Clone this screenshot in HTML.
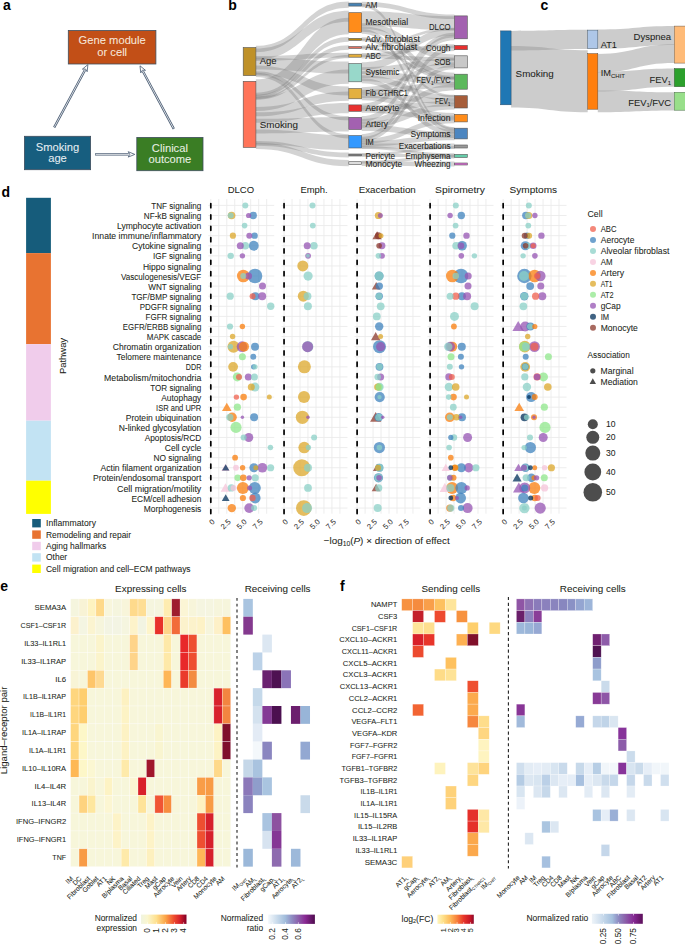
<!DOCTYPE html><html><head><meta charset="utf-8"><style>html,body{margin:0;padding:0;background:#fff;overflow:hidden}svg{display:block} text{font-family:"Liberation Sans", sans-serif}</style></head><body>
<svg width="685" height="946" viewBox="0 0 685 946">
<rect width="685" height="946" fill="#fff"/>
<text x="3.00" y="10.20" font-size="14" text-anchor="start" fill="#000" font-weight="bold" >a</text>
<rect x="68.30" y="30.50" width="87.60" height="33.50" fill="#C24F17" stroke="#3F4E5E" stroke-width="0.8" />
<text x="112.20" y="43.80" font-size="11.2" text-anchor="middle" fill="#F7E6DA" stroke="#F7E6DA" stroke-width="0.06" >Gene module</text>
<text x="112.20" y="56.40" font-size="11.2" text-anchor="middle" fill="#F7E6DA" stroke="#F7E6DA" stroke-width="0.06" >or cell</text>
<rect x="24.40" y="136.30" width="66.20" height="33.40" fill="#175E7F" stroke="#3F4E5E" stroke-width="0.8" />
<text x="57.50" y="150.60" font-size="11.2" text-anchor="middle" fill="#E6EEF3" stroke="#E6EEF3" stroke-width="0.06" >Smoking</text>
<text x="57.50" y="162.40" font-size="11.2" text-anchor="middle" fill="#E6EEF3" stroke="#E6EEF3" stroke-width="0.06" >age</text>
<rect x="136.80" y="137.40" width="66.20" height="33.30" fill="#3A7D24" stroke="#3F4E5E" stroke-width="0.8" />
<text x="169.90" y="151.60" font-size="11.2" text-anchor="middle" fill="#E8F0E3" stroke="#E8F0E3" stroke-width="0.06" >Clinical</text>
<text x="169.90" y="163.40" font-size="11.2" text-anchor="middle" fill="#E8F0E3" stroke="#E8F0E3" stroke-width="0.06" >outcome</text>
<line x1="54.20" y1="127.40" x2="85.02" y2="69.97" stroke="#44576F" stroke-width="2.3"/>
<line x1="54.48" y1="126.87" x2="85.16" y2="69.71" stroke="#fff" stroke-width="0.8"/>
<polygon points="87.90,64.60 87.16,71.69 85.54,69.01 82.40,69.14" fill="#fff" stroke="#44576F" stroke-width="0.8" stroke-linejoin="miter"/>
<line x1="173.80" y1="128.90" x2="142.88" y2="71.18" stroke="#44576F" stroke-width="2.3"/>
<line x1="173.52" y1="128.37" x2="142.74" y2="70.91" stroke="#fff" stroke-width="0.8"/>
<polygon points="140.00,65.80 145.50,70.34 142.36,70.21 140.74,72.89" fill="#fff" stroke="#44576F" stroke-width="0.8" stroke-linejoin="miter"/>
<line x1="95.10" y1="154.40" x2="128.70" y2="154.40" stroke="#44576F" stroke-width="2.3"/>
<line x1="95.70" y1="154.40" x2="129.00" y2="154.40" stroke="#fff" stroke-width="0.8"/>
<polygon points="134.80,154.40 128.20,157.10 129.80,154.40 128.20,151.70" fill="#fff" stroke="#44576F" stroke-width="0.8" stroke-linejoin="miter"/>
<text x="228.30" y="10.00" font-size="14" text-anchor="start" fill="#000" font-weight="bold" >b</text>
<path d="M255.90,45.85 C302.35,45.85 302.35,1.45 348.80,1.45 L348.80,7.75 C302.35,7.75 302.35,52.15 255.90,52.15 Z" fill="#767676" fill-opacity="0.32"/>
<path d="M255.90,48.50 C302.35,48.50 302.35,10.70 348.80,10.70 L348.80,21.70 C302.35,21.70 302.35,59.50 255.90,59.50 Z" fill="#767676" fill-opacity="0.32"/>
<path d="M255.90,56.10 C302.35,56.10 302.35,52.80 348.80,52.80 L348.80,57.60 C302.35,57.60 302.35,60.90 255.90,60.90 Z" fill="#767676" fill-opacity="0.32"/>
<path d="M255.90,57.50 C302.35,57.50 302.35,61.60 348.80,61.60 L348.80,73.60 C302.35,73.60 302.35,69.50 255.90,69.50 Z" fill="#767676" fill-opacity="0.32"/>
<path d="M255.90,65.50 C302.35,65.50 302.35,86.60 348.80,86.60 L348.80,95.60 C302.35,95.60 302.35,74.50 255.90,74.50 Z" fill="#767676" fill-opacity="0.32"/>
<path d="M255.90,72.82 C302.35,72.82 302.35,134.32 348.80,134.32 L348.80,138.38 C302.35,138.38 302.35,76.88 255.90,76.88 Z" fill="#767676" fill-opacity="0.32"/>
<path d="M255.90,71.20 C302.35,71.20 302.35,116.10 348.80,116.10 L348.80,120.30 C302.35,120.30 302.35,75.40 255.90,75.40 Z" fill="#767676" fill-opacity="0.32"/>
<path d="M255.90,79.30 C302.35,79.30 302.35,17.70 348.80,17.70 L348.80,34.30 C302.35,34.30 302.35,96.03 255.90,96.03 Z" fill="#767676" fill-opacity="0.32"/>
<path d="M255.90,92.66 C302.35,92.66 302.35,37.02 348.80,37.02 L348.80,41.67 C302.35,41.67 302.35,97.33 255.90,97.33 Z" fill="#767676" fill-opacity="0.32"/>
<path d="M255.90,94.61 C302.35,94.61 302.35,45.25 348.80,45.25 L348.80,49.75 C302.35,49.75 302.35,99.12 255.90,99.12 Z" fill="#767676" fill-opacity="0.32"/>
<path d="M255.90,96.62 C302.35,96.62 302.35,55.05 348.80,55.05 L348.80,58.35 C302.35,58.35 302.35,99.94 255.90,99.94 Z" fill="#767676" fill-opacity="0.32"/>
<path d="M255.90,96.79 C302.35,96.79 302.35,69.60 348.80,69.60 L348.80,83.80 C302.35,83.80 302.35,111.09 255.90,111.09 Z" fill="#767676" fill-opacity="0.32"/>
<path d="M255.90,107.09 C302.35,107.09 302.35,91.60 348.80,91.60 L348.80,100.80 C302.35,100.80 302.35,116.35 255.90,116.35 Z" fill="#767676" fill-opacity="0.32"/>
<path d="M255.90,112.35 C302.35,112.35 302.35,102.90 348.80,102.90 L348.80,113.30 C302.35,113.30 302.35,122.82 255.90,122.82 Z" fill="#767676" fill-opacity="0.32"/>
<path d="M255.90,118.82 C302.35,118.82 302.35,117.00 348.80,117.00 L348.80,131.50 C302.35,131.50 302.35,133.43 255.90,133.43 Z" fill="#767676" fill-opacity="0.32"/>
<path d="M255.90,129.43 C302.35,129.43 302.35,135.10 348.80,135.10 L348.80,150.00 C302.35,150.00 302.35,144.45 255.90,144.45 Z" fill="#767676" fill-opacity="0.32"/>
<path d="M255.90,141.05 C302.35,141.05 302.35,152.60 348.80,152.60 L348.80,157.40 C302.35,157.40 302.35,145.87 255.90,145.87 Z" fill="#767676" fill-opacity="0.32"/>
<path d="M255.90,142.84 C302.35,142.84 302.35,160.07 348.80,160.07 L348.80,166.22 C302.35,166.22 302.35,149.03 255.90,149.03 Z" fill="#767676" fill-opacity="0.32"/>
<path d="M361.70,1.76 C408.05,1.76 408.05,14.56 454.40,14.56 L454.40,19.08 C408.05,19.08 408.05,6.44 361.70,6.44 Z" fill="#767676" fill-opacity="0.32"/>
<path d="M361.70,4.05 C408.05,4.05 408.05,127.15 454.40,127.15 L454.40,130.25 C408.05,130.25 408.05,7.15 361.70,7.15 Z" fill="#767676" fill-opacity="0.32"/>
<path d="M361.70,11.30 C408.05,11.30 408.05,16.34 454.40,16.34 L454.40,30.18 C408.05,30.18 408.05,26.10 361.70,26.10 Z" fill="#767676" fill-opacity="0.32"/>
<path d="M361.70,23.30 C408.05,23.30 408.05,54.40 454.40,54.40 L454.40,59.99 C408.05,59.99 408.05,29.10 361.70,29.10 Z" fill="#767676" fill-opacity="0.32"/>
<path d="M361.70,26.30 C408.05,26.30 408.05,72.80 454.40,72.80 L454.40,78.39 C408.05,78.39 408.05,31.70 361.70,31.70 Z" fill="#767676" fill-opacity="0.32"/>
<path d="M361.70,28.90 C408.05,28.90 408.05,127.80 454.40,127.80 L454.40,132.60 C408.05,132.60 408.05,33.70 361.70,33.70 Z" fill="#767676" fill-opacity="0.32"/>
<path d="M361.70,37.35 C408.05,37.35 408.05,75.94 454.40,75.94 L454.40,79.11 C408.05,79.11 408.05,40.45 361.70,40.45 Z" fill="#767676" fill-opacity="0.32"/>
<path d="M361.70,38.38 C408.05,38.38 408.05,94.69 454.40,94.69 L454.40,97.62 C408.05,97.62 408.05,41.31 361.70,41.31 Z" fill="#767676" fill-opacity="0.32"/>
<path d="M361.70,45.61 C408.05,45.61 408.05,27.79 454.40,27.79 L454.40,30.59 C408.05,30.59 408.05,48.49 361.70,48.49 Z" fill="#767676" fill-opacity="0.32"/>
<path d="M361.70,46.48 C408.05,46.48 408.05,77.04 454.40,77.04 L454.40,80.04 C408.05,80.04 408.05,49.41 361.70,49.41 Z" fill="#767676" fill-opacity="0.32"/>
<path d="M361.70,52.98 C408.05,52.98 408.05,44.17 454.40,44.17 L454.40,48.24 C408.05,48.24 408.05,56.93 361.70,56.93 Z" fill="#767676" fill-opacity="0.32"/>
<path d="M361.70,54.51 C408.05,54.51 408.05,57.40 454.40,57.40 L454.40,61.18 C408.05,61.18 408.05,58.39 361.70,58.39 Z" fill="#767676" fill-opacity="0.32"/>
<path d="M361.70,62.20 C408.05,62.20 408.05,28.20 454.40,28.20 L454.40,35.60 C408.05,35.60 408.05,70.00 361.70,70.00 Z" fill="#767676" fill-opacity="0.32"/>
<path d="M361.70,67.20 C408.05,67.20 408.05,58.59 454.40,58.59 L454.40,65.11 C408.05,65.11 408.05,74.00 361.70,74.00 Z" fill="#767676" fill-opacity="0.32"/>
<path d="M361.70,71.20 C408.05,71.20 408.05,77.62 454.40,77.62 L454.40,84.71 C408.05,84.71 408.05,78.00 361.70,78.00 Z" fill="#767676" fill-opacity="0.32"/>
<path d="M361.70,75.20 C408.05,75.20 408.05,95.20 454.40,95.20 L454.40,101.00 C408.05,101.00 408.05,81.00 361.70,81.00 Z" fill="#767676" fill-opacity="0.32"/>
<path d="M361.70,78.20 C408.05,78.20 408.05,129.80 454.40,129.80 L454.40,134.80 C408.05,134.80 408.05,83.20 361.70,83.20 Z" fill="#767676" fill-opacity="0.32"/>
<path d="M361.70,87.20 C408.05,87.20 408.05,62.31 454.40,62.31 L454.40,67.44 C408.05,67.44 408.05,92.50 361.70,92.50 Z" fill="#767676" fill-opacity="0.32"/>
<path d="M361.70,89.70 C408.05,89.70 408.05,81.91 454.40,81.91 L454.40,87.39 C408.05,87.39 408.05,95.00 361.70,95.00 Z" fill="#767676" fill-opacity="0.32"/>
<path d="M361.70,92.20 C408.05,92.20 408.05,98.20 454.40,98.20 L454.40,104.00 C408.05,104.00 408.05,98.00 361.70,98.00 Z" fill="#767676" fill-opacity="0.32"/>
<path d="M361.70,95.20 C408.05,95.20 408.05,112.90 454.40,112.90 L454.40,118.20 C408.05,118.20 408.05,100.20 361.70,100.20 Z" fill="#767676" fill-opacity="0.32"/>
<path d="M361.70,103.56 C408.05,103.56 408.05,32.86 454.40,32.86 L454.40,37.38 C408.05,37.38 408.05,108.24 361.70,108.24 Z" fill="#767676" fill-opacity="0.32"/>
<path d="M361.70,105.50 C408.05,105.50 408.05,101.20 454.40,101.20 L454.40,106.40 C408.05,106.40 408.05,110.70 361.70,110.70 Z" fill="#767676" fill-opacity="0.32"/>
<path d="M361.70,107.90 C408.05,107.90 408.05,115.40 454.40,115.40 L454.40,120.46 C408.05,120.46 408.05,112.70 361.70,112.70 Z" fill="#767676" fill-opacity="0.32"/>
<path d="M361.70,116.00 C408.05,116.00 408.05,34.64 454.40,34.64 L454.40,40.20 C408.05,40.20 408.05,121.80 361.70,121.80 Z" fill="#767676" fill-opacity="0.32"/>
<path d="M361.70,119.00 C408.05,119.00 408.05,84.59 454.40,84.59 L454.40,90.60 C408.05,90.60 408.05,124.80 361.70,124.80 Z" fill="#767676" fill-opacity="0.32"/>
<path d="M361.70,122.00 C408.05,122.00 408.05,103.60 454.40,103.60 L454.40,109.40 C408.05,109.40 408.05,127.80 361.70,127.80 Z" fill="#767676" fill-opacity="0.32"/>
<path d="M361.70,125.00 C408.05,125.00 408.05,132.00 454.40,132.00 L454.40,137.90 C408.05,137.90 408.05,130.90 361.70,130.90 Z" fill="#767676" fill-opacity="0.32"/>
<path d="M361.70,134.20 C408.05,134.20 408.05,45.61 454.40,45.61 L454.40,51.10 C408.05,51.10 408.05,139.50 361.70,139.50 Z" fill="#767676" fill-opacity="0.32"/>
<path d="M361.70,136.75 C408.05,136.75 408.05,64.69 454.40,64.69 L454.40,69.25 C408.05,69.25 408.05,141.45 361.70,141.45 Z" fill="#767676" fill-opacity="0.32"/>
<path d="M361.70,138.70 C408.05,138.70 408.05,117.66 454.40,117.66 L454.40,123.30 C408.05,123.30 408.05,144.00 361.70,144.00 Z" fill="#767676" fill-opacity="0.32"/>
<path d="M361.70,141.20 C408.05,141.20 408.05,135.10 454.40,135.10 L454.40,140.30 C408.05,140.30 408.05,146.40 361.70,146.40 Z" fill="#767676" fill-opacity="0.32"/>
<path d="M361.70,143.60 C408.05,143.60 408.05,143.60 454.40,143.60 L454.40,148.54 C408.05,148.54 408.05,148.40 361.70,148.40 Z" fill="#767676" fill-opacity="0.32"/>
<path d="M361.70,145.95 C408.05,145.95 408.05,153.35 454.40,153.35 L454.40,156.45 C408.05,156.45 408.05,149.05 361.70,149.05 Z" fill="#767676" fill-opacity="0.32"/>
<path d="M361.70,153.68 C408.05,153.68 408.05,154.28 454.40,154.28 L454.40,157.72 C408.05,157.72 408.05,157.12 361.70,157.12 Z" fill="#767676" fill-opacity="0.32"/>
<path d="M361.70,153.02 C408.05,153.02 408.05,146.16 454.40,146.16 L454.40,148.98 C408.05,148.98 408.05,155.78 361.70,155.78 Z" fill="#767676" fill-opacity="0.32"/>
<path d="M361.70,161.20 C408.05,161.20 408.05,161.60 454.40,161.60 L454.40,166.40 C408.05,166.40 408.05,166.00 361.70,166.00 Z" fill="#767676" fill-opacity="0.32"/>
<path d="M361.70,160.68 C408.05,160.68 408.05,155.58 454.40,155.58 L454.40,158.52 C408.05,158.52 408.05,163.62 361.70,163.62 Z" fill="#767676" fill-opacity="0.32"/>
<rect x="243.20" y="47.50" width="12.70" height="28.10" fill="#BF9128" stroke="#555" stroke-width="0.6" />
<rect x="243.20" y="81.30" width="12.70" height="66.10" fill="#FF7459" stroke="#555" stroke-width="0.6" />
<rect x="348.80" y="3.10" width="12.90" height="3.00" fill="#4682B4" stroke="#555" stroke-width="0.6" />
<rect x="348.80" y="12.70" width="12.90" height="19.60" fill="#FF8C1A" stroke="#555" stroke-width="0.6" />
<rect x="348.80" y="38.40" width="12.90" height="1.90" fill="#B8860B" stroke="#555" stroke-width="0.6" />
<rect x="348.80" y="46.60" width="12.90" height="1.80" fill="#E07060" stroke="#555" stroke-width="0.6" />
<rect x="348.80" y="54.20" width="12.90" height="3.00" fill="#E5AE3A" stroke="#555" stroke-width="0.6" />
<rect x="348.80" y="63.60" width="12.90" height="18.20" fill="#98D8CA" stroke="#555" stroke-width="0.6" />
<rect x="348.80" y="88.60" width="12.90" height="10.20" fill="#E3B040" stroke="#555" stroke-width="0.6" />
<rect x="348.80" y="104.90" width="12.90" height="6.40" fill="#E8302F" stroke="#555" stroke-width="0.6" />
<rect x="348.80" y="117.40" width="12.90" height="12.10" fill="#A361B0" stroke="#555" stroke-width="0.6" />
<rect x="348.80" y="135.60" width="12.90" height="12.40" fill="#3399FF" stroke="#555" stroke-width="0.6" />
<rect x="348.80" y="154.00" width="12.90" height="2.00" fill="#808080" stroke="#555" stroke-width="0.6" />
<rect x="348.80" y="161.70" width="12.90" height="2.90" fill="#DDDDDD" stroke="#555" stroke-width="0.6" />
<rect x="454.40" y="15.90" width="12.90" height="22.90" fill="#A361B0" stroke="#555" stroke-width="0.6" />
<rect x="454.40" y="45.40" width="12.90" height="4.30" fill="#E8302F" stroke="#555" stroke-width="0.6" />
<rect x="454.40" y="55.80" width="12.90" height="12.10" fill="#C8C8C8" stroke="#555" stroke-width="0.6" />
<rect x="454.40" y="74.20" width="12.90" height="15.00" fill="#5CB85C" stroke="#555" stroke-width="0.6" />
<rect x="454.40" y="95.70" width="12.90" height="12.30" fill="#A65D3A" stroke="#555" stroke-width="0.6" />
<rect x="454.40" y="114.30" width="12.90" height="7.60" fill="#FF8C1A" stroke="#555" stroke-width="0.6" />
<rect x="454.40" y="128.20" width="12.90" height="10.70" fill="#4C86C0" stroke="#555" stroke-width="0.6" />
<rect x="454.40" y="145.00" width="12.90" height="3.00" fill="#999999" stroke="#555" stroke-width="0.6" />
<rect x="454.40" y="154.40" width="12.90" height="3.10" fill="#66CDAA" stroke="#555" stroke-width="0.6" />
<rect x="454.40" y="163.00" width="12.90" height="2.00" fill="#DA70D6" stroke="#555" stroke-width="0.6" />
<text x="259.70" y="63.90" font-size="9.9" text-anchor="start" fill="#231F20" stroke="#231F20" stroke-width="0.06" textLength="17" lengthAdjust="spacingAndGlyphs">Age</text>
<text x="259.70" y="128.00" font-size="9.9" text-anchor="start" fill="#231F20" stroke="#231F20" stroke-width="0.06" textLength="38.3" lengthAdjust="spacingAndGlyphs">Smoking</text>
<text x="365.50" y="7.60" font-size="8.3" text-anchor="start" fill="#231F20" stroke="#231F20" stroke-width="0.06" textLength="11.9" lengthAdjust="spacingAndGlyphs">AM</text>
<text x="365.50" y="25.40" font-size="8.3" text-anchor="start" fill="#231F20" stroke="#231F20" stroke-width="0.06" textLength="42.6" lengthAdjust="spacingAndGlyphs">Mesothelial</text>
<text x="365.50" y="42.00" font-size="8.3" text-anchor="start" fill="#231F20" stroke="#231F20" stroke-width="0.06" textLength="54.4" lengthAdjust="spacingAndGlyphs">Adv. fibroblast</text>
<text x="365.50" y="49.70" font-size="8.3" text-anchor="start" fill="#231F20" stroke="#231F20" stroke-width="0.06" textLength="51.8" lengthAdjust="spacingAndGlyphs">Alv. fibroblast</text>
<text x="365.50" y="58.60" font-size="8.3" text-anchor="start" fill="#231F20" stroke="#231F20" stroke-width="0.06" textLength="15.4" lengthAdjust="spacingAndGlyphs">ABC</text>
<text x="365.50" y="75.40" font-size="8.3" text-anchor="start" fill="#231F20" stroke="#231F20" stroke-width="0.06" textLength="33.8" lengthAdjust="spacingAndGlyphs">Systemic</text>
<text x="365.50" y="96.30" font-size="8.3" text-anchor="start" fill="#231F20" stroke="#231F20" stroke-width="0.06" textLength="42.5" lengthAdjust="spacingAndGlyphs">Fib CTHRC1</text>
<text x="365.50" y="111.00" font-size="8.3" text-anchor="start" fill="#231F20" stroke="#231F20" stroke-width="0.06" textLength="33.8" lengthAdjust="spacingAndGlyphs">Aerocyte</text>
<text x="365.50" y="126.80" font-size="8.3" text-anchor="start" fill="#231F20" stroke="#231F20" stroke-width="0.06" textLength="22.5" lengthAdjust="spacingAndGlyphs">Artery</text>
<text x="365.50" y="144.80" font-size="8.3" text-anchor="start" fill="#231F20" stroke="#231F20" stroke-width="0.06" textLength="8.2" lengthAdjust="spacingAndGlyphs">IM</text>
<text x="365.50" y="158.80" font-size="8.3" text-anchor="start" fill="#231F20" stroke="#231F20" stroke-width="0.06" textLength="29.6" lengthAdjust="spacingAndGlyphs">Pericyte</text>
<text x="365.50" y="167.00" font-size="8.3" text-anchor="start" fill="#231F20" stroke="#231F20" stroke-width="0.06" textLength="36.8" lengthAdjust="spacingAndGlyphs">Monocyte</text>
<text x="450.50" y="30.30" font-size="8.3" text-anchor="end" fill="#231F20" stroke="#231F20" stroke-width="0.06" textLength="21.5" lengthAdjust="spacingAndGlyphs">DLCO</text>
<text x="450.50" y="50.60" font-size="8.3" text-anchor="end" fill="#231F20" stroke="#231F20" stroke-width="0.06" textLength="24.7" lengthAdjust="spacingAndGlyphs">Cough</text>
<text x="450.50" y="64.60" font-size="8.3" text-anchor="end" fill="#231F20" stroke="#231F20" stroke-width="0.06" textLength="15.9" lengthAdjust="spacingAndGlyphs">SOB</text>
<text x="450.50" y="83.30" font-size="8.3" text-anchor="end" fill="#231F20" stroke="#231F20" stroke-width="0.06" textLength="33.9" lengthAdjust="spacingAndGlyphs">FEV<tspan font-size="5.4" dy="1.8">1</tspan><tspan dy="-1.8">/FVC</tspan></text>
<text x="450.50" y="104.00" font-size="8.3" text-anchor="end" fill="#231F20" stroke="#231F20" stroke-width="0.06" textLength="15.5" lengthAdjust="spacingAndGlyphs">FEV<tspan font-size="5.4" dy="1.8">1</tspan></text>
<text x="450.50" y="121.30" font-size="8.3" text-anchor="end" fill="#231F20" stroke="#231F20" stroke-width="0.06" textLength="32.8" lengthAdjust="spacingAndGlyphs">Infection</text>
<text x="450.50" y="136.60" font-size="8.3" text-anchor="end" fill="#231F20" stroke="#231F20" stroke-width="0.06" textLength="40.0" lengthAdjust="spacingAndGlyphs">Symptoms</text>
<text x="450.50" y="149.30" font-size="8.3" text-anchor="end" fill="#231F20" stroke="#231F20" stroke-width="0.06" textLength="51.7" lengthAdjust="spacingAndGlyphs">Exacerbations</text>
<text x="450.50" y="158.60" font-size="8.3" text-anchor="end" fill="#231F20" stroke="#231F20" stroke-width="0.06" textLength="45.1" lengthAdjust="spacingAndGlyphs">Emphysema</text>
<text x="450.50" y="167.00" font-size="8.3" text-anchor="end" fill="#231F20" stroke="#231F20" stroke-width="0.06" textLength="35.9" lengthAdjust="spacingAndGlyphs">Wheezing</text>
<text x="540.60" y="10.20" font-size="14" text-anchor="start" fill="#000" font-weight="bold" >c</text>
<path d="M511.10,30.90 C549.40,30.90 549.40,29.80 587.70,29.80 L587.70,49.00 C549.40,49.00 549.40,50.50 511.10,50.50 Z" fill="#9A9A9A" fill-opacity="0.5"/>
<path d="M511.10,46.00 C549.40,46.00 549.40,50.30 587.70,50.30 L587.70,112.30 C549.40,112.30 549.40,107.50 511.10,107.50 Z" fill="#9A9A9A" fill-opacity="0.5"/>
<path d="M597.80,29.60 C636.05,29.60 636.05,26.10 674.30,26.10 L674.30,45.00 C636.05,45.00 636.05,48.80 597.80,48.80 Z" fill="#9A9A9A" fill-opacity="0.5"/>
<path d="M597.80,53.90 C636.05,53.90 636.05,44.30 674.30,44.30 L674.30,63.10 C636.05,63.10 636.05,72.50 597.80,72.50 Z" fill="#9A9A9A" fill-opacity="0.5"/>
<path d="M597.80,72.00 C636.05,72.00 636.05,68.60 674.30,68.60 L674.30,86.70 C636.05,86.70 636.05,91.50 597.80,91.50 Z" fill="#9A9A9A" fill-opacity="0.5"/>
<path d="M597.80,90.50 C636.05,90.50 636.05,92.30 674.30,92.30 L674.30,110.60 C636.05,110.60 636.05,112.30 597.80,112.30 Z" fill="#9A9A9A" fill-opacity="0.5"/>
<rect x="500.60" y="30.90" width="10.50" height="73.90" fill="#1F77B4" stroke="#2B4B66" stroke-width="0.5" />
<rect x="587.70" y="30.10" width="10.10" height="18.50" fill="#AEC7E8" stroke="#3E5060" stroke-width="0.5" />
<rect x="587.70" y="53.70" width="10.10" height="55.50" fill="#FF7F0E" stroke="#5E4530" stroke-width="0.5" />
<rect x="674.30" y="26.10" width="12.00" height="37.00" fill="#FFBB78" stroke="#6B5A48" stroke-width="0.5" />
<rect x="674.30" y="68.60" width="12.00" height="18.10" fill="#2CA02C" stroke="#305030" stroke-width="0.5" />
<rect x="674.30" y="92.30" width="12.00" height="17.90" fill="#98DF8A" stroke="#4B6B48" stroke-width="0.5" />
<text x="515.60" y="77.30" font-size="9.8" text-anchor="start" fill="#231F20" stroke="#231F20" stroke-width="0.06" >Smoking</text>
<text x="600.80" y="47.90" font-size="9.2" text-anchor="start" fill="#231F20" stroke="#231F20" stroke-width="0.06" >AT1</text>
<text x="600.80" y="75.70" font-size="9.2" text-anchor="start" fill="#231F20" stroke="#231F20" stroke-width="0.06" >IM<tspan font-size="6.0" dy="1.8">CHIT</tspan></text>
<text x="671.10" y="39.90" font-size="9.5" text-anchor="end" fill="#231F20" stroke="#231F20" stroke-width="0.06" >Dyspnea</text>
<text x="671.10" y="82.70" font-size="9.4" text-anchor="end" fill="#231F20" stroke="#231F20" stroke-width="0.06" >FEV<tspan font-size="6.0" dy="1.8">1</tspan></text>
<text x="671.10" y="105.60" font-size="9.4" text-anchor="end" fill="#231F20" stroke="#231F20" stroke-width="0.06" >FEV<tspan font-size="6.0" dy="1.8">1</tspan><tspan dy="-1.8">/FVC</tspan></text>
<text x="1.50" y="196.60" font-size="14" text-anchor="start" fill="#000" font-weight="bold" >d</text>
<rect x="26.10" y="197.80" width="24.80" height="55.30" fill="#165C7B" />
<rect x="26.10" y="253.10" width="24.80" height="91.10" fill="#E87331" />
<rect x="26.10" y="344.20" width="24.80" height="76.50" fill="#F0CCEB" />
<rect x="26.10" y="420.70" width="24.80" height="60.00" fill="#C2E3F3" />
<rect x="26.10" y="480.70" width="24.80" height="33.20" fill="#FFFF00" />
<text transform="translate(66.4,356) rotate(-90)" font-size="9.3" textLength="36.2" lengthAdjust="spacingAndGlyphs" text-anchor="middle" fill="#231F20" stroke="#231F20" stroke-width="0.06">Pathway</text>
<text x="201.30" y="209.00" font-size="8.45" text-anchor="end" fill="#231F20" stroke="#231F20" stroke-width="0.06" textLength="50" lengthAdjust="spacingAndGlyphs">TNF signaling</text>
<text x="201.30" y="219.09" font-size="8.45" text-anchor="end" fill="#231F20" stroke="#231F20" stroke-width="0.06" textLength="57.5" lengthAdjust="spacingAndGlyphs">NF-kB signaling</text>
<text x="201.30" y="229.18" font-size="8.45" text-anchor="end" fill="#231F20" stroke="#231F20" stroke-width="0.06" textLength="84.3" lengthAdjust="spacingAndGlyphs">Lymphocyte activation</text>
<text x="201.30" y="239.27" font-size="8.45" text-anchor="end" fill="#231F20" stroke="#231F20" stroke-width="0.06" textLength="109.2" lengthAdjust="spacingAndGlyphs">Innate immune/inflammatory</text>
<text x="201.30" y="249.36" font-size="8.45" text-anchor="end" fill="#231F20" stroke="#231F20" stroke-width="0.06" textLength="69.2" lengthAdjust="spacingAndGlyphs">Cytokine signaling</text>
<text x="201.30" y="259.45" font-size="8.45" text-anchor="end" fill="#231F20" stroke="#231F20" stroke-width="0.06" textLength="48.2" lengthAdjust="spacingAndGlyphs">IGF signaling</text>
<text x="201.30" y="269.54" font-size="8.45" text-anchor="end" fill="#231F20" stroke="#231F20" stroke-width="0.06" textLength="58.4" lengthAdjust="spacingAndGlyphs">Hippo signaling</text>
<text x="201.30" y="279.63" font-size="8.45" text-anchor="end" fill="#231F20" stroke="#231F20" stroke-width="0.06" textLength="80.3" lengthAdjust="spacingAndGlyphs">Vasculogenesis/VEGF</text>
<text x="201.30" y="289.72" font-size="8.45" text-anchor="end" fill="#231F20" stroke="#231F20" stroke-width="0.06" textLength="53.1" lengthAdjust="spacingAndGlyphs">WNT signaling</text>
<text x="201.30" y="299.81" font-size="8.45" text-anchor="end" fill="#231F20" stroke="#231F20" stroke-width="0.06" textLength="69.9" lengthAdjust="spacingAndGlyphs">TGF/BMP signaling</text>
<text x="201.30" y="309.90" font-size="8.45" text-anchor="end" fill="#231F20" stroke="#231F20" stroke-width="0.06" textLength="61.5" lengthAdjust="spacingAndGlyphs">PDGFR signaling</text>
<text x="201.30" y="319.99" font-size="8.45" text-anchor="end" fill="#231F20" stroke="#231F20" stroke-width="0.06" textLength="55.8" lengthAdjust="spacingAndGlyphs">FGFR signaling</text>
<text x="201.30" y="330.08" font-size="8.45" text-anchor="end" fill="#231F20" stroke="#231F20" stroke-width="0.06" textLength="78.5" lengthAdjust="spacingAndGlyphs">EGFR/ERBB signaling</text>
<text x="201.30" y="340.17" font-size="8.45" text-anchor="end" fill="#231F20" stroke="#231F20" stroke-width="0.06" textLength="54.5" lengthAdjust="spacingAndGlyphs">MAPK cascade</text>
<text x="201.30" y="350.26" font-size="8.45" text-anchor="end" fill="#231F20" stroke="#231F20" stroke-width="0.06" textLength="88.5" lengthAdjust="spacingAndGlyphs">Chromatin organization</text>
<text x="201.30" y="360.35" font-size="8.45" text-anchor="end" fill="#231F20" stroke="#231F20" stroke-width="0.06" textLength="84.7" lengthAdjust="spacingAndGlyphs">Telomere maintenance</text>
<text x="201.30" y="370.44" font-size="8.45" text-anchor="end" fill="#231F20" stroke="#231F20" stroke-width="0.06" textLength="15.5" lengthAdjust="spacingAndGlyphs">DDR</text>
<text x="201.30" y="380.53" font-size="8.45" text-anchor="end" fill="#231F20" stroke="#231F20" stroke-width="0.06" textLength="97.3" lengthAdjust="spacingAndGlyphs">Metabolism/mitochondria</text>
<text x="201.30" y="390.62" font-size="8.45" text-anchor="end" fill="#231F20" stroke="#231F20" stroke-width="0.06" textLength="51" lengthAdjust="spacingAndGlyphs">TOR signaling</text>
<text x="201.30" y="400.71" font-size="8.45" text-anchor="end" fill="#231F20" stroke="#231F20" stroke-width="0.06" textLength="40" lengthAdjust="spacingAndGlyphs">Autophagy</text>
<text x="201.30" y="410.80" font-size="8.45" text-anchor="end" fill="#231F20" stroke="#231F20" stroke-width="0.06" textLength="45.2" lengthAdjust="spacingAndGlyphs">ISR and UPR</text>
<text x="201.30" y="420.89" font-size="8.45" text-anchor="end" fill="#231F20" stroke="#231F20" stroke-width="0.06" textLength="75.6" lengthAdjust="spacingAndGlyphs">Protein ubiquination</text>
<text x="201.30" y="430.98" font-size="8.45" text-anchor="end" fill="#231F20" stroke="#231F20" stroke-width="0.06" textLength="82.6" lengthAdjust="spacingAndGlyphs">N-linked glycosylation</text>
<text x="201.30" y="441.07" font-size="8.45" text-anchor="end" fill="#231F20" stroke="#231F20" stroke-width="0.06" textLength="56.6" lengthAdjust="spacingAndGlyphs">Apoptosis/RCD</text>
<text x="201.30" y="451.16" font-size="8.45" text-anchor="end" fill="#231F20" stroke="#231F20" stroke-width="0.06" textLength="36.5" lengthAdjust="spacingAndGlyphs">Cell cycle</text>
<text x="201.30" y="461.25" font-size="8.45" text-anchor="end" fill="#231F20" stroke="#231F20" stroke-width="0.06" textLength="47.9" lengthAdjust="spacingAndGlyphs">NO signaling</text>
<text x="201.30" y="471.34" font-size="8.45" text-anchor="end" fill="#231F20" stroke="#231F20" stroke-width="0.06" textLength="100.8" lengthAdjust="spacingAndGlyphs">Actin filament organization</text>
<text x="201.30" y="481.43" font-size="8.45" text-anchor="end" fill="#231F20" stroke="#231F20" stroke-width="0.06" textLength="108.3" lengthAdjust="spacingAndGlyphs">Protein/endosomal transport</text>
<text x="201.30" y="491.52" font-size="8.45" text-anchor="end" fill="#231F20" stroke="#231F20" stroke-width="0.06" textLength="84.3" lengthAdjust="spacingAndGlyphs">Cell migration/motility</text>
<text x="201.30" y="501.61" font-size="8.45" text-anchor="end" fill="#231F20" stroke="#231F20" stroke-width="0.06" textLength="69.8" lengthAdjust="spacingAndGlyphs">ECM/cell adhesion</text>
<text x="201.30" y="511.70" font-size="8.45" text-anchor="end" fill="#231F20" stroke="#231F20" stroke-width="0.06" textLength="57.5" lengthAdjust="spacingAndGlyphs">Morphogenesis</text>
<text x="240.90" y="192.80" font-size="9.9" text-anchor="middle" fill="#231F20" stroke="#231F20" stroke-width="0.06" textLength="26.4" lengthAdjust="spacingAndGlyphs">DLCO</text>
<line x1="208.20" y1="205.40" x2="274.20" y2="205.40" stroke="#EBEBEB" stroke-width="0.9"/>
<line x1="208.20" y1="215.49" x2="274.20" y2="215.49" stroke="#EBEBEB" stroke-width="0.9"/>
<line x1="208.20" y1="225.58" x2="274.20" y2="225.58" stroke="#EBEBEB" stroke-width="0.9"/>
<line x1="208.20" y1="235.67" x2="274.20" y2="235.67" stroke="#EBEBEB" stroke-width="0.9"/>
<line x1="208.20" y1="245.76" x2="274.20" y2="245.76" stroke="#EBEBEB" stroke-width="0.9"/>
<line x1="208.20" y1="255.85" x2="274.20" y2="255.85" stroke="#EBEBEB" stroke-width="0.9"/>
<line x1="208.20" y1="265.94" x2="274.20" y2="265.94" stroke="#EBEBEB" stroke-width="0.9"/>
<line x1="208.20" y1="276.03" x2="274.20" y2="276.03" stroke="#EBEBEB" stroke-width="0.9"/>
<line x1="208.20" y1="286.12" x2="274.20" y2="286.12" stroke="#EBEBEB" stroke-width="0.9"/>
<line x1="208.20" y1="296.21" x2="274.20" y2="296.21" stroke="#EBEBEB" stroke-width="0.9"/>
<line x1="208.20" y1="306.30" x2="274.20" y2="306.30" stroke="#EBEBEB" stroke-width="0.9"/>
<line x1="208.20" y1="316.39" x2="274.20" y2="316.39" stroke="#EBEBEB" stroke-width="0.9"/>
<line x1="208.20" y1="326.48" x2="274.20" y2="326.48" stroke="#EBEBEB" stroke-width="0.9"/>
<line x1="208.20" y1="336.57" x2="274.20" y2="336.57" stroke="#EBEBEB" stroke-width="0.9"/>
<line x1="208.20" y1="346.66" x2="274.20" y2="346.66" stroke="#EBEBEB" stroke-width="0.9"/>
<line x1="208.20" y1="356.75" x2="274.20" y2="356.75" stroke="#EBEBEB" stroke-width="0.9"/>
<line x1="208.20" y1="366.84" x2="274.20" y2="366.84" stroke="#EBEBEB" stroke-width="0.9"/>
<line x1="208.20" y1="376.93" x2="274.20" y2="376.93" stroke="#EBEBEB" stroke-width="0.9"/>
<line x1="208.20" y1="387.02" x2="274.20" y2="387.02" stroke="#EBEBEB" stroke-width="0.9"/>
<line x1="208.20" y1="397.11" x2="274.20" y2="397.11" stroke="#EBEBEB" stroke-width="0.9"/>
<line x1="208.20" y1="407.20" x2="274.20" y2="407.20" stroke="#EBEBEB" stroke-width="0.9"/>
<line x1="208.20" y1="417.29" x2="274.20" y2="417.29" stroke="#EBEBEB" stroke-width="0.9"/>
<line x1="208.20" y1="427.38" x2="274.20" y2="427.38" stroke="#EBEBEB" stroke-width="0.9"/>
<line x1="208.20" y1="437.47" x2="274.20" y2="437.47" stroke="#EBEBEB" stroke-width="0.9"/>
<line x1="208.20" y1="447.56" x2="274.20" y2="447.56" stroke="#EBEBEB" stroke-width="0.9"/>
<line x1="208.20" y1="457.65" x2="274.20" y2="457.65" stroke="#EBEBEB" stroke-width="0.9"/>
<line x1="208.20" y1="467.74" x2="274.20" y2="467.74" stroke="#EBEBEB" stroke-width="0.9"/>
<line x1="208.20" y1="477.83" x2="274.20" y2="477.83" stroke="#EBEBEB" stroke-width="0.9"/>
<line x1="208.20" y1="487.92" x2="274.20" y2="487.92" stroke="#EBEBEB" stroke-width="0.9"/>
<line x1="208.20" y1="498.01" x2="274.20" y2="498.01" stroke="#EBEBEB" stroke-width="0.9"/>
<line x1="208.20" y1="508.10" x2="274.20" y2="508.10" stroke="#EBEBEB" stroke-width="0.9"/>
<line x1="210.80" y1="199.0" x2="210.80" y2="513.7" stroke="#EBEBEB" stroke-width="0.9"/>
<line x1="218.78" y1="199.0" x2="218.78" y2="513.7" stroke="#EBEBEB" stroke-width="0.9"/>
<line x1="226.76" y1="199.0" x2="226.76" y2="513.7" stroke="#EBEBEB" stroke-width="0.9"/>
<line x1="234.74" y1="199.0" x2="234.74" y2="513.7" stroke="#EBEBEB" stroke-width="0.9"/>
<line x1="242.72" y1="199.0" x2="242.72" y2="513.7" stroke="#EBEBEB" stroke-width="0.9"/>
<line x1="250.70" y1="199.0" x2="250.70" y2="513.7" stroke="#EBEBEB" stroke-width="0.9"/>
<line x1="258.68" y1="199.0" x2="258.68" y2="513.7" stroke="#EBEBEB" stroke-width="0.9"/>
<line x1="266.66" y1="199.0" x2="266.66" y2="513.7" stroke="#EBEBEB" stroke-width="0.9"/>
<line x1="210.80" y1="203.6" x2="210.80" y2="513.7" stroke="#000" stroke-width="1.7" stroke-linecap="round" stroke-dasharray="4.1 7.23"/>
<text transform="translate(215.30,522.3) rotate(-45)" font-size="7.6" text-anchor="end" fill="#333" stroke="#333" stroke-width="0.06">0</text>
<text transform="translate(231.26,522.3) rotate(-45)" font-size="7.6" text-anchor="end" fill="#333" stroke="#333" stroke-width="0.06">2.5</text>
<text transform="translate(247.22,522.3) rotate(-45)" font-size="7.6" text-anchor="end" fill="#333" stroke="#333" stroke-width="0.06">5.0</text>
<text transform="translate(263.18,522.3) rotate(-45)" font-size="7.6" text-anchor="end" fill="#333" stroke="#333" stroke-width="0.06">7.5</text>
<circle cx="255.00" cy="276.03" r="7.30" fill="#3F83BE" fill-opacity="0.75"/>
<circle cx="243.30" cy="276.03" r="6.30" fill="#FA7E0C" fill-opacity="0.75"/>
<circle cx="233.50" cy="346.66" r="6.00" fill="#DCA72A" fill-opacity="0.75"/>
<circle cx="242.90" cy="487.92" r="6.00" fill="#FA7E0C" fill-opacity="0.75"/>
<circle cx="254.80" cy="487.92" r="6.00" fill="#3F83BE" fill-opacity="0.75"/>
<circle cx="236.00" cy="427.38" r="5.60" fill="#8FE78B" fill-opacity="0.75"/>
<circle cx="255.20" cy="498.01" r="5.40" fill="#3F83BE" fill-opacity="0.75"/>
<circle cx="242.00" cy="346.66" r="5.30" fill="#9654B3" fill-opacity="0.75"/>
<circle cx="244.00" cy="346.66" r="5.00" fill="#FA7E0C" fill-opacity="0.75"/>
<circle cx="253.80" cy="245.76" r="4.90" fill="#3F83BE" fill-opacity="0.75"/>
<circle cx="233.10" cy="366.84" r="4.90" fill="#DCA72A" fill-opacity="0.75"/>
<circle cx="249.20" cy="508.10" r="4.90" fill="#9654B3" fill-opacity="0.75"/>
<polygon points="226.80,402.63 222.00,410.94 231.60,410.94" fill="#FA7E0C" fill-opacity="0.75"/>
<circle cx="262.40" cy="467.74" r="4.80" fill="#9654B3" fill-opacity="0.75"/>
<polygon points="225.50,483.35 220.70,491.66 230.30,491.66" fill="#F5C4DA" fill-opacity="0.75"/>
<circle cx="232.10" cy="417.29" r="4.70" fill="#FA7E0C" fill-opacity="0.75"/>
<circle cx="237.30" cy="376.93" r="4.50" fill="#8FE78B" fill-opacity="0.75"/>
<circle cx="248.80" cy="437.47" r="4.50" fill="#9654B3" fill-opacity="0.75"/>
<circle cx="253.90" cy="467.74" r="4.50" fill="#3F83BE" fill-opacity="0.75"/>
<circle cx="255.00" cy="387.02" r="4.40" fill="#8BD0C7" fill-opacity="0.75"/>
<polygon points="225.50,463.74 221.30,471.01 229.70,471.01" fill="#F5C4DA" fill-opacity="0.75"/>
<circle cx="231.80" cy="508.10" r="4.20" fill="#FA7E0C" fill-opacity="0.75"/>
<circle cx="255.40" cy="296.21" r="4.00" fill="#3F83BE" fill-opacity="0.75"/>
<circle cx="262.20" cy="296.21" r="4.00" fill="#9654B3" fill-opacity="0.75"/>
<circle cx="255.00" cy="346.66" r="4.00" fill="#3F83BE" fill-opacity="0.75"/>
<circle cx="254.10" cy="417.29" r="4.00" fill="#3F83BE" fill-opacity="0.75"/>
<polygon points="225.70,494.29 221.80,501.05 229.60,501.05" fill="#002F5A" fill-opacity="0.75"/>
<circle cx="231.60" cy="215.49" r="3.80" fill="#DCA72A" fill-opacity="0.75"/>
<circle cx="245.30" cy="245.76" r="3.80" fill="#8BD0C7" fill-opacity="0.75"/>
<circle cx="253.20" cy="215.49" r="3.70" fill="#3F83BE" fill-opacity="0.75"/>
<circle cx="270.70" cy="306.30" r="3.70" fill="#8BD0C7" fill-opacity="0.75"/>
<polygon points="225.70,464.22 222.00,470.62 229.40,470.62" fill="#002F5A" fill-opacity="0.75"/>
<circle cx="231.40" cy="487.92" r="3.70" fill="#8BD0C7" fill-opacity="0.75"/>
<circle cx="230.20" cy="296.21" r="3.60" fill="#8BD0C7" fill-opacity="0.75"/>
<circle cx="237.40" cy="407.20" r="3.60" fill="#8FE78B" fill-opacity="0.75"/>
<circle cx="229.80" cy="417.29" r="3.60" fill="#8BD0C7" fill-opacity="0.75"/>
<circle cx="270.60" cy="467.74" r="3.60" fill="#8BD0C7" fill-opacity="0.75"/>
<circle cx="255.20" cy="477.83" r="3.60" fill="#8BD0C7" fill-opacity="0.75"/>
<circle cx="240.30" cy="245.76" r="3.50" fill="#9654B3" fill-opacity="0.75"/>
<circle cx="248.50" cy="276.03" r="3.50" fill="#9654B3" fill-opacity="0.75"/>
<circle cx="262.50" cy="286.12" r="3.50" fill="#9654B3" fill-opacity="0.75"/>
<circle cx="242.40" cy="356.75" r="3.50" fill="#8FE78B" fill-opacity="0.75"/>
<circle cx="248.30" cy="376.93" r="3.50" fill="#9654B3" fill-opacity="0.75"/>
<circle cx="254.40" cy="376.93" r="3.50" fill="#8BD0C7" fill-opacity="0.75"/>
<circle cx="251.30" cy="387.02" r="3.50" fill="#DCA72A" fill-opacity="0.75"/>
<circle cx="243.60" cy="397.11" r="3.30" fill="#FA7E0C" fill-opacity="0.75"/>
<circle cx="237.70" cy="477.83" r="3.30" fill="#8FE78B" fill-opacity="0.75"/>
<circle cx="243.30" cy="477.83" r="3.30" fill="#FA7E0C" fill-opacity="0.75"/>
<circle cx="254.60" cy="235.67" r="3.20" fill="#3F83BE" fill-opacity="0.75"/>
<circle cx="230.70" cy="255.85" r="3.20" fill="#8BD0C7" fill-opacity="0.75"/>
<circle cx="252.50" cy="498.01" r="3.20" fill="#F0604E" fill-opacity="0.75"/>
<circle cx="232.90" cy="235.67" r="3.10" fill="#DCA72A" fill-opacity="0.75"/>
<circle cx="230.00" cy="326.48" r="3.10" fill="#8BD0C7" fill-opacity="0.75"/>
<circle cx="242.90" cy="498.01" r="3.10" fill="#FA7E0C" fill-opacity="0.75"/>
<circle cx="245.30" cy="205.40" r="3.00" fill="#8BD0C7" fill-opacity="0.75"/>
<circle cx="230.70" cy="215.49" r="3.00" fill="#8BD0C7" fill-opacity="0.75"/>
<circle cx="249.30" cy="235.67" r="3.00" fill="#9654B3" fill-opacity="0.75"/>
<circle cx="243.30" cy="276.03" r="3.00" fill="#8BD0C7" fill-opacity="0.75"/>
<circle cx="252.60" cy="296.21" r="3.00" fill="#F0604E" fill-opacity="0.75"/>
<circle cx="253.30" cy="356.75" r="3.00" fill="#3F83BE" fill-opacity="0.75"/>
<circle cx="239.00" cy="376.93" r="3.00" fill="#F0604E" fill-opacity="0.75"/>
<circle cx="243.60" cy="437.47" r="3.00" fill="#8BD0C7" fill-opacity="0.75"/>
<circle cx="233.50" cy="487.92" r="3.00" fill="#F5C4DA" fill-opacity="0.75"/>
<circle cx="254.10" cy="508.10" r="3.00" fill="#8BD0C7" fill-opacity="0.75"/>
<circle cx="235.10" cy="457.65" r="2.90" fill="#FA7E0C" fill-opacity="0.75"/>
<circle cx="236.00" cy="467.74" r="2.90" fill="#F5C4DA" fill-opacity="0.75"/>
<circle cx="244.60" cy="225.58" r="2.80" fill="#8BD0C7" fill-opacity="0.75"/>
<circle cx="242.40" cy="255.85" r="2.70" fill="#9654B3" fill-opacity="0.75"/>
<circle cx="242.40" cy="326.48" r="2.70" fill="#FA7E0C" fill-opacity="0.75"/>
<circle cx="232.60" cy="336.57" r="2.70" fill="#DCA72A" fill-opacity="0.75"/>
<circle cx="236.40" cy="397.11" r="2.70" fill="#F0604E" fill-opacity="0.75"/>
<circle cx="270.40" cy="447.56" r="2.70" fill="#8BD0C7" fill-opacity="0.75"/>
<circle cx="242.60" cy="467.74" r="2.70" fill="#FA7E0C" fill-opacity="0.75"/>
<circle cx="248.60" cy="215.49" r="2.60" fill="#9654B3" fill-opacity="0.75"/>
<circle cx="230.50" cy="346.66" r="2.60" fill="#8BD0C7" fill-opacity="0.75"/>
<circle cx="253.60" cy="366.84" r="2.60" fill="#3F83BE" fill-opacity="0.75"/>
<circle cx="255.00" cy="366.84" r="2.60" fill="#8BD0C7" fill-opacity="0.75"/>
<circle cx="249.20" cy="477.83" r="2.60" fill="#9654B3" fill-opacity="0.75"/>
<circle cx="269.30" cy="397.11" r="2.50" fill="#DCA72A" fill-opacity="0.75"/>
<circle cx="255.80" cy="467.74" r="2.50" fill="#DCA72A" fill-opacity="0.75"/>
<circle cx="249.60" cy="487.92" r="2.50" fill="#9654B3" fill-opacity="0.75"/>
<circle cx="242.40" cy="417.29" r="1.70" fill="#9654B3" fill-opacity="0.75"/>
<text x="314.00" y="192.80" font-size="9.9" text-anchor="middle" fill="#231F20" stroke="#231F20" stroke-width="0.06" textLength="27.2" lengthAdjust="spacingAndGlyphs">Emph.</text>
<line x1="281.45" y1="205.40" x2="347.45" y2="205.40" stroke="#EBEBEB" stroke-width="0.9"/>
<line x1="281.45" y1="215.49" x2="347.45" y2="215.49" stroke="#EBEBEB" stroke-width="0.9"/>
<line x1="281.45" y1="225.58" x2="347.45" y2="225.58" stroke="#EBEBEB" stroke-width="0.9"/>
<line x1="281.45" y1="235.67" x2="347.45" y2="235.67" stroke="#EBEBEB" stroke-width="0.9"/>
<line x1="281.45" y1="245.76" x2="347.45" y2="245.76" stroke="#EBEBEB" stroke-width="0.9"/>
<line x1="281.45" y1="255.85" x2="347.45" y2="255.85" stroke="#EBEBEB" stroke-width="0.9"/>
<line x1="281.45" y1="265.94" x2="347.45" y2="265.94" stroke="#EBEBEB" stroke-width="0.9"/>
<line x1="281.45" y1="276.03" x2="347.45" y2="276.03" stroke="#EBEBEB" stroke-width="0.9"/>
<line x1="281.45" y1="286.12" x2="347.45" y2="286.12" stroke="#EBEBEB" stroke-width="0.9"/>
<line x1="281.45" y1="296.21" x2="347.45" y2="296.21" stroke="#EBEBEB" stroke-width="0.9"/>
<line x1="281.45" y1="306.30" x2="347.45" y2="306.30" stroke="#EBEBEB" stroke-width="0.9"/>
<line x1="281.45" y1="316.39" x2="347.45" y2="316.39" stroke="#EBEBEB" stroke-width="0.9"/>
<line x1="281.45" y1="326.48" x2="347.45" y2="326.48" stroke="#EBEBEB" stroke-width="0.9"/>
<line x1="281.45" y1="336.57" x2="347.45" y2="336.57" stroke="#EBEBEB" stroke-width="0.9"/>
<line x1="281.45" y1="346.66" x2="347.45" y2="346.66" stroke="#EBEBEB" stroke-width="0.9"/>
<line x1="281.45" y1="356.75" x2="347.45" y2="356.75" stroke="#EBEBEB" stroke-width="0.9"/>
<line x1="281.45" y1="366.84" x2="347.45" y2="366.84" stroke="#EBEBEB" stroke-width="0.9"/>
<line x1="281.45" y1="376.93" x2="347.45" y2="376.93" stroke="#EBEBEB" stroke-width="0.9"/>
<line x1="281.45" y1="387.02" x2="347.45" y2="387.02" stroke="#EBEBEB" stroke-width="0.9"/>
<line x1="281.45" y1="397.11" x2="347.45" y2="397.11" stroke="#EBEBEB" stroke-width="0.9"/>
<line x1="281.45" y1="407.20" x2="347.45" y2="407.20" stroke="#EBEBEB" stroke-width="0.9"/>
<line x1="281.45" y1="417.29" x2="347.45" y2="417.29" stroke="#EBEBEB" stroke-width="0.9"/>
<line x1="281.45" y1="427.38" x2="347.45" y2="427.38" stroke="#EBEBEB" stroke-width="0.9"/>
<line x1="281.45" y1="437.47" x2="347.45" y2="437.47" stroke="#EBEBEB" stroke-width="0.9"/>
<line x1="281.45" y1="447.56" x2="347.45" y2="447.56" stroke="#EBEBEB" stroke-width="0.9"/>
<line x1="281.45" y1="457.65" x2="347.45" y2="457.65" stroke="#EBEBEB" stroke-width="0.9"/>
<line x1="281.45" y1="467.74" x2="347.45" y2="467.74" stroke="#EBEBEB" stroke-width="0.9"/>
<line x1="281.45" y1="477.83" x2="347.45" y2="477.83" stroke="#EBEBEB" stroke-width="0.9"/>
<line x1="281.45" y1="487.92" x2="347.45" y2="487.92" stroke="#EBEBEB" stroke-width="0.9"/>
<line x1="281.45" y1="498.01" x2="347.45" y2="498.01" stroke="#EBEBEB" stroke-width="0.9"/>
<line x1="281.45" y1="508.10" x2="347.45" y2="508.10" stroke="#EBEBEB" stroke-width="0.9"/>
<line x1="284.05" y1="199.0" x2="284.05" y2="513.7" stroke="#EBEBEB" stroke-width="0.9"/>
<line x1="292.03" y1="199.0" x2="292.03" y2="513.7" stroke="#EBEBEB" stroke-width="0.9"/>
<line x1="300.01" y1="199.0" x2="300.01" y2="513.7" stroke="#EBEBEB" stroke-width="0.9"/>
<line x1="307.99" y1="199.0" x2="307.99" y2="513.7" stroke="#EBEBEB" stroke-width="0.9"/>
<line x1="315.97" y1="199.0" x2="315.97" y2="513.7" stroke="#EBEBEB" stroke-width="0.9"/>
<line x1="323.95" y1="199.0" x2="323.95" y2="513.7" stroke="#EBEBEB" stroke-width="0.9"/>
<line x1="331.93" y1="199.0" x2="331.93" y2="513.7" stroke="#EBEBEB" stroke-width="0.9"/>
<line x1="339.91" y1="199.0" x2="339.91" y2="513.7" stroke="#EBEBEB" stroke-width="0.9"/>
<line x1="284.05" y1="203.6" x2="284.05" y2="513.7" stroke="#000" stroke-width="1.7" stroke-linecap="round" stroke-dasharray="4.1 7.23"/>
<text transform="translate(288.55,522.3) rotate(-45)" font-size="7.6" text-anchor="end" fill="#333" stroke="#333" stroke-width="0.06">0</text>
<text transform="translate(304.51,522.3) rotate(-45)" font-size="7.6" text-anchor="end" fill="#333" stroke="#333" stroke-width="0.06">2.5</text>
<text transform="translate(320.47,522.3) rotate(-45)" font-size="7.6" text-anchor="end" fill="#333" stroke="#333" stroke-width="0.06">5.0</text>
<text transform="translate(336.43,522.3) rotate(-45)" font-size="7.6" text-anchor="end" fill="#333" stroke="#333" stroke-width="0.06">7.5</text>
<circle cx="301.80" cy="467.74" r="8.60" fill="#DCA72A" fill-opacity="0.75"/>
<circle cx="303.80" cy="508.10" r="7.80" fill="#DCA72A" fill-opacity="0.75"/>
<circle cx="302.40" cy="417.29" r="6.60" fill="#DCA72A" fill-opacity="0.75"/>
<circle cx="304.40" cy="366.84" r="6.50" fill="#DCA72A" fill-opacity="0.75"/>
<circle cx="304.00" cy="397.11" r="6.00" fill="#DCA72A" fill-opacity="0.75"/>
<circle cx="304.20" cy="447.56" r="5.80" fill="#DCA72A" fill-opacity="0.75"/>
<circle cx="307.80" cy="346.66" r="5.60" fill="#8BD0C7" fill-opacity="0.75"/>
<circle cx="302.80" cy="265.94" r="5.50" fill="#DCA72A" fill-opacity="0.75"/>
<circle cx="303.30" cy="296.21" r="5.50" fill="#DCA72A" fill-opacity="0.75"/>
<circle cx="307.60" cy="346.66" r="5.50" fill="#9654B3" fill-opacity="0.75"/>
<circle cx="307.10" cy="508.10" r="5.00" fill="#8BD0C7" fill-opacity="0.75"/>
<circle cx="308.10" cy="276.03" r="4.60" fill="#8BD0C7" fill-opacity="0.75"/>
<circle cx="307.90" cy="306.30" r="4.00" fill="#8BD0C7" fill-opacity="0.75"/>
<circle cx="308.00" cy="467.74" r="4.00" fill="#8BD0C7" fill-opacity="0.75"/>
<circle cx="307.50" cy="296.21" r="3.90" fill="#8BD0C7" fill-opacity="0.75"/>
<circle cx="308.00" cy="487.92" r="3.90" fill="#8BD0C7" fill-opacity="0.75"/>
<circle cx="313.90" cy="245.76" r="3.80" fill="#8BD0C7" fill-opacity="0.75"/>
<circle cx="307.20" cy="245.76" r="3.50" fill="#9654B3" fill-opacity="0.75"/>
<circle cx="312.50" cy="205.40" r="3.00" fill="#8BD0C7" fill-opacity="0.75"/>
<circle cx="314.10" cy="437.47" r="3.00" fill="#8BD0C7" fill-opacity="0.75"/>
<circle cx="312.80" cy="225.58" r="2.90" fill="#8BD0C7" fill-opacity="0.75"/>
<circle cx="308.10" cy="255.85" r="2.90" fill="#9654B3" fill-opacity="0.75"/>
<circle cx="308.40" cy="447.56" r="2.70" fill="#8BD0C7" fill-opacity="0.75"/>
<circle cx="307.90" cy="255.85" r="2.00" fill="#8BD0C7" fill-opacity="0.75"/>
<circle cx="308.00" cy="417.29" r="1.80" fill="#9654B3" fill-opacity="0.75"/>
<text x="387.25" y="192.80" font-size="9.9" text-anchor="middle" fill="#231F20" stroke="#231F20" stroke-width="0.06" textLength="57.1" lengthAdjust="spacingAndGlyphs">Exacerbation</text>
<line x1="354.50" y1="205.40" x2="420.50" y2="205.40" stroke="#EBEBEB" stroke-width="0.9"/>
<line x1="354.50" y1="215.49" x2="420.50" y2="215.49" stroke="#EBEBEB" stroke-width="0.9"/>
<line x1="354.50" y1="225.58" x2="420.50" y2="225.58" stroke="#EBEBEB" stroke-width="0.9"/>
<line x1="354.50" y1="235.67" x2="420.50" y2="235.67" stroke="#EBEBEB" stroke-width="0.9"/>
<line x1="354.50" y1="245.76" x2="420.50" y2="245.76" stroke="#EBEBEB" stroke-width="0.9"/>
<line x1="354.50" y1="255.85" x2="420.50" y2="255.85" stroke="#EBEBEB" stroke-width="0.9"/>
<line x1="354.50" y1="265.94" x2="420.50" y2="265.94" stroke="#EBEBEB" stroke-width="0.9"/>
<line x1="354.50" y1="276.03" x2="420.50" y2="276.03" stroke="#EBEBEB" stroke-width="0.9"/>
<line x1="354.50" y1="286.12" x2="420.50" y2="286.12" stroke="#EBEBEB" stroke-width="0.9"/>
<line x1="354.50" y1="296.21" x2="420.50" y2="296.21" stroke="#EBEBEB" stroke-width="0.9"/>
<line x1="354.50" y1="306.30" x2="420.50" y2="306.30" stroke="#EBEBEB" stroke-width="0.9"/>
<line x1="354.50" y1="316.39" x2="420.50" y2="316.39" stroke="#EBEBEB" stroke-width="0.9"/>
<line x1="354.50" y1="326.48" x2="420.50" y2="326.48" stroke="#EBEBEB" stroke-width="0.9"/>
<line x1="354.50" y1="336.57" x2="420.50" y2="336.57" stroke="#EBEBEB" stroke-width="0.9"/>
<line x1="354.50" y1="346.66" x2="420.50" y2="346.66" stroke="#EBEBEB" stroke-width="0.9"/>
<line x1="354.50" y1="356.75" x2="420.50" y2="356.75" stroke="#EBEBEB" stroke-width="0.9"/>
<line x1="354.50" y1="366.84" x2="420.50" y2="366.84" stroke="#EBEBEB" stroke-width="0.9"/>
<line x1="354.50" y1="376.93" x2="420.50" y2="376.93" stroke="#EBEBEB" stroke-width="0.9"/>
<line x1="354.50" y1="387.02" x2="420.50" y2="387.02" stroke="#EBEBEB" stroke-width="0.9"/>
<line x1="354.50" y1="397.11" x2="420.50" y2="397.11" stroke="#EBEBEB" stroke-width="0.9"/>
<line x1="354.50" y1="407.20" x2="420.50" y2="407.20" stroke="#EBEBEB" stroke-width="0.9"/>
<line x1="354.50" y1="417.29" x2="420.50" y2="417.29" stroke="#EBEBEB" stroke-width="0.9"/>
<line x1="354.50" y1="427.38" x2="420.50" y2="427.38" stroke="#EBEBEB" stroke-width="0.9"/>
<line x1="354.50" y1="437.47" x2="420.50" y2="437.47" stroke="#EBEBEB" stroke-width="0.9"/>
<line x1="354.50" y1="447.56" x2="420.50" y2="447.56" stroke="#EBEBEB" stroke-width="0.9"/>
<line x1="354.50" y1="457.65" x2="420.50" y2="457.65" stroke="#EBEBEB" stroke-width="0.9"/>
<line x1="354.50" y1="467.74" x2="420.50" y2="467.74" stroke="#EBEBEB" stroke-width="0.9"/>
<line x1="354.50" y1="477.83" x2="420.50" y2="477.83" stroke="#EBEBEB" stroke-width="0.9"/>
<line x1="354.50" y1="487.92" x2="420.50" y2="487.92" stroke="#EBEBEB" stroke-width="0.9"/>
<line x1="354.50" y1="498.01" x2="420.50" y2="498.01" stroke="#EBEBEB" stroke-width="0.9"/>
<line x1="354.50" y1="508.10" x2="420.50" y2="508.10" stroke="#EBEBEB" stroke-width="0.9"/>
<line x1="357.10" y1="199.0" x2="357.10" y2="513.7" stroke="#EBEBEB" stroke-width="0.9"/>
<line x1="365.08" y1="199.0" x2="365.08" y2="513.7" stroke="#EBEBEB" stroke-width="0.9"/>
<line x1="373.06" y1="199.0" x2="373.06" y2="513.7" stroke="#EBEBEB" stroke-width="0.9"/>
<line x1="381.04" y1="199.0" x2="381.04" y2="513.7" stroke="#EBEBEB" stroke-width="0.9"/>
<line x1="389.02" y1="199.0" x2="389.02" y2="513.7" stroke="#EBEBEB" stroke-width="0.9"/>
<line x1="397.00" y1="199.0" x2="397.00" y2="513.7" stroke="#EBEBEB" stroke-width="0.9"/>
<line x1="404.98" y1="199.0" x2="404.98" y2="513.7" stroke="#EBEBEB" stroke-width="0.9"/>
<line x1="412.96" y1="199.0" x2="412.96" y2="513.7" stroke="#EBEBEB" stroke-width="0.9"/>
<line x1="357.10" y1="203.6" x2="357.10" y2="513.7" stroke="#000" stroke-width="1.7" stroke-linecap="round" stroke-dasharray="4.1 7.23"/>
<text transform="translate(361.60,522.3) rotate(-45)" font-size="7.6" text-anchor="end" fill="#333" stroke="#333" stroke-width="0.06">0</text>
<text transform="translate(377.56,522.3) rotate(-45)" font-size="7.6" text-anchor="end" fill="#333" stroke="#333" stroke-width="0.06">2.5</text>
<text transform="translate(393.52,522.3) rotate(-45)" font-size="7.6" text-anchor="end" fill="#333" stroke="#333" stroke-width="0.06">5.0</text>
<text transform="translate(409.48,522.3) rotate(-45)" font-size="7.6" text-anchor="end" fill="#333" stroke="#333" stroke-width="0.06">7.5</text>
<circle cx="379.50" cy="346.66" r="6.50" fill="#3F83BE" fill-opacity="0.75"/>
<polygon points="375.70,411.96 370.10,421.65 381.30,421.65" fill="#8B382B" fill-opacity="0.75"/>
<circle cx="379.40" cy="447.56" r="5.60" fill="#3F83BE" fill-opacity="0.75"/>
<circle cx="379.70" cy="397.11" r="5.10" fill="#3F83BE" fill-opacity="0.75"/>
<polygon points="377.10,231.19 372.40,239.33 381.80,239.33" fill="#8B382B" fill-opacity="0.75"/>
<polygon points="375.70,332.09 371.00,340.23 380.40,340.23" fill="#8B382B" fill-opacity="0.75"/>
<circle cx="380.60" cy="346.66" r="4.60" fill="#9654B3" fill-opacity="0.75"/>
<circle cx="378.50" cy="477.83" r="4.60" fill="#3F83BE" fill-opacity="0.75"/>
<circle cx="379.10" cy="276.03" r="4.50" fill="#3F83BE" fill-opacity="0.75"/>
<circle cx="379.10" cy="276.03" r="4.50" fill="#8BD0C7" fill-opacity="0.75"/>
<polygon points="376.10,483.73 371.70,491.35 380.50,491.35" fill="#8B382B" fill-opacity="0.75"/>
<polygon points="376.20,282.02 371.90,289.47 380.50,289.47" fill="#8B382B" fill-opacity="0.75"/>
<circle cx="378.70" cy="417.29" r="4.30" fill="#3F83BE" fill-opacity="0.75"/>
<polygon points="377.20,463.64 372.90,471.09 381.50,471.09" fill="#8B382B" fill-opacity="0.75"/>
<circle cx="379.20" cy="326.48" r="4.20" fill="#3F83BE" fill-opacity="0.75"/>
<circle cx="379.50" cy="387.02" r="4.20" fill="#8BD0C7" fill-opacity="0.75"/>
<circle cx="379.40" cy="467.74" r="4.00" fill="#3F83BE" fill-opacity="0.75"/>
<circle cx="379.40" cy="467.74" r="4.00" fill="#8BD0C7" fill-opacity="0.75"/>
<circle cx="378.50" cy="477.83" r="4.00" fill="#8BD0C7" fill-opacity="0.75"/>
<circle cx="377.70" cy="508.10" r="4.00" fill="#8BD0C7" fill-opacity="0.75"/>
<circle cx="380.70" cy="306.30" r="3.90" fill="#8BD0C7" fill-opacity="0.75"/>
<circle cx="376.80" cy="316.39" r="3.90" fill="#8BD0C7" fill-opacity="0.75"/>
<circle cx="379.50" cy="366.84" r="3.90" fill="#3F83BE" fill-opacity="0.75"/>
<circle cx="379.30" cy="286.12" r="3.70" fill="#3F83BE" fill-opacity="0.75"/>
<circle cx="379.20" cy="296.21" r="3.70" fill="#3F83BE" fill-opacity="0.75"/>
<circle cx="378.40" cy="215.49" r="3.60" fill="#DCA72A" fill-opacity="0.75"/>
<circle cx="378.70" cy="487.92" r="3.60" fill="#8BD0C7" fill-opacity="0.75"/>
<circle cx="378.40" cy="235.67" r="3.50" fill="#8B382B" fill-opacity="0.75"/>
<circle cx="380.60" cy="376.93" r="3.50" fill="#9654B3" fill-opacity="0.75"/>
<circle cx="377.60" cy="387.02" r="3.50" fill="#DCA72A" fill-opacity="0.75"/>
<circle cx="379.00" cy="387.02" r="3.50" fill="#8FE78B" fill-opacity="0.75"/>
<circle cx="378.70" cy="417.29" r="3.50" fill="#8BD0C7" fill-opacity="0.75"/>
<circle cx="382.00" cy="245.76" r="3.40" fill="#9654B3" fill-opacity="0.75"/>
<circle cx="379.00" cy="296.21" r="3.30" fill="#8BD0C7" fill-opacity="0.75"/>
<circle cx="379.50" cy="366.84" r="3.30" fill="#8BD0C7" fill-opacity="0.75"/>
<circle cx="377.70" cy="376.93" r="3.30" fill="#8BD0C7" fill-opacity="0.75"/>
<circle cx="378.00" cy="467.74" r="3.00" fill="#DCA72A" fill-opacity="0.75"/>
<circle cx="382.00" cy="255.85" r="2.90" fill="#9654B3" fill-opacity="0.75"/>
<circle cx="379.10" cy="245.76" r="2.80" fill="#8B382B" fill-opacity="0.75"/>
<circle cx="378.40" cy="255.85" r="2.80" fill="#8BD0C7" fill-opacity="0.75"/>
<circle cx="379.40" cy="447.56" r="2.80" fill="#8BD0C7" fill-opacity="0.75"/>
<circle cx="379.10" cy="477.83" r="2.80" fill="#9654B3" fill-opacity="0.75"/>
<circle cx="380.40" cy="215.49" r="2.50" fill="#9654B3" fill-opacity="0.75"/>
<circle cx="381.00" cy="235.67" r="2.50" fill="#DCA72A" fill-opacity="0.75"/>
<circle cx="380.60" cy="336.57" r="2.50" fill="#DCA72A" fill-opacity="0.75"/>
<circle cx="379.50" cy="397.11" r="2.20" fill="#8BD0C7" fill-opacity="0.75"/>
<circle cx="382.70" cy="417.29" r="1.80" fill="#9654B3" fill-opacity="0.75"/>
<text x="460.00" y="192.80" font-size="9.9" text-anchor="middle" fill="#231F20" stroke="#231F20" stroke-width="0.06" textLength="49.8" lengthAdjust="spacingAndGlyphs">Spirometry</text>
<line x1="427.50" y1="205.40" x2="493.50" y2="205.40" stroke="#EBEBEB" stroke-width="0.9"/>
<line x1="427.50" y1="215.49" x2="493.50" y2="215.49" stroke="#EBEBEB" stroke-width="0.9"/>
<line x1="427.50" y1="225.58" x2="493.50" y2="225.58" stroke="#EBEBEB" stroke-width="0.9"/>
<line x1="427.50" y1="235.67" x2="493.50" y2="235.67" stroke="#EBEBEB" stroke-width="0.9"/>
<line x1="427.50" y1="245.76" x2="493.50" y2="245.76" stroke="#EBEBEB" stroke-width="0.9"/>
<line x1="427.50" y1="255.85" x2="493.50" y2="255.85" stroke="#EBEBEB" stroke-width="0.9"/>
<line x1="427.50" y1="265.94" x2="493.50" y2="265.94" stroke="#EBEBEB" stroke-width="0.9"/>
<line x1="427.50" y1="276.03" x2="493.50" y2="276.03" stroke="#EBEBEB" stroke-width="0.9"/>
<line x1="427.50" y1="286.12" x2="493.50" y2="286.12" stroke="#EBEBEB" stroke-width="0.9"/>
<line x1="427.50" y1="296.21" x2="493.50" y2="296.21" stroke="#EBEBEB" stroke-width="0.9"/>
<line x1="427.50" y1="306.30" x2="493.50" y2="306.30" stroke="#EBEBEB" stroke-width="0.9"/>
<line x1="427.50" y1="316.39" x2="493.50" y2="316.39" stroke="#EBEBEB" stroke-width="0.9"/>
<line x1="427.50" y1="326.48" x2="493.50" y2="326.48" stroke="#EBEBEB" stroke-width="0.9"/>
<line x1="427.50" y1="336.57" x2="493.50" y2="336.57" stroke="#EBEBEB" stroke-width="0.9"/>
<line x1="427.50" y1="346.66" x2="493.50" y2="346.66" stroke="#EBEBEB" stroke-width="0.9"/>
<line x1="427.50" y1="356.75" x2="493.50" y2="356.75" stroke="#EBEBEB" stroke-width="0.9"/>
<line x1="427.50" y1="366.84" x2="493.50" y2="366.84" stroke="#EBEBEB" stroke-width="0.9"/>
<line x1="427.50" y1="376.93" x2="493.50" y2="376.93" stroke="#EBEBEB" stroke-width="0.9"/>
<line x1="427.50" y1="387.02" x2="493.50" y2="387.02" stroke="#EBEBEB" stroke-width="0.9"/>
<line x1="427.50" y1="397.11" x2="493.50" y2="397.11" stroke="#EBEBEB" stroke-width="0.9"/>
<line x1="427.50" y1="407.20" x2="493.50" y2="407.20" stroke="#EBEBEB" stroke-width="0.9"/>
<line x1="427.50" y1="417.29" x2="493.50" y2="417.29" stroke="#EBEBEB" stroke-width="0.9"/>
<line x1="427.50" y1="427.38" x2="493.50" y2="427.38" stroke="#EBEBEB" stroke-width="0.9"/>
<line x1="427.50" y1="437.47" x2="493.50" y2="437.47" stroke="#EBEBEB" stroke-width="0.9"/>
<line x1="427.50" y1="447.56" x2="493.50" y2="447.56" stroke="#EBEBEB" stroke-width="0.9"/>
<line x1="427.50" y1="457.65" x2="493.50" y2="457.65" stroke="#EBEBEB" stroke-width="0.9"/>
<line x1="427.50" y1="467.74" x2="493.50" y2="467.74" stroke="#EBEBEB" stroke-width="0.9"/>
<line x1="427.50" y1="477.83" x2="493.50" y2="477.83" stroke="#EBEBEB" stroke-width="0.9"/>
<line x1="427.50" y1="487.92" x2="493.50" y2="487.92" stroke="#EBEBEB" stroke-width="0.9"/>
<line x1="427.50" y1="498.01" x2="493.50" y2="498.01" stroke="#EBEBEB" stroke-width="0.9"/>
<line x1="427.50" y1="508.10" x2="493.50" y2="508.10" stroke="#EBEBEB" stroke-width="0.9"/>
<line x1="430.10" y1="199.0" x2="430.10" y2="513.7" stroke="#EBEBEB" stroke-width="0.9"/>
<line x1="438.08" y1="199.0" x2="438.08" y2="513.7" stroke="#EBEBEB" stroke-width="0.9"/>
<line x1="446.06" y1="199.0" x2="446.06" y2="513.7" stroke="#EBEBEB" stroke-width="0.9"/>
<line x1="454.04" y1="199.0" x2="454.04" y2="513.7" stroke="#EBEBEB" stroke-width="0.9"/>
<line x1="462.02" y1="199.0" x2="462.02" y2="513.7" stroke="#EBEBEB" stroke-width="0.9"/>
<line x1="470.00" y1="199.0" x2="470.00" y2="513.7" stroke="#EBEBEB" stroke-width="0.9"/>
<line x1="477.98" y1="199.0" x2="477.98" y2="513.7" stroke="#EBEBEB" stroke-width="0.9"/>
<line x1="485.96" y1="199.0" x2="485.96" y2="513.7" stroke="#EBEBEB" stroke-width="0.9"/>
<line x1="430.10" y1="203.6" x2="430.10" y2="513.7" stroke="#000" stroke-width="1.7" stroke-linecap="round" stroke-dasharray="4.1 7.23"/>
<text transform="translate(434.60,522.3) rotate(-45)" font-size="7.6" text-anchor="end" fill="#333" stroke="#333" stroke-width="0.06">0</text>
<text transform="translate(450.56,522.3) rotate(-45)" font-size="7.6" text-anchor="end" fill="#333" stroke="#333" stroke-width="0.06">2.5</text>
<text transform="translate(466.52,522.3) rotate(-45)" font-size="7.6" text-anchor="end" fill="#333" stroke="#333" stroke-width="0.06">5.0</text>
<text transform="translate(482.48,522.3) rotate(-45)" font-size="7.6" text-anchor="end" fill="#333" stroke="#333" stroke-width="0.06">7.5</text>
<circle cx="461.00" cy="276.03" r="7.30" fill="#3F83BE" fill-opacity="0.75"/>
<circle cx="452.30" cy="276.03" r="6.30" fill="#FA7E0C" fill-opacity="0.75"/>
<circle cx="452.10" cy="487.92" r="6.00" fill="#FA7E0C" fill-opacity="0.75"/>
<circle cx="461.40" cy="487.92" r="6.00" fill="#3F83BE" fill-opacity="0.75"/>
<circle cx="460.60" cy="498.01" r="5.40" fill="#3F83BE" fill-opacity="0.75"/>
<polygon points="444.80,482.97 439.60,491.97 450.00,491.97" fill="#F5C4DA" fill-opacity="0.75"/>
<circle cx="452.20" cy="346.66" r="5.00" fill="#FA7E0C" fill-opacity="0.75"/>
<circle cx="467.60" cy="508.10" r="5.00" fill="#9654B3" fill-opacity="0.75"/>
<circle cx="462.10" cy="245.76" r="4.80" fill="#3F83BE" fill-opacity="0.75"/>
<circle cx="450.20" cy="346.66" r="4.80" fill="#9654B3" fill-opacity="0.75"/>
<circle cx="449.80" cy="417.29" r="4.80" fill="#FA7E0C" fill-opacity="0.75"/>
<circle cx="468.70" cy="467.74" r="4.70" fill="#9654B3" fill-opacity="0.75"/>
<circle cx="454.50" cy="316.39" r="4.50" fill="#8BD0C7" fill-opacity="0.75"/>
<circle cx="467.60" cy="437.47" r="4.50" fill="#9654B3" fill-opacity="0.75"/>
<circle cx="461.40" cy="467.74" r="4.50" fill="#3F83BE" fill-opacity="0.75"/>
<circle cx="448.30" cy="346.66" r="4.20" fill="#8BD0C7" fill-opacity="0.75"/>
<circle cx="448.90" cy="387.02" r="4.20" fill="#8BD0C7" fill-opacity="0.75"/>
<polygon points="445.80,463.74 441.60,471.01 450.00,471.01" fill="#F5C4DA" fill-opacity="0.75"/>
<circle cx="461.90" cy="296.21" r="4.00" fill="#3F83BE" fill-opacity="0.75"/>
<circle cx="467.10" cy="296.21" r="4.00" fill="#9654B3" fill-opacity="0.75"/>
<circle cx="474.60" cy="306.30" r="4.00" fill="#8BD0C7" fill-opacity="0.75"/>
<circle cx="461.80" cy="346.66" r="4.00" fill="#3F83BE" fill-opacity="0.75"/>
<circle cx="462.00" cy="417.29" r="4.00" fill="#3F83BE" fill-opacity="0.75"/>
<circle cx="450.40" cy="487.92" r="4.00" fill="#8BD0C7" fill-opacity="0.75"/>
<circle cx="456.10" cy="245.76" r="3.80" fill="#8BD0C7" fill-opacity="0.75"/>
<circle cx="455.70" cy="387.02" r="3.80" fill="#DCA72A" fill-opacity="0.75"/>
<circle cx="461.30" cy="215.49" r="3.70" fill="#3F83BE" fill-opacity="0.75"/>
<circle cx="455.80" cy="296.21" r="3.60" fill="#F0604E" fill-opacity="0.75"/>
<circle cx="448.90" cy="376.93" r="3.60" fill="#9654B3" fill-opacity="0.75"/>
<circle cx="475.90" cy="467.74" r="3.60" fill="#8BD0C7" fill-opacity="0.75"/>
<circle cx="449.80" cy="508.10" r="3.60" fill="#FA7E0C" fill-opacity="0.75"/>
<circle cx="450.80" cy="508.10" r="3.60" fill="#8BD0C7" fill-opacity="0.75"/>
<circle cx="468.20" cy="276.03" r="3.50" fill="#9654B3" fill-opacity="0.75"/>
<circle cx="468.00" cy="286.12" r="3.50" fill="#9654B3" fill-opacity="0.75"/>
<circle cx="450.10" cy="296.21" r="3.50" fill="#8BD0C7" fill-opacity="0.75"/>
<circle cx="451.00" cy="356.75" r="3.50" fill="#8FE78B" fill-opacity="0.75"/>
<circle cx="453.30" cy="407.20" r="3.40" fill="#8BD0C7" fill-opacity="0.75"/>
<circle cx="461.00" cy="245.76" r="3.30" fill="#9654B3" fill-opacity="0.75"/>
<circle cx="455.80" cy="276.03" r="3.30" fill="#8BD0C7" fill-opacity="0.75"/>
<circle cx="453.50" cy="397.11" r="3.30" fill="#FA7E0C" fill-opacity="0.75"/>
<circle cx="456.40" cy="417.29" r="3.30" fill="#DCA72A" fill-opacity="0.75"/>
<circle cx="455.20" cy="467.74" r="3.30" fill="#DCA72A" fill-opacity="0.75"/>
<circle cx="450.50" cy="477.83" r="3.30" fill="#8BD0C7" fill-opacity="0.75"/>
<circle cx="466.50" cy="235.67" r="3.20" fill="#9654B3" fill-opacity="0.75"/>
<circle cx="454.00" cy="437.47" r="3.20" fill="#8BD0C7" fill-opacity="0.75"/>
<circle cx="453.10" cy="498.01" r="3.20" fill="#FA7E0C" fill-opacity="0.75"/>
<circle cx="452.30" cy="235.67" r="3.10" fill="#3F83BE" fill-opacity="0.75"/>
<circle cx="455.80" cy="205.40" r="3.00" fill="#8BD0C7" fill-opacity="0.75"/>
<circle cx="460.90" cy="356.75" r="3.00" fill="#3F83BE" fill-opacity="0.75"/>
<circle cx="449.80" cy="366.84" r="3.00" fill="#8BD0C7" fill-opacity="0.75"/>
<circle cx="451.80" cy="376.93" r="3.00" fill="#F0604E" fill-opacity="0.75"/>
<circle cx="449.80" cy="417.29" r="3.00" fill="#8BD0C7" fill-opacity="0.75"/>
<circle cx="454.80" cy="467.74" r="3.00" fill="#FA7E0C" fill-opacity="0.75"/>
<circle cx="453.50" cy="477.83" r="3.00" fill="#FA7E0C" fill-opacity="0.75"/>
<circle cx="461.00" cy="508.10" r="3.00" fill="#3F83BE" fill-opacity="0.75"/>
<circle cx="455.60" cy="225.58" r="2.90" fill="#8BD0C7" fill-opacity="0.75"/>
<circle cx="453.90" cy="326.48" r="2.90" fill="#FA7E0C" fill-opacity="0.75"/>
<circle cx="461.30" cy="255.85" r="2.80" fill="#9654B3" fill-opacity="0.75"/>
<circle cx="448.70" cy="397.11" r="2.80" fill="#8BD0C7" fill-opacity="0.75"/>
<circle cx="449.10" cy="447.56" r="2.80" fill="#8BD0C7" fill-opacity="0.75"/>
<circle cx="450.80" cy="457.65" r="2.80" fill="#FA7E0C" fill-opacity="0.75"/>
<circle cx="449.80" cy="477.83" r="2.80" fill="#9654B3" fill-opacity="0.75"/>
<circle cx="450.10" cy="215.49" r="2.70" fill="#9654B3" fill-opacity="0.75"/>
<circle cx="474.40" cy="255.85" r="2.70" fill="#8BD0C7" fill-opacity="0.75"/>
<circle cx="461.50" cy="366.84" r="2.70" fill="#3F83BE" fill-opacity="0.75"/>
<circle cx="450.80" cy="437.47" r="2.60" fill="#3F83BE" fill-opacity="0.75"/>
<circle cx="467.20" cy="487.92" r="2.60" fill="#9654B3" fill-opacity="0.75"/>
<circle cx="466.50" cy="397.11" r="2.50" fill="#DCA72A" fill-opacity="0.75"/>
<circle cx="450.80" cy="467.74" r="2.40" fill="#002F5A" fill-opacity="0.75"/>
<circle cx="450.80" cy="498.01" r="2.40" fill="#002F5A" fill-opacity="0.75"/>
<circle cx="457.00" cy="498.01" r="2.00" fill="#9654B3" fill-opacity="0.75"/>
<circle cx="460.60" cy="417.29" r="1.80" fill="#9654B3" fill-opacity="0.75"/>
<text x="533.35" y="192.80" font-size="9.9" text-anchor="middle" fill="#231F20" stroke="#231F20" stroke-width="0.06" textLength="47.5" lengthAdjust="spacingAndGlyphs">Symptoms</text>
<line x1="500.55" y1="205.40" x2="566.55" y2="205.40" stroke="#EBEBEB" stroke-width="0.9"/>
<line x1="500.55" y1="215.49" x2="566.55" y2="215.49" stroke="#EBEBEB" stroke-width="0.9"/>
<line x1="500.55" y1="225.58" x2="566.55" y2="225.58" stroke="#EBEBEB" stroke-width="0.9"/>
<line x1="500.55" y1="235.67" x2="566.55" y2="235.67" stroke="#EBEBEB" stroke-width="0.9"/>
<line x1="500.55" y1="245.76" x2="566.55" y2="245.76" stroke="#EBEBEB" stroke-width="0.9"/>
<line x1="500.55" y1="255.85" x2="566.55" y2="255.85" stroke="#EBEBEB" stroke-width="0.9"/>
<line x1="500.55" y1="265.94" x2="566.55" y2="265.94" stroke="#EBEBEB" stroke-width="0.9"/>
<line x1="500.55" y1="276.03" x2="566.55" y2="276.03" stroke="#EBEBEB" stroke-width="0.9"/>
<line x1="500.55" y1="286.12" x2="566.55" y2="286.12" stroke="#EBEBEB" stroke-width="0.9"/>
<line x1="500.55" y1="296.21" x2="566.55" y2="296.21" stroke="#EBEBEB" stroke-width="0.9"/>
<line x1="500.55" y1="306.30" x2="566.55" y2="306.30" stroke="#EBEBEB" stroke-width="0.9"/>
<line x1="500.55" y1="316.39" x2="566.55" y2="316.39" stroke="#EBEBEB" stroke-width="0.9"/>
<line x1="500.55" y1="326.48" x2="566.55" y2="326.48" stroke="#EBEBEB" stroke-width="0.9"/>
<line x1="500.55" y1="336.57" x2="566.55" y2="336.57" stroke="#EBEBEB" stroke-width="0.9"/>
<line x1="500.55" y1="346.66" x2="566.55" y2="346.66" stroke="#EBEBEB" stroke-width="0.9"/>
<line x1="500.55" y1="356.75" x2="566.55" y2="356.75" stroke="#EBEBEB" stroke-width="0.9"/>
<line x1="500.55" y1="366.84" x2="566.55" y2="366.84" stroke="#EBEBEB" stroke-width="0.9"/>
<line x1="500.55" y1="376.93" x2="566.55" y2="376.93" stroke="#EBEBEB" stroke-width="0.9"/>
<line x1="500.55" y1="387.02" x2="566.55" y2="387.02" stroke="#EBEBEB" stroke-width="0.9"/>
<line x1="500.55" y1="397.11" x2="566.55" y2="397.11" stroke="#EBEBEB" stroke-width="0.9"/>
<line x1="500.55" y1="407.20" x2="566.55" y2="407.20" stroke="#EBEBEB" stroke-width="0.9"/>
<line x1="500.55" y1="417.29" x2="566.55" y2="417.29" stroke="#EBEBEB" stroke-width="0.9"/>
<line x1="500.55" y1="427.38" x2="566.55" y2="427.38" stroke="#EBEBEB" stroke-width="0.9"/>
<line x1="500.55" y1="437.47" x2="566.55" y2="437.47" stroke="#EBEBEB" stroke-width="0.9"/>
<line x1="500.55" y1="447.56" x2="566.55" y2="447.56" stroke="#EBEBEB" stroke-width="0.9"/>
<line x1="500.55" y1="457.65" x2="566.55" y2="457.65" stroke="#EBEBEB" stroke-width="0.9"/>
<line x1="500.55" y1="467.74" x2="566.55" y2="467.74" stroke="#EBEBEB" stroke-width="0.9"/>
<line x1="500.55" y1="477.83" x2="566.55" y2="477.83" stroke="#EBEBEB" stroke-width="0.9"/>
<line x1="500.55" y1="487.92" x2="566.55" y2="487.92" stroke="#EBEBEB" stroke-width="0.9"/>
<line x1="500.55" y1="498.01" x2="566.55" y2="498.01" stroke="#EBEBEB" stroke-width="0.9"/>
<line x1="500.55" y1="508.10" x2="566.55" y2="508.10" stroke="#EBEBEB" stroke-width="0.9"/>
<line x1="503.15" y1="199.0" x2="503.15" y2="513.7" stroke="#EBEBEB" stroke-width="0.9"/>
<line x1="511.13" y1="199.0" x2="511.13" y2="513.7" stroke="#EBEBEB" stroke-width="0.9"/>
<line x1="519.11" y1="199.0" x2="519.11" y2="513.7" stroke="#EBEBEB" stroke-width="0.9"/>
<line x1="527.09" y1="199.0" x2="527.09" y2="513.7" stroke="#EBEBEB" stroke-width="0.9"/>
<line x1="535.07" y1="199.0" x2="535.07" y2="513.7" stroke="#EBEBEB" stroke-width="0.9"/>
<line x1="543.05" y1="199.0" x2="543.05" y2="513.7" stroke="#EBEBEB" stroke-width="0.9"/>
<line x1="551.03" y1="199.0" x2="551.03" y2="513.7" stroke="#EBEBEB" stroke-width="0.9"/>
<line x1="559.01" y1="199.0" x2="559.01" y2="513.7" stroke="#EBEBEB" stroke-width="0.9"/>
<line x1="503.15" y1="203.6" x2="503.15" y2="513.7" stroke="#000" stroke-width="1.7" stroke-linecap="round" stroke-dasharray="4.1 7.23"/>
<text transform="translate(507.65,522.3) rotate(-45)" font-size="7.6" text-anchor="end" fill="#333" stroke="#333" stroke-width="0.06">0</text>
<text transform="translate(523.61,522.3) rotate(-45)" font-size="7.6" text-anchor="end" fill="#333" stroke="#333" stroke-width="0.06">2.5</text>
<text transform="translate(539.57,522.3) rotate(-45)" font-size="7.6" text-anchor="end" fill="#333" stroke="#333" stroke-width="0.06">5.0</text>
<text transform="translate(555.53,522.3) rotate(-45)" font-size="7.6" text-anchor="end" fill="#333" stroke="#333" stroke-width="0.06">7.5</text>
<circle cx="524.40" cy="276.03" r="7.20" fill="#3F83BE" fill-opacity="0.75"/>
<circle cx="534.60" cy="276.03" r="6.30" fill="#FA7E0C" fill-opacity="0.75"/>
<circle cx="534.30" cy="487.92" r="6.00" fill="#FA7E0C" fill-opacity="0.75"/>
<polygon points="518.20,320.95 512.40,331.00 524.00,331.00" fill="#9654B3" fill-opacity="0.75"/>
<circle cx="524.80" cy="346.66" r="5.80" fill="#DCA72A" fill-opacity="0.75"/>
<polygon points="518.80,482.39 513.00,492.44 524.60,492.44" fill="#9654B3" fill-opacity="0.75"/>
<circle cx="545.00" cy="427.38" r="5.60" fill="#8FE78B" fill-opacity="0.75"/>
<circle cx="530.40" cy="447.56" r="5.60" fill="#3F83BE" fill-opacity="0.75"/>
<circle cx="540.20" cy="508.10" r="5.60" fill="#9654B3" fill-opacity="0.75"/>
<circle cx="524.70" cy="487.92" r="5.50" fill="#9654B3" fill-opacity="0.75"/>
<circle cx="534.50" cy="346.66" r="5.40" fill="#9654B3" fill-opacity="0.75"/>
<circle cx="523.40" cy="498.01" r="5.30" fill="#3F83BE" fill-opacity="0.75"/>
<circle cx="540.40" cy="276.03" r="5.20" fill="#9654B3" fill-opacity="0.75"/>
<circle cx="524.40" cy="508.10" r="5.20" fill="#8BD0C7" fill-opacity="0.75"/>
<circle cx="524.00" cy="276.03" r="5.00" fill="#8BD0C7" fill-opacity="0.75"/>
<circle cx="525.20" cy="326.48" r="5.00" fill="#9654B3" fill-opacity="0.75"/>
<circle cx="524.00" cy="346.66" r="5.00" fill="#8FE78B" fill-opacity="0.75"/>
<circle cx="531.10" cy="397.11" r="5.00" fill="#3F83BE" fill-opacity="0.75"/>
<circle cx="525.20" cy="366.84" r="4.90" fill="#DCA72A" fill-opacity="0.75"/>
<polygon points="519.20,402.63 514.40,410.94 524.00,410.94" fill="#FA7E0C" fill-opacity="0.75"/>
<circle cx="525.30" cy="245.76" r="4.60" fill="#3F83BE" fill-opacity="0.75"/>
<polygon points="517.10,473.45 512.50,481.42 521.70,481.42" fill="#002F5A" fill-opacity="0.75"/>
<circle cx="543.50" cy="376.93" r="4.50" fill="#8FE78B" fill-opacity="0.75"/>
<circle cx="543.20" cy="437.47" r="4.50" fill="#9654B3" fill-opacity="0.75"/>
<polygon points="518.50,463.64 514.20,471.09 522.80,471.09" fill="#9654B3" fill-opacity="0.75"/>
<circle cx="525.40" cy="467.74" r="4.30" fill="#3F83BE" fill-opacity="0.75"/>
<circle cx="531.40" cy="477.83" r="4.30" fill="#3F83BE" fill-opacity="0.75"/>
<circle cx="524.30" cy="296.21" r="4.20" fill="#3F83BE" fill-opacity="0.75"/>
<circle cx="526.90" cy="387.02" r="4.20" fill="#8BD0C7" fill-opacity="0.75"/>
<circle cx="542.30" cy="296.21" r="4.00" fill="#9654B3" fill-opacity="0.75"/>
<circle cx="530.40" cy="326.48" r="4.00" fill="#3F83BE" fill-opacity="0.75"/>
<circle cx="526.00" cy="346.66" r="4.00" fill="#8BD0C7" fill-opacity="0.75"/>
<circle cx="534.50" cy="346.66" r="4.00" fill="#F0604E" fill-opacity="0.75"/>
<circle cx="530.20" cy="286.12" r="3.90" fill="#3F83BE" fill-opacity="0.75"/>
<circle cx="523.40" cy="306.30" r="3.90" fill="#8BD0C7" fill-opacity="0.75"/>
<circle cx="524.50" cy="417.29" r="3.90" fill="#002F5A" fill-opacity="0.75"/>
<circle cx="524.30" cy="296.21" r="3.80" fill="#8BD0C7" fill-opacity="0.75"/>
<circle cx="547.80" cy="387.02" r="3.80" fill="#DCA72A" fill-opacity="0.75"/>
<circle cx="525.80" cy="215.49" r="3.70" fill="#3F83BE" fill-opacity="0.75"/>
<circle cx="535.60" cy="296.21" r="3.60" fill="#F0604E" fill-opacity="0.75"/>
<circle cx="524.80" cy="376.93" r="3.60" fill="#8BD0C7" fill-opacity="0.75"/>
<circle cx="537.10" cy="376.93" r="3.60" fill="#F0604E" fill-opacity="0.75"/>
<circle cx="544.30" cy="407.20" r="3.60" fill="#8FE78B" fill-opacity="0.75"/>
<circle cx="551.40" cy="467.74" r="3.60" fill="#DCA72A" fill-opacity="0.75"/>
<circle cx="544.60" cy="487.92" r="3.60" fill="#F5C4DA" fill-opacity="0.75"/>
<circle cx="528.80" cy="215.49" r="3.50" fill="#DCA72A" fill-opacity="0.75"/>
<circle cx="540.80" cy="286.12" r="3.50" fill="#9654B3" fill-opacity="0.75"/>
<circle cx="548.40" cy="356.75" r="3.50" fill="#8FE78B" fill-opacity="0.75"/>
<circle cx="525.20" cy="366.84" r="3.50" fill="#3F83BE" fill-opacity="0.75"/>
<circle cx="525.00" cy="467.74" r="3.50" fill="#8BD0C7" fill-opacity="0.75"/>
<circle cx="526.10" cy="477.83" r="3.50" fill="#8BD0C7" fill-opacity="0.75"/>
<circle cx="544.30" cy="477.83" r="3.50" fill="#8FE78B" fill-opacity="0.75"/>
<circle cx="524.70" cy="487.92" r="3.50" fill="#3F83BE" fill-opacity="0.75"/>
<circle cx="528.00" cy="245.76" r="3.30" fill="#8BD0C7" fill-opacity="0.75"/>
<circle cx="533.20" cy="245.76" r="3.30" fill="#9654B3" fill-opacity="0.75"/>
<circle cx="537.10" cy="376.93" r="3.30" fill="#9654B3" fill-opacity="0.75"/>
<circle cx="526.90" cy="235.67" r="3.20" fill="#3F83BE" fill-opacity="0.75"/>
<circle cx="541.40" cy="235.67" r="3.20" fill="#9654B3" fill-opacity="0.75"/>
<circle cx="534.70" cy="498.01" r="3.20" fill="#FA7E0C" fill-opacity="0.75"/>
<circle cx="528.80" cy="205.40" r="3.00" fill="#8BD0C7" fill-opacity="0.75"/>
<circle cx="528.00" cy="215.49" r="3.00" fill="#8BD0C7" fill-opacity="0.75"/>
<circle cx="529.10" cy="235.67" r="3.00" fill="#DCA72A" fill-opacity="0.75"/>
<circle cx="524.70" cy="235.67" r="3.00" fill="#8B382B" fill-opacity="0.75"/>
<circle cx="537.00" cy="276.03" r="3.00" fill="#F0604E" fill-opacity="0.75"/>
<circle cx="530.00" cy="326.48" r="3.00" fill="#8BD0C7" fill-opacity="0.75"/>
<circle cx="525.70" cy="356.75" r="3.00" fill="#3F83BE" fill-opacity="0.75"/>
<circle cx="525.20" cy="366.84" r="3.00" fill="#8BD0C7" fill-opacity="0.75"/>
<circle cx="534.70" cy="397.11" r="3.00" fill="#FA7E0C" fill-opacity="0.75"/>
<circle cx="534.00" cy="417.29" r="3.00" fill="#FA7E0C" fill-opacity="0.75"/>
<circle cx="530.00" cy="437.47" r="3.00" fill="#8BD0C7" fill-opacity="0.75"/>
<circle cx="524.00" cy="467.74" r="3.00" fill="#9654B3" fill-opacity="0.75"/>
<circle cx="537.60" cy="498.01" r="3.00" fill="#F0604E" fill-opacity="0.75"/>
<circle cx="528.30" cy="225.58" r="2.90" fill="#8BD0C7" fill-opacity="0.75"/>
<circle cx="525.60" cy="245.76" r="2.80" fill="#8B382B" fill-opacity="0.75"/>
<circle cx="534.90" cy="255.85" r="2.80" fill="#9654B3" fill-opacity="0.75"/>
<circle cx="526.70" cy="417.29" r="2.80" fill="#8BD0C7" fill-opacity="0.75"/>
<circle cx="534.90" cy="215.49" r="2.70" fill="#9654B3" fill-opacity="0.75"/>
<circle cx="523.10" cy="255.85" r="2.70" fill="#8BD0C7" fill-opacity="0.75"/>
<circle cx="527.70" cy="336.57" r="2.70" fill="#DCA72A" fill-opacity="0.75"/>
<circle cx="544.60" cy="467.74" r="2.70" fill="#F5C4DA" fill-opacity="0.75"/>
<circle cx="534.80" cy="326.48" r="2.60" fill="#FA7E0C" fill-opacity="0.75"/>
<circle cx="524.10" cy="447.56" r="2.60" fill="#8BD0C7" fill-opacity="0.75"/>
<circle cx="534.00" cy="477.83" r="2.60" fill="#FA7E0C" fill-opacity="0.75"/>
<circle cx="536.60" cy="477.83" r="2.60" fill="#9654B3" fill-opacity="0.75"/>
<circle cx="533.20" cy="245.76" r="2.50" fill="#F0604E" fill-opacity="0.75"/>
<circle cx="534.70" cy="467.74" r="2.50" fill="#FA7E0C" fill-opacity="0.75"/>
<circle cx="530.70" cy="498.01" r="2.50" fill="#002F5A" fill-opacity="0.75"/>
<circle cx="524.40" cy="508.10" r="2.50" fill="#8BD0C7" fill-opacity="0.75"/>
<circle cx="530.40" cy="467.74" r="2.40" fill="#002F5A" fill-opacity="0.75"/>
<circle cx="529.00" cy="397.11" r="2.00" fill="#002F5A" fill-opacity="0.75"/>
<circle cx="534.00" cy="417.29" r="1.70" fill="#9654B3" fill-opacity="0.75"/>
<text x="386.70" y="543.80" font-size="9.9" text-anchor="middle" fill="#231F20" stroke="#231F20" stroke-width="0.06" >−log<tspan font-size="6.8" dy="2.2">10</tspan><tspan dy="-2.2">(</tspan><tspan font-style="italic">P</tspan>) × direction of effect</text>
<rect x="32.20" y="519.00" width="8.60" height="8.40" fill="#165C7B" />
<text x="46.00" y="526.20" font-size="8.5" text-anchor="start" fill="#231F20" stroke="#231F20" stroke-width="0.06" textLength="50" lengthAdjust="spacingAndGlyphs">Inflammatory</text>
<rect x="32.20" y="530.40" width="8.60" height="8.40" fill="#E87331" />
<text x="46.00" y="537.60" font-size="8.5" text-anchor="start" fill="#231F20" stroke="#231F20" stroke-width="0.06" textLength="85" lengthAdjust="spacingAndGlyphs">Remodeling and repair</text>
<rect x="32.20" y="541.80" width="8.60" height="8.40" fill="#F0CCEB" />
<text x="46.00" y="549.00" font-size="8.5" text-anchor="start" fill="#231F20" stroke="#231F20" stroke-width="0.06" textLength="60.2" lengthAdjust="spacingAndGlyphs">Aging hallmarks</text>
<rect x="32.20" y="553.20" width="8.60" height="8.40" fill="#C2E3F3" />
<text x="46.00" y="560.40" font-size="8.5" text-anchor="start" fill="#231F20" stroke="#231F20" stroke-width="0.06" textLength="21.2" lengthAdjust="spacingAndGlyphs">Other</text>
<rect x="32.20" y="564.60" width="8.60" height="8.40" fill="#FFFF00" />
<text x="46.00" y="571.80" font-size="8.5" text-anchor="start" fill="#231F20" stroke="#231F20" stroke-width="0.06" textLength="144.6" lengthAdjust="spacingAndGlyphs">Cell migration and cell–ECM pathways</text>
<text x="587.60" y="216.60" font-size="8.7" text-anchor="start" fill="#231F20" stroke="#231F20" stroke-width="0.06" >Cell</text>
<circle cx="593" cy="229.10" r="3.0" fill="#F0604E" fill-opacity="0.75"/>
<text x="600.70" y="232.10" font-size="8.6" text-anchor="start" fill="#231F20" stroke="#231F20" stroke-width="0.06" textLength="15.8" lengthAdjust="spacingAndGlyphs">ABC</text>
<circle cx="593" cy="240.05" r="3.0" fill="#3F83BE" fill-opacity="0.75"/>
<text x="600.70" y="243.05" font-size="8.6" text-anchor="start" fill="#231F20" stroke="#231F20" stroke-width="0.06" textLength="33.7" lengthAdjust="spacingAndGlyphs">Aerocyte</text>
<circle cx="593" cy="251.00" r="3.0" fill="#8BD0C7" fill-opacity="0.75"/>
<text x="600.70" y="254.00" font-size="8.6" text-anchor="start" fill="#231F20" stroke="#231F20" stroke-width="0.06" textLength="68.7" lengthAdjust="spacingAndGlyphs">Alveolar fibroblast</text>
<circle cx="593" cy="261.95" r="3.0" fill="#F5C4DA" fill-opacity="0.75"/>
<text x="600.70" y="264.95" font-size="8.6" text-anchor="start" fill="#231F20" stroke="#231F20" stroke-width="0.06" textLength="11.8" lengthAdjust="spacingAndGlyphs">AM</text>
<circle cx="593" cy="272.90" r="3.0" fill="#FA7E0C" fill-opacity="0.75"/>
<text x="600.70" y="275.90" font-size="8.6" text-anchor="start" fill="#231F20" stroke="#231F20" stroke-width="0.06" textLength="23.5" lengthAdjust="spacingAndGlyphs">Artery</text>
<circle cx="593" cy="283.85" r="3.0" fill="#DCA72A" fill-opacity="0.75"/>
<text x="600.70" y="286.85" font-size="8.6" text-anchor="start" fill="#231F20" stroke="#231F20" stroke-width="0.06" textLength="11.8" lengthAdjust="spacingAndGlyphs">AT1</text>
<circle cx="593" cy="294.80" r="3.0" fill="#8FE78B" fill-opacity="0.75"/>
<text x="600.70" y="297.80" font-size="8.6" text-anchor="start" fill="#231F20" stroke="#231F20" stroke-width="0.06" textLength="13.0" lengthAdjust="spacingAndGlyphs">AT2</text>
<circle cx="593" cy="305.75" r="3.0" fill="#9654B3" fill-opacity="0.75"/>
<text x="600.70" y="308.75" font-size="8.6" text-anchor="start" fill="#231F20" stroke="#231F20" stroke-width="0.06" textLength="19.9" lengthAdjust="spacingAndGlyphs">gCap</text>
<circle cx="593" cy="316.70" r="3.0" fill="#002F5A" fill-opacity="0.75"/>
<text x="600.70" y="319.70" font-size="8.6" text-anchor="start" fill="#231F20" stroke="#231F20" stroke-width="0.06" textLength="8.4" lengthAdjust="spacingAndGlyphs">IM</text>
<circle cx="593" cy="327.65" r="3.0" fill="#8B382B" fill-opacity="0.75"/>
<text x="600.70" y="330.65" font-size="8.6" text-anchor="start" fill="#231F20" stroke="#231F20" stroke-width="0.06" textLength="37.2" lengthAdjust="spacingAndGlyphs">Monocyte</text>
<text x="587.60" y="357.60" font-size="8.5" text-anchor="start" fill="#231F20" stroke="#231F20" stroke-width="0.06" textLength="42.2" lengthAdjust="spacingAndGlyphs">Association</text>
<circle cx="592.8" cy="370.8" r="2.6" fill="#4D4D4D"/>
<text x="600.60" y="373.80" font-size="8.6" text-anchor="start" fill="#231F20" stroke="#231F20" stroke-width="0.06" >Marginal</text>
<polygon points="592.8,378.3 589.6,383.9 596.0,383.9" fill="#4D4D4D"/>
<text x="600.60" y="384.60" font-size="8.6" text-anchor="start" fill="#231F20" stroke="#231F20" stroke-width="0.06" >Mediation</text>
<circle cx="592.8" cy="424.3" r="5.0" fill="#4D4D4D"/>
<text x="606.00" y="427.30" font-size="8.6" text-anchor="start" fill="#231F20" stroke="#231F20" stroke-width="0.06" >10</text>
<circle cx="592.8" cy="437.3" r="6.5" fill="#4D4D4D"/>
<text x="606.00" y="440.30" font-size="8.6" text-anchor="start" fill="#231F20" stroke="#231F20" stroke-width="0.06" >20</text>
<circle cx="592.8" cy="453.1" r="7.5" fill="#4D4D4D"/>
<text x="606.00" y="456.10" font-size="8.6" text-anchor="start" fill="#231F20" stroke="#231F20" stroke-width="0.06" >30</text>
<circle cx="592.8" cy="472.0" r="8.4" fill="#4D4D4D"/>
<text x="606.00" y="475.00" font-size="8.6" text-anchor="start" fill="#231F20" stroke="#231F20" stroke-width="0.06" >40</text>
<circle cx="592.8" cy="492.3" r="9.3" fill="#4D4D4D"/>
<text x="606.00" y="495.30" font-size="8.6" text-anchor="start" fill="#231F20" stroke="#231F20" stroke-width="0.06" >50</text>
<text x="0.20" y="591.30" font-size="14" text-anchor="start" fill="#000" font-weight="bold" >e</text>
<text x="150.80" y="592.40" font-size="9.9" text-anchor="middle" fill="#231F20" stroke="#231F20" stroke-width="0.06" >Expressing cells</text>
<text x="277.60" y="592.40" font-size="9.9" text-anchor="middle" fill="#231F20" stroke="#231F20" stroke-width="0.06" >Receiving cells</text>
<rect x="70.60" y="598.90" width="8.43" height="17.85" fill="#F5F5DE" stroke="#FFFFFF" stroke-opacity="0.55" stroke-width="0.5"/>
<rect x="79.03" y="598.90" width="8.43" height="17.85" fill="#F8F3D5" stroke="#FFFFFF" stroke-opacity="0.55" stroke-width="0.5"/>
<rect x="87.45" y="598.90" width="8.43" height="17.85" fill="#FEF3C0" stroke="#FFFFFF" stroke-opacity="0.55" stroke-width="0.5"/>
<rect x="95.88" y="598.90" width="8.43" height="17.85" fill="#FED98A" stroke="#FFFFFF" stroke-opacity="0.55" stroke-width="0.5"/>
<rect x="104.30" y="598.90" width="8.43" height="17.85" fill="#F8F6DC" stroke="#FFFFFF" stroke-opacity="0.55" stroke-width="0.5"/>
<rect x="112.73" y="598.90" width="8.43" height="17.85" fill="#F5F5DE" stroke="#FFFFFF" stroke-opacity="0.55" stroke-width="0.5"/>
<rect x="121.16" y="598.90" width="8.43" height="17.85" fill="#F8F5DA" stroke="#FFFFFF" stroke-opacity="0.55" stroke-width="0.5"/>
<rect x="129.58" y="598.90" width="8.43" height="17.85" fill="#FEDA8C" stroke="#FFFFFF" stroke-opacity="0.55" stroke-width="0.5"/>
<rect x="138.01" y="598.90" width="8.43" height="17.85" fill="#FEDE94" stroke="#FFFFFF" stroke-opacity="0.55" stroke-width="0.5"/>
<rect x="146.43" y="598.90" width="8.43" height="17.85" fill="#F5F5DE" stroke="#FFFFFF" stroke-opacity="0.55" stroke-width="0.5"/>
<rect x="154.86" y="598.90" width="8.43" height="17.85" fill="#F5F5DE" stroke="#FFFFFF" stroke-opacity="0.55" stroke-width="0.5"/>
<rect x="163.29" y="598.90" width="8.43" height="17.85" fill="#FEECB0" stroke="#FFFFFF" stroke-opacity="0.55" stroke-width="0.5"/>
<rect x="171.71" y="598.90" width="8.43" height="17.85" fill="#9E1C2E" stroke="#FFFFFF" stroke-opacity="0.55" stroke-width="0.5"/>
<rect x="180.14" y="598.90" width="8.43" height="17.85" fill="#FBF5D5" stroke="#FFFFFF" stroke-opacity="0.55" stroke-width="0.5"/>
<rect x="188.56" y="598.90" width="8.43" height="17.85" fill="#F7F5DA" stroke="#FFFFFF" stroke-opacity="0.55" stroke-width="0.5"/>
<rect x="196.99" y="598.90" width="8.43" height="17.85" fill="#F5F5E0" stroke="#FFFFFF" stroke-opacity="0.55" stroke-width="0.5"/>
<rect x="205.42" y="598.90" width="8.43" height="17.85" fill="#F5F5E0" stroke="#FFFFFF" stroke-opacity="0.55" stroke-width="0.5"/>
<rect x="213.84" y="598.90" width="8.43" height="17.85" fill="#F6F5DC" stroke="#FFFFFF" stroke-opacity="0.55" stroke-width="0.5"/>
<rect x="222.27" y="598.90" width="8.43" height="17.85" fill="#F6F5DC" stroke="#FFFFFF" stroke-opacity="0.55" stroke-width="0.5"/>
<rect x="70.60" y="616.75" width="8.43" height="17.85" fill="#FCF1CD" stroke="#FFFFFF" stroke-opacity="0.55" stroke-width="0.5"/>
<rect x="79.03" y="616.75" width="8.43" height="17.85" fill="#F4F5E2" stroke="#FFFFFF" stroke-opacity="0.55" stroke-width="0.5"/>
<rect x="87.45" y="616.75" width="8.43" height="17.85" fill="#FBF4D0" stroke="#FFFFFF" stroke-opacity="0.55" stroke-width="0.5"/>
<rect x="95.88" y="616.75" width="8.43" height="17.85" fill="#F6F5DC" stroke="#FFFFFF" stroke-opacity="0.55" stroke-width="0.5"/>
<rect x="104.30" y="616.75" width="8.43" height="17.85" fill="#F3F4E3" stroke="#FFFFFF" stroke-opacity="0.55" stroke-width="0.5"/>
<rect x="112.73" y="616.75" width="8.43" height="17.85" fill="#F3F4E3" stroke="#FFFFFF" stroke-opacity="0.55" stroke-width="0.5"/>
<rect x="121.16" y="616.75" width="8.43" height="17.85" fill="#F5F5DF" stroke="#FFFFFF" stroke-opacity="0.55" stroke-width="0.5"/>
<rect x="129.58" y="616.75" width="8.43" height="17.85" fill="#FDF3CA" stroke="#FFFFFF" stroke-opacity="0.55" stroke-width="0.5"/>
<rect x="138.01" y="616.75" width="8.43" height="17.85" fill="#F2F4E2" stroke="#FFFFFF" stroke-opacity="0.55" stroke-width="0.5"/>
<rect x="146.43" y="616.75" width="8.43" height="17.85" fill="#FEF5CA" stroke="#FFFFFF" stroke-opacity="0.55" stroke-width="0.5"/>
<rect x="154.86" y="616.75" width="8.43" height="17.85" fill="#E8312A" stroke="#FFFFFF" stroke-opacity="0.55" stroke-width="0.5"/>
<rect x="163.29" y="616.75" width="8.43" height="17.85" fill="#FED58A" stroke="#FFFFFF" stroke-opacity="0.55" stroke-width="0.5"/>
<rect x="171.71" y="616.75" width="8.43" height="17.85" fill="#F26B3A" stroke="#FFFFFF" stroke-opacity="0.55" stroke-width="0.5"/>
<rect x="180.14" y="616.75" width="8.43" height="17.85" fill="#FCF2CC" stroke="#FFFFFF" stroke-opacity="0.55" stroke-width="0.5"/>
<rect x="188.56" y="616.75" width="8.43" height="17.85" fill="#FCF2CB" stroke="#FFFFFF" stroke-opacity="0.55" stroke-width="0.5"/>
<rect x="196.99" y="616.75" width="8.43" height="17.85" fill="#FDF2C6" stroke="#FFFFFF" stroke-opacity="0.55" stroke-width="0.5"/>
<rect x="205.42" y="616.75" width="8.43" height="17.85" fill="#F6F5DC" stroke="#FFFFFF" stroke-opacity="0.55" stroke-width="0.5"/>
<rect x="213.84" y="616.75" width="8.43" height="17.85" fill="#FDF0C7" stroke="#FFFFFF" stroke-opacity="0.55" stroke-width="0.5"/>
<rect x="222.27" y="616.75" width="8.43" height="17.85" fill="#FEC060" stroke="#FFFFFF" stroke-opacity="0.55" stroke-width="0.5"/>
<rect x="70.60" y="634.60" width="8.43" height="17.85" fill="#F7F6DA" stroke="#FFFFFF" stroke-opacity="0.55" stroke-width="0.5"/>
<rect x="79.03" y="634.60" width="8.43" height="17.85" fill="#F7F6DA" stroke="#FFFFFF" stroke-opacity="0.55" stroke-width="0.5"/>
<rect x="87.45" y="634.60" width="8.43" height="17.85" fill="#F7F6DA" stroke="#FFFFFF" stroke-opacity="0.55" stroke-width="0.5"/>
<rect x="95.88" y="634.60" width="8.43" height="17.85" fill="#FBF4CB" stroke="#FFFFFF" stroke-opacity="0.55" stroke-width="0.5"/>
<rect x="104.30" y="634.60" width="8.43" height="17.85" fill="#F7F6DA" stroke="#FFFFFF" stroke-opacity="0.55" stroke-width="0.5"/>
<rect x="112.73" y="634.60" width="8.43" height="17.85" fill="#F7F6DA" stroke="#FFFFFF" stroke-opacity="0.55" stroke-width="0.5"/>
<rect x="121.16" y="634.60" width="8.43" height="17.85" fill="#F7F6DA" stroke="#FFFFFF" stroke-opacity="0.55" stroke-width="0.5"/>
<rect x="129.58" y="634.60" width="8.43" height="17.85" fill="#FED48A" stroke="#FFFFFF" stroke-opacity="0.55" stroke-width="0.5"/>
<rect x="138.01" y="634.60" width="8.43" height="17.85" fill="#F7F6DA" stroke="#FFFFFF" stroke-opacity="0.55" stroke-width="0.5"/>
<rect x="146.43" y="634.60" width="8.43" height="17.85" fill="#F7F6DA" stroke="#FFFFFF" stroke-opacity="0.55" stroke-width="0.5"/>
<rect x="154.86" y="634.60" width="8.43" height="17.85" fill="#F7F6DA" stroke="#FFFFFF" stroke-opacity="0.55" stroke-width="0.5"/>
<rect x="163.29" y="634.60" width="8.43" height="17.85" fill="#FEE9A8" stroke="#FFFFFF" stroke-opacity="0.55" stroke-width="0.5"/>
<rect x="171.71" y="634.60" width="8.43" height="17.85" fill="#F7F6DA" stroke="#FFFFFF" stroke-opacity="0.55" stroke-width="0.5"/>
<rect x="180.14" y="634.60" width="8.43" height="17.85" fill="#E8282A" stroke="#FFFFFF" stroke-opacity="0.55" stroke-width="0.5"/>
<rect x="188.56" y="634.60" width="8.43" height="17.85" fill="#EE4F31" stroke="#FFFFFF" stroke-opacity="0.55" stroke-width="0.5"/>
<rect x="196.99" y="634.60" width="8.43" height="17.85" fill="#F7F6DA" stroke="#FFFFFF" stroke-opacity="0.55" stroke-width="0.5"/>
<rect x="205.42" y="634.60" width="8.43" height="17.85" fill="#F7F6DA" stroke="#FFFFFF" stroke-opacity="0.55" stroke-width="0.5"/>
<rect x="213.84" y="634.60" width="8.43" height="17.85" fill="#F7F6DA" stroke="#FFFFFF" stroke-opacity="0.55" stroke-width="0.5"/>
<rect x="222.27" y="634.60" width="8.43" height="17.85" fill="#F7F6DA" stroke="#FFFFFF" stroke-opacity="0.55" stroke-width="0.5"/>
<rect x="70.60" y="652.45" width="8.43" height="17.85" fill="#F7F6DA" stroke="#FFFFFF" stroke-opacity="0.55" stroke-width="0.5"/>
<rect x="79.03" y="652.45" width="8.43" height="17.85" fill="#F7F6DA" stroke="#FFFFFF" stroke-opacity="0.55" stroke-width="0.5"/>
<rect x="87.45" y="652.45" width="8.43" height="17.85" fill="#F7F6DA" stroke="#FFFFFF" stroke-opacity="0.55" stroke-width="0.5"/>
<rect x="95.88" y="652.45" width="8.43" height="17.85" fill="#FBF4CB" stroke="#FFFFFF" stroke-opacity="0.55" stroke-width="0.5"/>
<rect x="104.30" y="652.45" width="8.43" height="17.85" fill="#F7F6DA" stroke="#FFFFFF" stroke-opacity="0.55" stroke-width="0.5"/>
<rect x="112.73" y="652.45" width="8.43" height="17.85" fill="#F7F6DA" stroke="#FFFFFF" stroke-opacity="0.55" stroke-width="0.5"/>
<rect x="121.16" y="652.45" width="8.43" height="17.85" fill="#F7F6DA" stroke="#FFFFFF" stroke-opacity="0.55" stroke-width="0.5"/>
<rect x="129.58" y="652.45" width="8.43" height="17.85" fill="#FED48A" stroke="#FFFFFF" stroke-opacity="0.55" stroke-width="0.5"/>
<rect x="138.01" y="652.45" width="8.43" height="17.85" fill="#F7F6DA" stroke="#FFFFFF" stroke-opacity="0.55" stroke-width="0.5"/>
<rect x="146.43" y="652.45" width="8.43" height="17.85" fill="#F7F6DA" stroke="#FFFFFF" stroke-opacity="0.55" stroke-width="0.5"/>
<rect x="154.86" y="652.45" width="8.43" height="17.85" fill="#F7F6DA" stroke="#FFFFFF" stroke-opacity="0.55" stroke-width="0.5"/>
<rect x="163.29" y="652.45" width="8.43" height="17.85" fill="#FEE9A8" stroke="#FFFFFF" stroke-opacity="0.55" stroke-width="0.5"/>
<rect x="171.71" y="652.45" width="8.43" height="17.85" fill="#F7F6DA" stroke="#FFFFFF" stroke-opacity="0.55" stroke-width="0.5"/>
<rect x="180.14" y="652.45" width="8.43" height="17.85" fill="#E8282A" stroke="#FFFFFF" stroke-opacity="0.55" stroke-width="0.5"/>
<rect x="188.56" y="652.45" width="8.43" height="17.85" fill="#EE4F31" stroke="#FFFFFF" stroke-opacity="0.55" stroke-width="0.5"/>
<rect x="196.99" y="652.45" width="8.43" height="17.85" fill="#F7F6DA" stroke="#FFFFFF" stroke-opacity="0.55" stroke-width="0.5"/>
<rect x="205.42" y="652.45" width="8.43" height="17.85" fill="#F7F6DA" stroke="#FFFFFF" stroke-opacity="0.55" stroke-width="0.5"/>
<rect x="213.84" y="652.45" width="8.43" height="17.85" fill="#F7F6DA" stroke="#FFFFFF" stroke-opacity="0.55" stroke-width="0.5"/>
<rect x="222.27" y="652.45" width="8.43" height="17.85" fill="#F7F6DA" stroke="#FFFFFF" stroke-opacity="0.55" stroke-width="0.5"/>
<rect x="70.60" y="670.30" width="8.43" height="17.85" fill="#F8F4D6" stroke="#FFFFFF" stroke-opacity="0.55" stroke-width="0.5"/>
<rect x="79.03" y="670.30" width="8.43" height="17.85" fill="#F7F6DA" stroke="#FFFFFF" stroke-opacity="0.55" stroke-width="0.5"/>
<rect x="87.45" y="670.30" width="8.43" height="17.85" fill="#FEC56A" stroke="#FFFFFF" stroke-opacity="0.55" stroke-width="0.5"/>
<rect x="95.88" y="670.30" width="8.43" height="17.85" fill="#FED992" stroke="#FFFFFF" stroke-opacity="0.55" stroke-width="0.5"/>
<rect x="104.30" y="670.30" width="8.43" height="17.85" fill="#F7F6DA" stroke="#FFFFFF" stroke-opacity="0.55" stroke-width="0.5"/>
<rect x="112.73" y="670.30" width="8.43" height="17.85" fill="#F7F6DA" stroke="#FFFFFF" stroke-opacity="0.55" stroke-width="0.5"/>
<rect x="121.16" y="670.30" width="8.43" height="17.85" fill="#F7F6DA" stroke="#FFFFFF" stroke-opacity="0.55" stroke-width="0.5"/>
<rect x="129.58" y="670.30" width="8.43" height="17.85" fill="#F7F6DA" stroke="#FFFFFF" stroke-opacity="0.55" stroke-width="0.5"/>
<rect x="138.01" y="670.30" width="8.43" height="17.85" fill="#F7F6DA" stroke="#FFFFFF" stroke-opacity="0.55" stroke-width="0.5"/>
<rect x="146.43" y="670.30" width="8.43" height="17.85" fill="#F7F6DA" stroke="#FFFFFF" stroke-opacity="0.55" stroke-width="0.5"/>
<rect x="154.86" y="670.30" width="8.43" height="17.85" fill="#F7F6DA" stroke="#FFFFFF" stroke-opacity="0.55" stroke-width="0.5"/>
<rect x="163.29" y="670.30" width="8.43" height="17.85" fill="#FEB657" stroke="#FFFFFF" stroke-opacity="0.55" stroke-width="0.5"/>
<rect x="171.71" y="670.30" width="8.43" height="17.85" fill="#F7F6DA" stroke="#FFFFFF" stroke-opacity="0.55" stroke-width="0.5"/>
<rect x="180.14" y="670.30" width="8.43" height="17.85" fill="#EA3B2B" stroke="#FFFFFF" stroke-opacity="0.55" stroke-width="0.5"/>
<rect x="188.56" y="670.30" width="8.43" height="17.85" fill="#F38B40" stroke="#FFFFFF" stroke-opacity="0.55" stroke-width="0.5"/>
<rect x="196.99" y="670.30" width="8.43" height="17.85" fill="#F7F6DA" stroke="#FFFFFF" stroke-opacity="0.55" stroke-width="0.5"/>
<rect x="205.42" y="670.30" width="8.43" height="17.85" fill="#F7F6DA" stroke="#FFFFFF" stroke-opacity="0.55" stroke-width="0.5"/>
<rect x="213.84" y="670.30" width="8.43" height="17.85" fill="#F7F6DA" stroke="#FFFFFF" stroke-opacity="0.55" stroke-width="0.5"/>
<rect x="222.27" y="670.30" width="8.43" height="17.85" fill="#F7F6DA" stroke="#FFFFFF" stroke-opacity="0.55" stroke-width="0.5"/>
<rect x="70.60" y="688.15" width="8.43" height="17.85" fill="#FED67E" stroke="#FFFFFF" stroke-opacity="0.55" stroke-width="0.5"/>
<rect x="79.03" y="688.15" width="8.43" height="17.85" fill="#FECE6E" stroke="#FFFFFF" stroke-opacity="0.55" stroke-width="0.5"/>
<rect x="87.45" y="688.15" width="8.43" height="17.85" fill="#F7F6DA" stroke="#FFFFFF" stroke-opacity="0.55" stroke-width="0.5"/>
<rect x="95.88" y="688.15" width="8.43" height="17.85" fill="#F7F6DA" stroke="#FFFFFF" stroke-opacity="0.55" stroke-width="0.5"/>
<rect x="104.30" y="688.15" width="8.43" height="17.85" fill="#F7F6DA" stroke="#FFFFFF" stroke-opacity="0.55" stroke-width="0.5"/>
<rect x="112.73" y="688.15" width="8.43" height="17.85" fill="#F7F6DA" stroke="#FFFFFF" stroke-opacity="0.55" stroke-width="0.5"/>
<rect x="121.16" y="688.15" width="8.43" height="17.85" fill="#FDF1C1" stroke="#FFFFFF" stroke-opacity="0.55" stroke-width="0.5"/>
<rect x="129.58" y="688.15" width="8.43" height="17.85" fill="#F7F6DA" stroke="#FFFFFF" stroke-opacity="0.55" stroke-width="0.5"/>
<rect x="138.01" y="688.15" width="8.43" height="17.85" fill="#F7F6DA" stroke="#FFFFFF" stroke-opacity="0.55" stroke-width="0.5"/>
<rect x="146.43" y="688.15" width="8.43" height="17.85" fill="#F7F6DA" stroke="#FFFFFF" stroke-opacity="0.55" stroke-width="0.5"/>
<rect x="154.86" y="688.15" width="8.43" height="17.85" fill="#F7F6DA" stroke="#FFFFFF" stroke-opacity="0.55" stroke-width="0.5"/>
<rect x="163.29" y="688.15" width="8.43" height="17.85" fill="#F7F6DA" stroke="#FFFFFF" stroke-opacity="0.55" stroke-width="0.5"/>
<rect x="171.71" y="688.15" width="8.43" height="17.85" fill="#F7F6DA" stroke="#FFFFFF" stroke-opacity="0.55" stroke-width="0.5"/>
<rect x="180.14" y="688.15" width="8.43" height="17.85" fill="#F7F6DA" stroke="#FFFFFF" stroke-opacity="0.55" stroke-width="0.5"/>
<rect x="188.56" y="688.15" width="8.43" height="17.85" fill="#F7F6DA" stroke="#FFFFFF" stroke-opacity="0.55" stroke-width="0.5"/>
<rect x="196.99" y="688.15" width="8.43" height="17.85" fill="#F7F6DA" stroke="#FFFFFF" stroke-opacity="0.55" stroke-width="0.5"/>
<rect x="205.42" y="688.15" width="8.43" height="17.85" fill="#F7F6DA" stroke="#FFFFFF" stroke-opacity="0.55" stroke-width="0.5"/>
<rect x="213.84" y="688.15" width="8.43" height="17.85" fill="#D8222D" stroke="#FFFFFF" stroke-opacity="0.55" stroke-width="0.5"/>
<rect x="222.27" y="688.15" width="8.43" height="17.85" fill="#F38540" stroke="#FFFFFF" stroke-opacity="0.55" stroke-width="0.5"/>
<rect x="70.60" y="706.00" width="8.43" height="17.85" fill="#FED67E" stroke="#FFFFFF" stroke-opacity="0.55" stroke-width="0.5"/>
<rect x="79.03" y="706.00" width="8.43" height="17.85" fill="#FECE6E" stroke="#FFFFFF" stroke-opacity="0.55" stroke-width="0.5"/>
<rect x="87.45" y="706.00" width="8.43" height="17.85" fill="#F7F6DA" stroke="#FFFFFF" stroke-opacity="0.55" stroke-width="0.5"/>
<rect x="95.88" y="706.00" width="8.43" height="17.85" fill="#F7F6DA" stroke="#FFFFFF" stroke-opacity="0.55" stroke-width="0.5"/>
<rect x="104.30" y="706.00" width="8.43" height="17.85" fill="#F7F6DA" stroke="#FFFFFF" stroke-opacity="0.55" stroke-width="0.5"/>
<rect x="112.73" y="706.00" width="8.43" height="17.85" fill="#F7F6DA" stroke="#FFFFFF" stroke-opacity="0.55" stroke-width="0.5"/>
<rect x="121.16" y="706.00" width="8.43" height="17.85" fill="#FDF3C5" stroke="#FFFFFF" stroke-opacity="0.55" stroke-width="0.5"/>
<rect x="129.58" y="706.00" width="8.43" height="17.85" fill="#F7F6DA" stroke="#FFFFFF" stroke-opacity="0.55" stroke-width="0.5"/>
<rect x="138.01" y="706.00" width="8.43" height="17.85" fill="#F7F6DA" stroke="#FFFFFF" stroke-opacity="0.55" stroke-width="0.5"/>
<rect x="146.43" y="706.00" width="8.43" height="17.85" fill="#F7F6DA" stroke="#FFFFFF" stroke-opacity="0.55" stroke-width="0.5"/>
<rect x="154.86" y="706.00" width="8.43" height="17.85" fill="#F7F6DA" stroke="#FFFFFF" stroke-opacity="0.55" stroke-width="0.5"/>
<rect x="163.29" y="706.00" width="8.43" height="17.85" fill="#F7F6DA" stroke="#FFFFFF" stroke-opacity="0.55" stroke-width="0.5"/>
<rect x="171.71" y="706.00" width="8.43" height="17.85" fill="#F7F6DA" stroke="#FFFFFF" stroke-opacity="0.55" stroke-width="0.5"/>
<rect x="180.14" y="706.00" width="8.43" height="17.85" fill="#F7F6DA" stroke="#FFFFFF" stroke-opacity="0.55" stroke-width="0.5"/>
<rect x="188.56" y="706.00" width="8.43" height="17.85" fill="#F7F6DA" stroke="#FFFFFF" stroke-opacity="0.55" stroke-width="0.5"/>
<rect x="196.99" y="706.00" width="8.43" height="17.85" fill="#F7F6DA" stroke="#FFFFFF" stroke-opacity="0.55" stroke-width="0.5"/>
<rect x="205.42" y="706.00" width="8.43" height="17.85" fill="#F7F6DA" stroke="#FFFFFF" stroke-opacity="0.55" stroke-width="0.5"/>
<rect x="213.84" y="706.00" width="8.43" height="17.85" fill="#D8222D" stroke="#FFFFFF" stroke-opacity="0.55" stroke-width="0.5"/>
<rect x="222.27" y="706.00" width="8.43" height="17.85" fill="#F38540" stroke="#FFFFFF" stroke-opacity="0.55" stroke-width="0.5"/>
<rect x="70.60" y="723.85" width="8.43" height="17.85" fill="#FED67E" stroke="#FFFFFF" stroke-opacity="0.55" stroke-width="0.5"/>
<rect x="79.03" y="723.85" width="8.43" height="17.85" fill="#FDF7C8" stroke="#FFFFFF" stroke-opacity="0.55" stroke-width="0.5"/>
<rect x="87.45" y="723.85" width="8.43" height="17.85" fill="#F7F6DA" stroke="#FFFFFF" stroke-opacity="0.55" stroke-width="0.5"/>
<rect x="95.88" y="723.85" width="8.43" height="17.85" fill="#F7F6DA" stroke="#FFFFFF" stroke-opacity="0.55" stroke-width="0.5"/>
<rect x="104.30" y="723.85" width="8.43" height="17.85" fill="#F7F6DA" stroke="#FFFFFF" stroke-opacity="0.55" stroke-width="0.5"/>
<rect x="112.73" y="723.85" width="8.43" height="17.85" fill="#F7F6DA" stroke="#FFFFFF" stroke-opacity="0.55" stroke-width="0.5"/>
<rect x="121.16" y="723.85" width="8.43" height="17.85" fill="#FDF2C4" stroke="#FFFFFF" stroke-opacity="0.55" stroke-width="0.5"/>
<rect x="129.58" y="723.85" width="8.43" height="17.85" fill="#F7F6DA" stroke="#FFFFFF" stroke-opacity="0.55" stroke-width="0.5"/>
<rect x="138.01" y="723.85" width="8.43" height="17.85" fill="#F7F6DA" stroke="#FFFFFF" stroke-opacity="0.55" stroke-width="0.5"/>
<rect x="146.43" y="723.85" width="8.43" height="17.85" fill="#F7F6DA" stroke="#FFFFFF" stroke-opacity="0.55" stroke-width="0.5"/>
<rect x="154.86" y="723.85" width="8.43" height="17.85" fill="#F9F5D0" stroke="#FFFFFF" stroke-opacity="0.55" stroke-width="0.5"/>
<rect x="163.29" y="723.85" width="8.43" height="17.85" fill="#F7F6DA" stroke="#FFFFFF" stroke-opacity="0.55" stroke-width="0.5"/>
<rect x="171.71" y="723.85" width="8.43" height="17.85" fill="#F7F6DA" stroke="#FFFFFF" stroke-opacity="0.55" stroke-width="0.5"/>
<rect x="180.14" y="723.85" width="8.43" height="17.85" fill="#F7F6DA" stroke="#FFFFFF" stroke-opacity="0.55" stroke-width="0.5"/>
<rect x="188.56" y="723.85" width="8.43" height="17.85" fill="#F7F6DA" stroke="#FFFFFF" stroke-opacity="0.55" stroke-width="0.5"/>
<rect x="196.99" y="723.85" width="8.43" height="17.85" fill="#F7F6DA" stroke="#FFFFFF" stroke-opacity="0.55" stroke-width="0.5"/>
<rect x="205.42" y="723.85" width="8.43" height="17.85" fill="#F7F6DA" stroke="#FFFFFF" stroke-opacity="0.55" stroke-width="0.5"/>
<rect x="213.84" y="723.85" width="8.43" height="17.85" fill="#FDF3C4" stroke="#FFFFFF" stroke-opacity="0.55" stroke-width="0.5"/>
<rect x="222.27" y="723.85" width="8.43" height="17.85" fill="#7F0F2B" stroke="#FFFFFF" stroke-opacity="0.55" stroke-width="0.5"/>
<rect x="70.60" y="741.70" width="8.43" height="17.85" fill="#FED67E" stroke="#FFFFFF" stroke-opacity="0.55" stroke-width="0.5"/>
<rect x="79.03" y="741.70" width="8.43" height="17.85" fill="#FDF7C8" stroke="#FFFFFF" stroke-opacity="0.55" stroke-width="0.5"/>
<rect x="87.45" y="741.70" width="8.43" height="17.85" fill="#F7F6DA" stroke="#FFFFFF" stroke-opacity="0.55" stroke-width="0.5"/>
<rect x="95.88" y="741.70" width="8.43" height="17.85" fill="#F7F6DA" stroke="#FFFFFF" stroke-opacity="0.55" stroke-width="0.5"/>
<rect x="104.30" y="741.70" width="8.43" height="17.85" fill="#F7F6DA" stroke="#FFFFFF" stroke-opacity="0.55" stroke-width="0.5"/>
<rect x="112.73" y="741.70" width="8.43" height="17.85" fill="#F7F6DA" stroke="#FFFFFF" stroke-opacity="0.55" stroke-width="0.5"/>
<rect x="121.16" y="741.70" width="8.43" height="17.85" fill="#FDF2C4" stroke="#FFFFFF" stroke-opacity="0.55" stroke-width="0.5"/>
<rect x="129.58" y="741.70" width="8.43" height="17.85" fill="#F7F6DA" stroke="#FFFFFF" stroke-opacity="0.55" stroke-width="0.5"/>
<rect x="138.01" y="741.70" width="8.43" height="17.85" fill="#F7F6DA" stroke="#FFFFFF" stroke-opacity="0.55" stroke-width="0.5"/>
<rect x="146.43" y="741.70" width="8.43" height="17.85" fill="#F7F6DA" stroke="#FFFFFF" stroke-opacity="0.55" stroke-width="0.5"/>
<rect x="154.86" y="741.70" width="8.43" height="17.85" fill="#F9F5D0" stroke="#FFFFFF" stroke-opacity="0.55" stroke-width="0.5"/>
<rect x="163.29" y="741.70" width="8.43" height="17.85" fill="#F7F6DA" stroke="#FFFFFF" stroke-opacity="0.55" stroke-width="0.5"/>
<rect x="171.71" y="741.70" width="8.43" height="17.85" fill="#F7F6DA" stroke="#FFFFFF" stroke-opacity="0.55" stroke-width="0.5"/>
<rect x="180.14" y="741.70" width="8.43" height="17.85" fill="#F7F6DA" stroke="#FFFFFF" stroke-opacity="0.55" stroke-width="0.5"/>
<rect x="188.56" y="741.70" width="8.43" height="17.85" fill="#F7F6DA" stroke="#FFFFFF" stroke-opacity="0.55" stroke-width="0.5"/>
<rect x="196.99" y="741.70" width="8.43" height="17.85" fill="#F7F6DA" stroke="#FFFFFF" stroke-opacity="0.55" stroke-width="0.5"/>
<rect x="205.42" y="741.70" width="8.43" height="17.85" fill="#F7F6DA" stroke="#FFFFFF" stroke-opacity="0.55" stroke-width="0.5"/>
<rect x="213.84" y="741.70" width="8.43" height="17.85" fill="#FDF3C4" stroke="#FFFFFF" stroke-opacity="0.55" stroke-width="0.5"/>
<rect x="222.27" y="741.70" width="8.43" height="17.85" fill="#7F0F2B" stroke="#FFFFFF" stroke-opacity="0.55" stroke-width="0.5"/>
<rect x="70.60" y="759.55" width="8.43" height="17.85" fill="#FEB855" stroke="#FFFFFF" stroke-opacity="0.55" stroke-width="0.5"/>
<rect x="79.03" y="759.55" width="8.43" height="17.85" fill="#FDF7C8" stroke="#FFFFFF" stroke-opacity="0.55" stroke-width="0.5"/>
<rect x="87.45" y="759.55" width="8.43" height="17.85" fill="#FBF7D2" stroke="#FFFFFF" stroke-opacity="0.55" stroke-width="0.5"/>
<rect x="95.88" y="759.55" width="8.43" height="17.85" fill="#F7F6DA" stroke="#FFFFFF" stroke-opacity="0.55" stroke-width="0.5"/>
<rect x="104.30" y="759.55" width="8.43" height="17.85" fill="#F7F6DA" stroke="#FFFFFF" stroke-opacity="0.55" stroke-width="0.5"/>
<rect x="112.73" y="759.55" width="8.43" height="17.85" fill="#F7F6DA" stroke="#FFFFFF" stroke-opacity="0.55" stroke-width="0.5"/>
<rect x="121.16" y="759.55" width="8.43" height="17.85" fill="#FEEAAA" stroke="#FFFFFF" stroke-opacity="0.55" stroke-width="0.5"/>
<rect x="129.58" y="759.55" width="8.43" height="17.85" fill="#F7F6DA" stroke="#FFFFFF" stroke-opacity="0.55" stroke-width="0.5"/>
<rect x="138.01" y="759.55" width="8.43" height="17.85" fill="#F7F6DA" stroke="#FFFFFF" stroke-opacity="0.55" stroke-width="0.5"/>
<rect x="146.43" y="759.55" width="8.43" height="17.85" fill="#A0162B" stroke="#FFFFFF" stroke-opacity="0.55" stroke-width="0.5"/>
<rect x="154.86" y="759.55" width="8.43" height="17.85" fill="#F7F6DA" stroke="#FFFFFF" stroke-opacity="0.55" stroke-width="0.5"/>
<rect x="163.29" y="759.55" width="8.43" height="17.85" fill="#F7F6DA" stroke="#FFFFFF" stroke-opacity="0.55" stroke-width="0.5"/>
<rect x="171.71" y="759.55" width="8.43" height="17.85" fill="#F7F6DA" stroke="#FFFFFF" stroke-opacity="0.55" stroke-width="0.5"/>
<rect x="180.14" y="759.55" width="8.43" height="17.85" fill="#F7F6DA" stroke="#FFFFFF" stroke-opacity="0.55" stroke-width="0.5"/>
<rect x="188.56" y="759.55" width="8.43" height="17.85" fill="#F7F6DA" stroke="#FFFFFF" stroke-opacity="0.55" stroke-width="0.5"/>
<rect x="196.99" y="759.55" width="8.43" height="17.85" fill="#F7F6DA" stroke="#FFFFFF" stroke-opacity="0.55" stroke-width="0.5"/>
<rect x="205.42" y="759.55" width="8.43" height="17.85" fill="#F7F6DA" stroke="#FFFFFF" stroke-opacity="0.55" stroke-width="0.5"/>
<rect x="213.84" y="759.55" width="8.43" height="17.85" fill="#FED98A" stroke="#FFFFFF" stroke-opacity="0.55" stroke-width="0.5"/>
<rect x="222.27" y="759.55" width="8.43" height="17.85" fill="#F7F6DA" stroke="#FFFFFF" stroke-opacity="0.55" stroke-width="0.5"/>
<rect x="70.60" y="777.40" width="8.43" height="17.85" fill="#F7F6DA" stroke="#FFFFFF" stroke-opacity="0.55" stroke-width="0.5"/>
<rect x="79.03" y="777.40" width="8.43" height="17.85" fill="#F7F6DA" stroke="#FFFFFF" stroke-opacity="0.55" stroke-width="0.5"/>
<rect x="87.45" y="777.40" width="8.43" height="17.85" fill="#FAF4CD" stroke="#FFFFFF" stroke-opacity="0.55" stroke-width="0.5"/>
<rect x="95.88" y="777.40" width="8.43" height="17.85" fill="#F7F6DA" stroke="#FFFFFF" stroke-opacity="0.55" stroke-width="0.5"/>
<rect x="104.30" y="777.40" width="8.43" height="17.85" fill="#FDF3C4" stroke="#FFFFFF" stroke-opacity="0.55" stroke-width="0.5"/>
<rect x="112.73" y="777.40" width="8.43" height="17.85" fill="#F7F6DA" stroke="#FFFFFF" stroke-opacity="0.55" stroke-width="0.5"/>
<rect x="121.16" y="777.40" width="8.43" height="17.85" fill="#F7F6DA" stroke="#FFFFFF" stroke-opacity="0.55" stroke-width="0.5"/>
<rect x="129.58" y="777.40" width="8.43" height="17.85" fill="#FBF5D3" stroke="#FFFFFF" stroke-opacity="0.55" stroke-width="0.5"/>
<rect x="138.01" y="777.40" width="8.43" height="17.85" fill="#D9202B" stroke="#FFFFFF" stroke-opacity="0.55" stroke-width="0.5"/>
<rect x="146.43" y="777.40" width="8.43" height="17.85" fill="#F7F6DA" stroke="#FFFFFF" stroke-opacity="0.55" stroke-width="0.5"/>
<rect x="154.86" y="777.40" width="8.43" height="17.85" fill="#F7F6DA" stroke="#FFFFFF" stroke-opacity="0.55" stroke-width="0.5"/>
<rect x="163.29" y="777.40" width="8.43" height="17.85" fill="#F7F6DA" stroke="#FFFFFF" stroke-opacity="0.55" stroke-width="0.5"/>
<rect x="171.71" y="777.40" width="8.43" height="17.85" fill="#F7F6DA" stroke="#FFFFFF" stroke-opacity="0.55" stroke-width="0.5"/>
<rect x="180.14" y="777.40" width="8.43" height="17.85" fill="#F7F6DA" stroke="#FFFFFF" stroke-opacity="0.55" stroke-width="0.5"/>
<rect x="188.56" y="777.40" width="8.43" height="17.85" fill="#F7F6DA" stroke="#FFFFFF" stroke-opacity="0.55" stroke-width="0.5"/>
<rect x="196.99" y="777.40" width="8.43" height="17.85" fill="#F99D47" stroke="#FFFFFF" stroke-opacity="0.55" stroke-width="0.5"/>
<rect x="205.42" y="777.40" width="8.43" height="17.85" fill="#F89B45" stroke="#FFFFFF" stroke-opacity="0.55" stroke-width="0.5"/>
<rect x="213.84" y="777.40" width="8.43" height="17.85" fill="#F7F6DA" stroke="#FFFFFF" stroke-opacity="0.55" stroke-width="0.5"/>
<rect x="222.27" y="777.40" width="8.43" height="17.85" fill="#F7F6DA" stroke="#FFFFFF" stroke-opacity="0.55" stroke-width="0.5"/>
<rect x="70.60" y="795.25" width="8.43" height="17.85" fill="#F7F6DA" stroke="#FFFFFF" stroke-opacity="0.55" stroke-width="0.5"/>
<rect x="79.03" y="795.25" width="8.43" height="17.85" fill="#FED37F" stroke="#FFFFFF" stroke-opacity="0.55" stroke-width="0.5"/>
<rect x="87.45" y="795.25" width="8.43" height="17.85" fill="#FEE79F" stroke="#FFFFFF" stroke-opacity="0.55" stroke-width="0.5"/>
<rect x="95.88" y="795.25" width="8.43" height="17.85" fill="#F7F6DA" stroke="#FFFFFF" stroke-opacity="0.55" stroke-width="0.5"/>
<rect x="104.30" y="795.25" width="8.43" height="17.85" fill="#FCF6D2" stroke="#FFFFFF" stroke-opacity="0.55" stroke-width="0.5"/>
<rect x="112.73" y="795.25" width="8.43" height="17.85" fill="#F7F6DA" stroke="#FFFFFF" stroke-opacity="0.55" stroke-width="0.5"/>
<rect x="121.16" y="795.25" width="8.43" height="17.85" fill="#F7F6DA" stroke="#FFFFFF" stroke-opacity="0.55" stroke-width="0.5"/>
<rect x="129.58" y="795.25" width="8.43" height="17.85" fill="#F7F6DA" stroke="#FFFFFF" stroke-opacity="0.55" stroke-width="0.5"/>
<rect x="138.01" y="795.25" width="8.43" height="17.85" fill="#FEE399" stroke="#FFFFFF" stroke-opacity="0.55" stroke-width="0.5"/>
<rect x="146.43" y="795.25" width="8.43" height="17.85" fill="#F7F6DA" stroke="#FFFFFF" stroke-opacity="0.55" stroke-width="0.5"/>
<rect x="154.86" y="795.25" width="8.43" height="17.85" fill="#F05535" stroke="#FFFFFF" stroke-opacity="0.55" stroke-width="0.5"/>
<rect x="163.29" y="795.25" width="8.43" height="17.85" fill="#F78D3F" stroke="#FFFFFF" stroke-opacity="0.55" stroke-width="0.5"/>
<rect x="171.71" y="795.25" width="8.43" height="17.85" fill="#F7F6DA" stroke="#FFFFFF" stroke-opacity="0.55" stroke-width="0.5"/>
<rect x="180.14" y="795.25" width="8.43" height="17.85" fill="#F7F6DA" stroke="#FFFFFF" stroke-opacity="0.55" stroke-width="0.5"/>
<rect x="188.56" y="795.25" width="8.43" height="17.85" fill="#F7F6DA" stroke="#FFFFFF" stroke-opacity="0.55" stroke-width="0.5"/>
<rect x="196.99" y="795.25" width="8.43" height="17.85" fill="#FEF2C2" stroke="#FFFFFF" stroke-opacity="0.55" stroke-width="0.5"/>
<rect x="205.42" y="795.25" width="8.43" height="17.85" fill="#F89B45" stroke="#FFFFFF" stroke-opacity="0.55" stroke-width="0.5"/>
<rect x="213.84" y="795.25" width="8.43" height="17.85" fill="#F7F6DA" stroke="#FFFFFF" stroke-opacity="0.55" stroke-width="0.5"/>
<rect x="222.27" y="795.25" width="8.43" height="17.85" fill="#F7F6DA" stroke="#FFFFFF" stroke-opacity="0.55" stroke-width="0.5"/>
<rect x="70.60" y="813.10" width="8.43" height="17.85" fill="#F7F6DA" stroke="#FFFFFF" stroke-opacity="0.55" stroke-width="0.5"/>
<rect x="79.03" y="813.10" width="8.43" height="17.85" fill="#F7F6DA" stroke="#FFFFFF" stroke-opacity="0.55" stroke-width="0.5"/>
<rect x="87.45" y="813.10" width="8.43" height="17.85" fill="#F7F6DA" stroke="#FFFFFF" stroke-opacity="0.55" stroke-width="0.5"/>
<rect x="95.88" y="813.10" width="8.43" height="17.85" fill="#F7F6DA" stroke="#FFFFFF" stroke-opacity="0.55" stroke-width="0.5"/>
<rect x="104.30" y="813.10" width="8.43" height="17.85" fill="#F7F6DA" stroke="#FFFFFF" stroke-opacity="0.55" stroke-width="0.5"/>
<rect x="112.73" y="813.10" width="8.43" height="17.85" fill="#FDF3C7" stroke="#FFFFFF" stroke-opacity="0.55" stroke-width="0.5"/>
<rect x="121.16" y="813.10" width="8.43" height="17.85" fill="#F7F6DA" stroke="#FFFFFF" stroke-opacity="0.55" stroke-width="0.5"/>
<rect x="129.58" y="813.10" width="8.43" height="17.85" fill="#F7F6DA" stroke="#FFFFFF" stroke-opacity="0.55" stroke-width="0.5"/>
<rect x="138.01" y="813.10" width="8.43" height="17.85" fill="#F7F6DA" stroke="#FFFFFF" stroke-opacity="0.55" stroke-width="0.5"/>
<rect x="146.43" y="813.10" width="8.43" height="17.85" fill="#FDF3C7" stroke="#FFFFFF" stroke-opacity="0.55" stroke-width="0.5"/>
<rect x="154.86" y="813.10" width="8.43" height="17.85" fill="#F7F6DA" stroke="#FFFFFF" stroke-opacity="0.55" stroke-width="0.5"/>
<rect x="163.29" y="813.10" width="8.43" height="17.85" fill="#F7F6DA" stroke="#FFFFFF" stroke-opacity="0.55" stroke-width="0.5"/>
<rect x="171.71" y="813.10" width="8.43" height="17.85" fill="#F7F6DA" stroke="#FFFFFF" stroke-opacity="0.55" stroke-width="0.5"/>
<rect x="180.14" y="813.10" width="8.43" height="17.85" fill="#F7F6DA" stroke="#FFFFFF" stroke-opacity="0.55" stroke-width="0.5"/>
<rect x="188.56" y="813.10" width="8.43" height="17.85" fill="#F7F6DA" stroke="#FFFFFF" stroke-opacity="0.55" stroke-width="0.5"/>
<rect x="196.99" y="813.10" width="8.43" height="17.85" fill="#EE4F31" stroke="#FFFFFF" stroke-opacity="0.55" stroke-width="0.5"/>
<rect x="205.42" y="813.10" width="8.43" height="17.85" fill="#D6202C" stroke="#FFFFFF" stroke-opacity="0.55" stroke-width="0.5"/>
<rect x="213.84" y="813.10" width="8.43" height="17.85" fill="#F7F6DA" stroke="#FFFFFF" stroke-opacity="0.55" stroke-width="0.5"/>
<rect x="222.27" y="813.10" width="8.43" height="17.85" fill="#F7F6DA" stroke="#FFFFFF" stroke-opacity="0.55" stroke-width="0.5"/>
<rect x="70.60" y="830.95" width="8.43" height="17.85" fill="#F7F6DA" stroke="#FFFFFF" stroke-opacity="0.55" stroke-width="0.5"/>
<rect x="79.03" y="830.95" width="8.43" height="17.85" fill="#F7F6DA" stroke="#FFFFFF" stroke-opacity="0.55" stroke-width="0.5"/>
<rect x="87.45" y="830.95" width="8.43" height="17.85" fill="#F7F6DA" stroke="#FFFFFF" stroke-opacity="0.55" stroke-width="0.5"/>
<rect x="95.88" y="830.95" width="8.43" height="17.85" fill="#F7F6DA" stroke="#FFFFFF" stroke-opacity="0.55" stroke-width="0.5"/>
<rect x="104.30" y="830.95" width="8.43" height="17.85" fill="#F7F6DA" stroke="#FFFFFF" stroke-opacity="0.55" stroke-width="0.5"/>
<rect x="112.73" y="830.95" width="8.43" height="17.85" fill="#FDF3C7" stroke="#FFFFFF" stroke-opacity="0.55" stroke-width="0.5"/>
<rect x="121.16" y="830.95" width="8.43" height="17.85" fill="#F7F6DA" stroke="#FFFFFF" stroke-opacity="0.55" stroke-width="0.5"/>
<rect x="129.58" y="830.95" width="8.43" height="17.85" fill="#F7F6DA" stroke="#FFFFFF" stroke-opacity="0.55" stroke-width="0.5"/>
<rect x="138.01" y="830.95" width="8.43" height="17.85" fill="#F7F6DA" stroke="#FFFFFF" stroke-opacity="0.55" stroke-width="0.5"/>
<rect x="146.43" y="830.95" width="8.43" height="17.85" fill="#FDF3C7" stroke="#FFFFFF" stroke-opacity="0.55" stroke-width="0.5"/>
<rect x="154.86" y="830.95" width="8.43" height="17.85" fill="#F7F6DA" stroke="#FFFFFF" stroke-opacity="0.55" stroke-width="0.5"/>
<rect x="163.29" y="830.95" width="8.43" height="17.85" fill="#F7F6DA" stroke="#FFFFFF" stroke-opacity="0.55" stroke-width="0.5"/>
<rect x="171.71" y="830.95" width="8.43" height="17.85" fill="#F7F6DA" stroke="#FFFFFF" stroke-opacity="0.55" stroke-width="0.5"/>
<rect x="180.14" y="830.95" width="8.43" height="17.85" fill="#F7F6DA" stroke="#FFFFFF" stroke-opacity="0.55" stroke-width="0.5"/>
<rect x="188.56" y="830.95" width="8.43" height="17.85" fill="#F7F6DA" stroke="#FFFFFF" stroke-opacity="0.55" stroke-width="0.5"/>
<rect x="196.99" y="830.95" width="8.43" height="17.85" fill="#EE4F31" stroke="#FFFFFF" stroke-opacity="0.55" stroke-width="0.5"/>
<rect x="205.42" y="830.95" width="8.43" height="17.85" fill="#D6202C" stroke="#FFFFFF" stroke-opacity="0.55" stroke-width="0.5"/>
<rect x="213.84" y="830.95" width="8.43" height="17.85" fill="#F7F6DA" stroke="#FFFFFF" stroke-opacity="0.55" stroke-width="0.5"/>
<rect x="222.27" y="830.95" width="8.43" height="17.85" fill="#F7F6DA" stroke="#FFFFFF" stroke-opacity="0.55" stroke-width="0.5"/>
<rect x="70.60" y="848.80" width="8.43" height="17.85" fill="#F7F6DA" stroke="#FFFFFF" stroke-opacity="0.55" stroke-width="0.5"/>
<rect x="79.03" y="848.80" width="8.43" height="17.85" fill="#F89B45" stroke="#FFFFFF" stroke-opacity="0.55" stroke-width="0.5"/>
<rect x="87.45" y="848.80" width="8.43" height="17.85" fill="#F7F6DA" stroke="#FFFFFF" stroke-opacity="0.55" stroke-width="0.5"/>
<rect x="95.88" y="848.80" width="8.43" height="17.85" fill="#F7F6DA" stroke="#FFFFFF" stroke-opacity="0.55" stroke-width="0.5"/>
<rect x="104.30" y="848.80" width="8.43" height="17.85" fill="#F7F6DA" stroke="#FFFFFF" stroke-opacity="0.55" stroke-width="0.5"/>
<rect x="112.73" y="848.80" width="8.43" height="17.85" fill="#F7F6DA" stroke="#FFFFFF" stroke-opacity="0.55" stroke-width="0.5"/>
<rect x="121.16" y="848.80" width="8.43" height="17.85" fill="#FEEAAA" stroke="#FFFFFF" stroke-opacity="0.55" stroke-width="0.5"/>
<rect x="129.58" y="848.80" width="8.43" height="17.85" fill="#F7F6DA" stroke="#FFFFFF" stroke-opacity="0.55" stroke-width="0.5"/>
<rect x="138.01" y="848.80" width="8.43" height="17.85" fill="#F7F6DA" stroke="#FFFFFF" stroke-opacity="0.55" stroke-width="0.5"/>
<rect x="146.43" y="848.80" width="8.43" height="17.85" fill="#FDF0BE" stroke="#FFFFFF" stroke-opacity="0.55" stroke-width="0.5"/>
<rect x="154.86" y="848.80" width="8.43" height="17.85" fill="#F7F6DA" stroke="#FFFFFF" stroke-opacity="0.55" stroke-width="0.5"/>
<rect x="163.29" y="848.80" width="8.43" height="17.85" fill="#F7F6DA" stroke="#FFFFFF" stroke-opacity="0.55" stroke-width="0.5"/>
<rect x="171.71" y="848.80" width="8.43" height="17.85" fill="#F7F6DA" stroke="#FFFFFF" stroke-opacity="0.55" stroke-width="0.5"/>
<rect x="180.14" y="848.80" width="8.43" height="17.85" fill="#F7F6DA" stroke="#FFFFFF" stroke-opacity="0.55" stroke-width="0.5"/>
<rect x="188.56" y="848.80" width="8.43" height="17.85" fill="#F7F6DA" stroke="#FFFFFF" stroke-opacity="0.55" stroke-width="0.5"/>
<rect x="196.99" y="848.80" width="8.43" height="17.85" fill="#FEB758" stroke="#FFFFFF" stroke-opacity="0.55" stroke-width="0.5"/>
<rect x="205.42" y="848.80" width="8.43" height="17.85" fill="#D6202C" stroke="#FFFFFF" stroke-opacity="0.55" stroke-width="0.5"/>
<rect x="213.84" y="848.80" width="8.43" height="17.85" fill="#F7F6DA" stroke="#FFFFFF" stroke-opacity="0.55" stroke-width="0.5"/>
<rect x="222.27" y="848.80" width="8.43" height="17.85" fill="#F7F6DA" stroke="#FFFFFF" stroke-opacity="0.55" stroke-width="0.5"/>
<rect x="243.30" y="598.90" width="9.53" height="17.85" fill="#A9C4E0" stroke="#FFFFFF" stroke-opacity="0.0" stroke-width="0.5"/>
<rect x="243.30" y="616.75" width="9.53" height="17.85" fill="#84398E" stroke="#FFFFFF" stroke-opacity="0.0" stroke-width="0.5"/>
<rect x="262.36" y="634.60" width="9.53" height="17.85" fill="#DCE7F2" stroke="#FFFFFF" stroke-opacity="0.0" stroke-width="0.5"/>
<rect x="252.83" y="652.45" width="9.53" height="17.85" fill="#BCD2E8" stroke="#FFFFFF" stroke-opacity="0.0" stroke-width="0.5"/>
<rect x="262.36" y="670.30" width="9.53" height="17.85" fill="#6A2270" stroke="#FFFFFF" stroke-opacity="0.0" stroke-width="0.5"/>
<rect x="271.89" y="670.30" width="9.53" height="17.85" fill="#4E1152" stroke="#FFFFFF" stroke-opacity="0.0" stroke-width="0.5"/>
<rect x="281.42" y="670.30" width="9.53" height="17.85" fill="#8B74B8" stroke="#FFFFFF" stroke-opacity="0.0" stroke-width="0.5"/>
<rect x="252.83" y="688.15" width="9.53" height="17.85" fill="#C5D9EA" stroke="#FFFFFF" stroke-opacity="0.0" stroke-width="0.5"/>
<rect x="252.83" y="706.00" width="9.53" height="17.85" fill="#D4E2EF" stroke="#FFFFFF" stroke-opacity="0.0" stroke-width="0.5"/>
<rect x="262.36" y="706.00" width="9.53" height="17.85" fill="#843A95" stroke="#FFFFFF" stroke-opacity="0.0" stroke-width="0.5"/>
<rect x="271.89" y="706.00" width="9.53" height="17.85" fill="#4C1050" stroke="#FFFFFF" stroke-opacity="0.0" stroke-width="0.5"/>
<rect x="290.95" y="706.00" width="9.53" height="17.85" fill="#6C1F6E" stroke="#FFFFFF" stroke-opacity="0.0" stroke-width="0.5"/>
<rect x="300.48" y="706.00" width="9.53" height="17.85" fill="#98B5D8" stroke="#FFFFFF" stroke-opacity="0.0" stroke-width="0.5"/>
<rect x="252.83" y="723.85" width="9.53" height="17.85" fill="#E3EBF5" stroke="#FFFFFF" stroke-opacity="0.0" stroke-width="0.5"/>
<rect x="252.83" y="741.70" width="9.53" height="17.85" fill="#F4F8FB" stroke="#FFFFFF" stroke-opacity="0.0" stroke-width="0.5"/>
<rect x="262.36" y="741.70" width="9.53" height="17.85" fill="#8A86C0" stroke="#FFFFFF" stroke-opacity="0.0" stroke-width="0.5"/>
<rect x="300.48" y="741.70" width="9.53" height="17.85" fill="#93A8D2" stroke="#FFFFFF" stroke-opacity="0.0" stroke-width="0.5"/>
<rect x="243.30" y="759.55" width="9.53" height="17.85" fill="#C5D7E8" stroke="#FFFFFF" stroke-opacity="0.0" stroke-width="0.5"/>
<rect x="252.83" y="759.55" width="9.53" height="17.85" fill="#A9C3DF" stroke="#FFFFFF" stroke-opacity="0.0" stroke-width="0.5"/>
<rect x="243.30" y="777.40" width="9.53" height="17.85" fill="#8C78B9" stroke="#FFFFFF" stroke-opacity="0.0" stroke-width="0.5"/>
<rect x="252.83" y="777.40" width="9.53" height="17.85" fill="#8F9DCB" stroke="#FFFFFF" stroke-opacity="0.0" stroke-width="0.5"/>
<rect x="262.36" y="777.40" width="9.53" height="17.85" fill="#A9C4E0" stroke="#FFFFFF" stroke-opacity="0.0" stroke-width="0.5"/>
<rect x="243.30" y="795.25" width="9.53" height="17.85" fill="#8B83BE" stroke="#FFFFFF" stroke-opacity="0.0" stroke-width="0.5"/>
<rect x="300.48" y="795.25" width="9.53" height="17.85" fill="#C9DAEA" stroke="#FFFFFF" stroke-opacity="0.0" stroke-width="0.5"/>
<rect x="262.36" y="813.10" width="9.53" height="17.85" fill="#AAC4E0" stroke="#FFFFFF" stroke-opacity="0.0" stroke-width="0.5"/>
<rect x="271.89" y="813.10" width="9.53" height="17.85" fill="#8D52A0" stroke="#FFFFFF" stroke-opacity="0.0" stroke-width="0.5"/>
<rect x="262.36" y="830.95" width="9.53" height="17.85" fill="#D7E3F0" stroke="#FFFFFF" stroke-opacity="0.0" stroke-width="0.5"/>
<rect x="271.89" y="830.95" width="9.53" height="17.85" fill="#853795" stroke="#FFFFFF" stroke-opacity="0.0" stroke-width="0.5"/>
<rect x="243.30" y="848.80" width="9.53" height="17.85" fill="#9BB8D9" stroke="#FFFFFF" stroke-opacity="0.0" stroke-width="0.5"/>
<rect x="271.89" y="848.80" width="9.53" height="17.85" fill="#8E6BAF" stroke="#FFFFFF" stroke-opacity="0.0" stroke-width="0.5"/>
<rect x="290.95" y="848.80" width="9.53" height="17.85" fill="#9DB9DA" stroke="#FFFFFF" stroke-opacity="0.0" stroke-width="0.5"/>
<line x1="237" y1="597.9" x2="237" y2="867.65" stroke="#333" stroke-width="1.2" stroke-dasharray="2.9 2.9"/>
<text x="66.10" y="610.12" font-size="7.9" text-anchor="end" fill="#231F20" stroke="#231F20" stroke-width="0.06" textLength="31.6" lengthAdjust="spacingAndGlyphs">SEMA3A</text>
<text x="66.10" y="627.97" font-size="7.9" text-anchor="end" fill="#231F20" stroke="#231F20" stroke-width="0.06" textLength="45.6" lengthAdjust="spacingAndGlyphs">CSF1–CSF1R</text>
<text x="66.10" y="645.82" font-size="7.9" text-anchor="end" fill="#231F20" stroke="#231F20" stroke-width="0.06" textLength="41.9" lengthAdjust="spacingAndGlyphs">IL33–IL1RL1</text>
<text x="66.10" y="663.67" font-size="7.9" text-anchor="end" fill="#231F20" stroke="#231F20" stroke-width="0.06" textLength="44.9" lengthAdjust="spacingAndGlyphs">IL33–IL1RAP</text>
<text x="66.10" y="681.52" font-size="7.9" text-anchor="end" fill="#231F20" stroke="#231F20" stroke-width="0.06" textLength="10.8" lengthAdjust="spacingAndGlyphs">IL6</text>
<text x="66.10" y="699.38" font-size="7.9" text-anchor="end" fill="#231F20" stroke="#231F20" stroke-width="0.06" textLength="43.0" lengthAdjust="spacingAndGlyphs">IL1B–IL1RAP</text>
<text x="66.10" y="717.22" font-size="7.9" text-anchor="end" fill="#231F20" stroke="#231F20" stroke-width="0.06" textLength="36.0" lengthAdjust="spacingAndGlyphs">IL1B–IL1R1</text>
<text x="66.10" y="735.07" font-size="7.9" text-anchor="end" fill="#231F20" stroke="#231F20" stroke-width="0.06" textLength="44.1" lengthAdjust="spacingAndGlyphs">IL1A–IL1RAP</text>
<text x="66.10" y="752.92" font-size="7.9" text-anchor="end" fill="#231F20" stroke="#231F20" stroke-width="0.06" textLength="37.0" lengthAdjust="spacingAndGlyphs">IL1A–IL1R1</text>
<text x="66.10" y="770.77" font-size="7.9" text-anchor="end" fill="#231F20" stroke="#231F20" stroke-width="0.06" textLength="44.1" lengthAdjust="spacingAndGlyphs">IL10–IL10RA</text>
<text x="66.10" y="788.62" font-size="7.9" text-anchor="end" fill="#231F20" stroke="#231F20" stroke-width="0.06" textLength="31.6" lengthAdjust="spacingAndGlyphs">IL4–IL4R</text>
<text x="66.10" y="806.47" font-size="7.9" text-anchor="end" fill="#231F20" stroke="#231F20" stroke-width="0.06" textLength="34.5" lengthAdjust="spacingAndGlyphs">IL13–IL4R</text>
<text x="66.10" y="824.32" font-size="7.9" text-anchor="end" fill="#231F20" stroke="#231F20" stroke-width="0.06" textLength="50.1" lengthAdjust="spacingAndGlyphs">IFNG–IFNGR2</text>
<text x="66.10" y="842.17" font-size="7.9" text-anchor="end" fill="#231F20" stroke="#231F20" stroke-width="0.06" textLength="49.3" lengthAdjust="spacingAndGlyphs">IFNG–IFNGR1</text>
<text x="66.10" y="860.02" font-size="7.9" text-anchor="end" fill="#231F20" stroke="#231F20" stroke-width="0.06" textLength="13.8" lengthAdjust="spacingAndGlyphs">TNF</text>
<text transform="translate(7.2,730.4) rotate(-90)" font-size="9.5" textLength="87.5" lengthAdjust="spacingAndGlyphs" text-anchor="middle" fill="#231F20" stroke="#231F20" stroke-width="0.06">Ligand–receptor pair</text>
<text transform="translate(73.61,879.00) rotate(-45)" font-size="6.7" text-anchor="end" fill="#231F20" stroke="#231F20" stroke-width="0.06">IM</text>
<text transform="translate(82.04,879.00) rotate(-45)" font-size="6.7" text-anchor="end" fill="#231F20" stroke="#231F20" stroke-width="0.06">DC</text>
<text transform="translate(90.46,879.00) rotate(-45)" font-size="6.7" text-anchor="end" fill="#231F20" stroke="#231F20" stroke-width="0.06">Fibroblast</text>
<text transform="translate(98.89,879.00) rotate(-45)" font-size="6.7" text-anchor="end" fill="#231F20" stroke="#231F20" stroke-width="0.06">Goblet</text>
<text transform="translate(107.32,879.00) rotate(-45)" font-size="6.7" text-anchor="end" fill="#231F20" stroke="#231F20" stroke-width="0.06">AT1</text>
<text transform="translate(115.74,879.00) rotate(-45)" font-size="6.7" text-anchor="end" fill="#231F20" stroke="#231F20" stroke-width="0.06">NK</text>
<text transform="translate(124.17,879.00) rotate(-45)" font-size="6.7" text-anchor="end" fill="#231F20" stroke="#231F20" stroke-width="0.06">B/plasma</text>
<text transform="translate(132.59,879.00) rotate(-45)" font-size="6.7" text-anchor="end" fill="#231F20" stroke="#231F20" stroke-width="0.06">Basal</text>
<text transform="translate(141.02,879.00) rotate(-45)" font-size="6.7" text-anchor="end" fill="#231F20" stroke="#231F20" stroke-width="0.06">Ciliated</text>
<text transform="translate(149.45,879.00) rotate(-45)" font-size="6.7" text-anchor="end" fill="#231F20" stroke="#231F20" stroke-width="0.06">Treg</text>
<text transform="translate(157.87,879.00) rotate(-45)" font-size="6.7" text-anchor="end" fill="#231F20" stroke="#231F20" stroke-width="0.06">Mast</text>
<text transform="translate(166.30,879.00) rotate(-45)" font-size="6.7" text-anchor="end" fill="#231F20" stroke="#231F20" stroke-width="0.06">gCap</text>
<text transform="translate(174.73,879.00) rotate(-45)" font-size="6.7" text-anchor="end" fill="#231F20" stroke="#231F20" stroke-width="0.06">Aerocyte</text>
<text transform="translate(183.15,879.00) rotate(-45)" font-size="6.7" text-anchor="end" fill="#231F20" stroke="#231F20" stroke-width="0.06">Vein</text>
<text transform="translate(191.58,879.00) rotate(-45)" font-size="6.7" text-anchor="end" fill="#231F20" stroke="#231F20" stroke-width="0.06">Artery</text>
<text transform="translate(200.00,879.00) rotate(-45)" font-size="6.7" text-anchor="end" fill="#231F20" stroke="#231F20" stroke-width="0.06">CD8</text>
<text transform="translate(208.43,879.00) rotate(-45)" font-size="6.7" text-anchor="end" fill="#231F20" stroke="#231F20" stroke-width="0.06">CD4</text>
<text transform="translate(216.86,879.00) rotate(-45)" font-size="6.7" text-anchor="end" fill="#231F20" stroke="#231F20" stroke-width="0.06">Monocyte</text>
<text transform="translate(225.28,879.00) rotate(-45)" font-size="6.7" text-anchor="end" fill="#231F20" stroke="#231F20" stroke-width="0.06">AM</text>
<text transform="translate(246.87,879.00) rotate(-45)" font-size="6.7" text-anchor="end" fill="#231F20" stroke="#231F20" stroke-width="0.06">IM<tspan font-size="4.2" dy="1.3">CHIT</tspan></text>
<text transform="translate(256.40,879.00) rotate(-45)" font-size="6.7" text-anchor="end" fill="#231F20" stroke="#231F20" stroke-width="0.06">AM<tspan font-size="4.2" dy="1.3">L</tspan></text>
<text transform="translate(265.93,879.00) rotate(-45)" font-size="6.7" text-anchor="end" fill="#231F20" stroke="#231F20" stroke-width="0.06">Fibroblast<tspan font-size="4.2" dy="1.3">L</tspan></text>
<text transform="translate(275.46,879.00) rotate(-45)" font-size="6.7" text-anchor="end" fill="#231F20" stroke="#231F20" stroke-width="0.06">gCap<tspan font-size="4.2" dy="1.3">L</tspan></text>
<text transform="translate(284.99,879.00) rotate(-45)" font-size="6.7" text-anchor="end" fill="#231F20" stroke="#231F20" stroke-width="0.06">AT1<tspan font-size="4.2" dy="1.3">L</tspan></text>
<text transform="translate(294.52,879.00) rotate(-45)" font-size="6.7" text-anchor="end" fill="#231F20" stroke="#231F20" stroke-width="0.06">Aerocyte<tspan font-size="4.2" dy="1.3">L</tspan></text>
<text transform="translate(304.05,879.00) rotate(-45)" font-size="6.7" text-anchor="end" fill="#231F20" stroke="#231F20" stroke-width="0.06">AT2<tspan font-size="4.2" dy="1.3">L</tspan></text>
<defs><linearGradient id="gYlOrRd" x1="0" y1="0" x2="1" y2="0"><stop offset="0" stop-color="#F0F4E0"/><stop offset="0.14" stop-color="#FAF6CF"/><stop offset="0.34" stop-color="#FEE08E"/><stop offset="0.54" stop-color="#FBA447"/><stop offset="0.73" stop-color="#EE4A2D"/><stop offset="0.86" stop-color="#D3202C"/><stop offset="1" stop-color="#800026"/></linearGradient></defs>
<defs><linearGradient id="gBuPuE" x1="0" y1="0" x2="1" y2="0"><stop offset="0" stop-color="#F5F9FC"/><stop offset="0.21" stop-color="#C5D8EA"/><stop offset="0.37" stop-color="#A1BCDB"/><stop offset="0.51" stop-color="#8F8CC2"/><stop offset="0.65" stop-color="#8C5FAA"/><stop offset="0.79" stop-color="#8A2A95"/><stop offset="1" stop-color="#4F0C4E"/></linearGradient></defs>
<defs><linearGradient id="gBuPuF" x1="0" y1="0" x2="1" y2="0"><stop offset="0" stop-color="#EEF4F9"/><stop offset="0.23" stop-color="#C4D7EA"/><stop offset="0.4" stop-color="#A4BFDD"/><stop offset="0.52" stop-color="#8E8CC2"/><stop offset="0.67" stop-color="#8B5BA8"/><stop offset="0.82" stop-color="#862A95"/><stop offset="1" stop-color="#5C0F5A"/></linearGradient></defs>
<defs><linearGradient id="gYlOrRdF" x1="0" y1="0" x2="1" y2="0"><stop offset="0" stop-color="#FFF6C0"/><stop offset="0.16" stop-color="#FEE089"/><stop offset="0.36" stop-color="#FDB758"/><stop offset="0.54" stop-color="#F77F3B"/><stop offset="0.72" stop-color="#E8372A"/><stop offset="0.91" stop-color="#C41527"/><stop offset="1" stop-color="#8A0A2A"/></linearGradient></defs>
<text x="137.00" y="920.60" font-size="8.4" text-anchor="end" fill="#231F20" stroke="#231F20" stroke-width="0.06" >Normalized</text>
<text x="137.00" y="931.10" font-size="8.4" text-anchor="end" fill="#231F20" stroke="#231F20" stroke-width="0.06" >expression</text>
<rect x="141.0" y="914.6" width="45.50" height="9.30" fill="url(#gYlOrRd)"/>
<line x1="147.4" y1="922.3" x2="147.4" y2="923.9" stroke="#fff" stroke-width="0.6"/>
<line x1="156.4" y1="922.3" x2="156.4" y2="923.9" stroke="#fff" stroke-width="0.6"/>
<line x1="165.4" y1="922.3" x2="165.4" y2="923.9" stroke="#fff" stroke-width="0.6"/>
<line x1="174.5" y1="922.3" x2="174.5" y2="923.9" stroke="#fff" stroke-width="0.6"/>
<line x1="183.6" y1="922.3" x2="183.6" y2="923.9" stroke="#fff" stroke-width="0.6"/>
<text transform="translate(150.11,928.30) rotate(-90)" font-size="8.2" text-anchor="end" fill="#231F20" stroke="#231F20" stroke-width="0.06">0</text>
<text transform="translate(159.11,928.30) rotate(-90)" font-size="8.2" text-anchor="end" fill="#231F20" stroke="#231F20" stroke-width="0.06">1</text>
<text transform="translate(168.11,928.30) rotate(-90)" font-size="8.2" text-anchor="end" fill="#231F20" stroke="#231F20" stroke-width="0.06">2</text>
<text transform="translate(177.21,928.30) rotate(-90)" font-size="8.2" text-anchor="end" fill="#231F20" stroke="#231F20" stroke-width="0.06">3</text>
<text transform="translate(186.31,928.30) rotate(-90)" font-size="8.2" text-anchor="end" fill="#231F20" stroke="#231F20" stroke-width="0.06">4</text>
<text x="263.10" y="921.10" font-size="8.4" text-anchor="end" fill="#231F20" stroke="#231F20" stroke-width="0.06" >Normalized</text>
<text x="263.10" y="930.70" font-size="8.4" text-anchor="end" fill="#231F20" stroke="#231F20" stroke-width="0.06" >ratio</text>
<rect x="268.1" y="914.6" width="46.80" height="9.30" fill="url(#gBuPuE)"/>
<line x1="272.7" y1="922.3" x2="272.7" y2="923.9" stroke="#fff" stroke-width="0.6"/>
<line x1="285.5" y1="922.3" x2="285.5" y2="923.9" stroke="#fff" stroke-width="0.6"/>
<line x1="298.4" y1="922.3" x2="298.4" y2="923.9" stroke="#fff" stroke-width="0.6"/>
<text transform="translate(275.41,928.30) rotate(-90)" font-size="8.2" text-anchor="end" fill="#231F20" stroke="#231F20" stroke-width="0.06">0.2</text>
<text transform="translate(288.21,928.30) rotate(-90)" font-size="8.2" text-anchor="end" fill="#231F20" stroke="#231F20" stroke-width="0.06">0.4</text>
<text transform="translate(301.11,928.30) rotate(-90)" font-size="8.2" text-anchor="end" fill="#231F20" stroke="#231F20" stroke-width="0.06">0.6</text>
<text x="340.00" y="590.80" font-size="14" text-anchor="start" fill="#000" font-weight="bold" >f</text>
<text x="450.80" y="592.40" font-size="9.9" text-anchor="middle" fill="#231F20" stroke="#231F20" stroke-width="0.06" >Sending cells</text>
<text x="592.80" y="592.40" font-size="9.9" text-anchor="middle" fill="#231F20" stroke="#231F20" stroke-width="0.06" >Receiving cells</text>
<rect x="401.70" y="598.90" width="10.94" height="11.70" fill="#F79140" stroke="#FFFFFF" stroke-opacity="0.5" stroke-width="0.5"/>
<rect x="412.64" y="598.90" width="10.94" height="11.70" fill="#F58B3E" stroke="#FFFFFF" stroke-opacity="0.5" stroke-width="0.5"/>
<rect x="423.58" y="598.90" width="10.94" height="11.70" fill="#F99F4A" stroke="#FFFFFF" stroke-opacity="0.5" stroke-width="0.5"/>
<rect x="434.52" y="598.90" width="10.94" height="11.70" fill="#FDC15F" stroke="#FFFFFF" stroke-opacity="0.5" stroke-width="0.5"/>
<rect x="445.46" y="598.90" width="10.94" height="11.70" fill="#FEE59A" stroke="#FFFFFF" stroke-opacity="0.5" stroke-width="0.5"/>
<rect x="412.64" y="610.60" width="10.94" height="11.70" fill="#C4202C" stroke="#FFFFFF" stroke-opacity="0.5" stroke-width="0.5"/>
<rect x="434.52" y="610.60" width="10.94" height="11.70" fill="#EE4A2F" stroke="#FFFFFF" stroke-opacity="0.5" stroke-width="0.5"/>
<rect x="456.40" y="610.60" width="10.94" height="11.70" fill="#F7923F" stroke="#FFFFFF" stroke-opacity="0.5" stroke-width="0.5"/>
<rect x="412.64" y="622.29" width="10.94" height="11.70" fill="#FEE59A" stroke="#FFFFFF" stroke-opacity="0.5" stroke-width="0.5"/>
<rect x="423.58" y="622.29" width="10.94" height="11.70" fill="#FEDF8F" stroke="#FFFFFF" stroke-opacity="0.5" stroke-width="0.5"/>
<rect x="467.34" y="622.29" width="10.94" height="11.70" fill="#FECF6C" stroke="#FFFFFF" stroke-opacity="0.5" stroke-width="0.5"/>
<rect x="489.22" y="622.29" width="10.94" height="11.70" fill="#FED981" stroke="#FFFFFF" stroke-opacity="0.5" stroke-width="0.5"/>
<rect x="412.64" y="633.99" width="10.94" height="11.70" fill="#D8202A" stroke="#FFFFFF" stroke-opacity="0.5" stroke-width="0.5"/>
<rect x="423.58" y="633.99" width="10.94" height="11.70" fill="#E8352A" stroke="#FFFFFF" stroke-opacity="0.5" stroke-width="0.5"/>
<rect x="456.40" y="633.99" width="10.94" height="11.70" fill="#FDB052" stroke="#FFFFFF" stroke-opacity="0.5" stroke-width="0.5"/>
<rect x="467.34" y="633.99" width="10.94" height="11.70" fill="#80102A" stroke="#FFFFFF" stroke-opacity="0.5" stroke-width="0.5"/>
<rect x="412.64" y="645.68" width="10.94" height="11.70" fill="#EC4A2F" stroke="#FFFFFF" stroke-opacity="0.5" stroke-width="0.5"/>
<rect x="445.46" y="657.38" width="10.94" height="11.70" fill="#FEC15E" stroke="#FFFFFF" stroke-opacity="0.5" stroke-width="0.5"/>
<rect x="434.52" y="669.07" width="10.94" height="11.70" fill="#FEDC88" stroke="#FFFFFF" stroke-opacity="0.5" stroke-width="0.5"/>
<rect x="445.46" y="669.07" width="10.94" height="11.70" fill="#FEE396" stroke="#FFFFFF" stroke-opacity="0.5" stroke-width="0.5"/>
<rect x="467.34" y="680.76" width="10.94" height="11.70" fill="#EE4F30" stroke="#FFFFFF" stroke-opacity="0.5" stroke-width="0.5"/>
<rect x="467.34" y="692.46" width="10.94" height="11.70" fill="#FCAA4E" stroke="#FFFFFF" stroke-opacity="0.5" stroke-width="0.5"/>
<rect x="412.64" y="704.15" width="10.94" height="11.70" fill="#F26433" stroke="#FFFFFF" stroke-opacity="0.5" stroke-width="0.5"/>
<rect x="467.34" y="704.15" width="10.94" height="11.70" fill="#FCAA4E" stroke="#FFFFFF" stroke-opacity="0.5" stroke-width="0.5"/>
<rect x="467.34" y="715.85" width="10.94" height="11.70" fill="#F6873E" stroke="#FFFFFF" stroke-opacity="0.5" stroke-width="0.5"/>
<rect x="478.28" y="715.85" width="10.94" height="11.70" fill="#FEDD8B" stroke="#FFFFFF" stroke-opacity="0.5" stroke-width="0.5"/>
<rect x="478.28" y="727.54" width="10.94" height="11.70" fill="#FED681" stroke="#FFFFFF" stroke-opacity="0.5" stroke-width="0.5"/>
<rect x="478.28" y="739.24" width="10.94" height="11.70" fill="#FEF4C0" stroke="#FFFFFF" stroke-opacity="0.5" stroke-width="0.5"/>
<rect x="478.28" y="750.93" width="10.94" height="11.70" fill="#FEF4C0" stroke="#FFFFFF" stroke-opacity="0.5" stroke-width="0.5"/>
<rect x="434.52" y="762.63" width="10.94" height="11.70" fill="#FEF3BD" stroke="#FFFFFF" stroke-opacity="0.5" stroke-width="0.5"/>
<rect x="467.34" y="762.63" width="10.94" height="11.70" fill="#FEE39A" stroke="#FFFFFF" stroke-opacity="0.5" stroke-width="0.5"/>
<rect x="478.28" y="762.63" width="10.94" height="11.70" fill="#FED47E" stroke="#FFFFFF" stroke-opacity="0.5" stroke-width="0.5"/>
<rect x="467.34" y="774.33" width="10.94" height="11.70" fill="#FED681" stroke="#FFFFFF" stroke-opacity="0.5" stroke-width="0.5"/>
<rect x="445.46" y="786.02" width="10.94" height="11.70" fill="#FED27A" stroke="#FFFFFF" stroke-opacity="0.5" stroke-width="0.5"/>
<rect x="445.46" y="797.71" width="10.94" height="11.70" fill="#FED27A" stroke="#FFFFFF" stroke-opacity="0.5" stroke-width="0.5"/>
<rect x="467.34" y="809.41" width="10.94" height="11.70" fill="#E5302A" stroke="#FFFFFF" stroke-opacity="0.5" stroke-width="0.5"/>
<rect x="478.28" y="809.41" width="10.94" height="11.70" fill="#FEE8A6" stroke="#FFFFFF" stroke-opacity="0.5" stroke-width="0.5"/>
<rect x="467.34" y="821.11" width="10.94" height="11.70" fill="#E5302A" stroke="#FFFFFF" stroke-opacity="0.5" stroke-width="0.5"/>
<rect x="478.28" y="821.11" width="10.94" height="11.70" fill="#FEE8A6" stroke="#FFFFFF" stroke-opacity="0.5" stroke-width="0.5"/>
<rect x="467.34" y="832.80" width="10.94" height="11.70" fill="#FBA84C" stroke="#FFFFFF" stroke-opacity="0.5" stroke-width="0.5"/>
<rect x="467.34" y="844.50" width="10.94" height="11.70" fill="#FBA84C" stroke="#FFFFFF" stroke-opacity="0.5" stroke-width="0.5"/>
<rect x="401.70" y="856.19" width="10.94" height="11.70" fill="#FED07A" stroke="#FFFFFF" stroke-opacity="0.5" stroke-width="0.5"/>
<rect x="516.40" y="598.90" width="8.48" height="11.70" fill="#8F55A5" stroke="#FFFFFF" stroke-opacity="0.5" stroke-width="0.5"/>
<rect x="524.88" y="598.90" width="8.48" height="11.70" fill="#8F72B4" stroke="#FFFFFF" stroke-opacity="0.5" stroke-width="0.5"/>
<rect x="533.35" y="598.90" width="8.48" height="11.70" fill="#8A7BBA" stroke="#FFFFFF" stroke-opacity="0.5" stroke-width="0.5"/>
<rect x="541.83" y="598.90" width="8.48" height="11.70" fill="#8B81BD" stroke="#FFFFFF" stroke-opacity="0.5" stroke-width="0.5"/>
<rect x="550.31" y="598.90" width="8.48" height="11.70" fill="#8A84BE" stroke="#FFFFFF" stroke-opacity="0.5" stroke-width="0.5"/>
<rect x="558.78" y="598.90" width="8.48" height="11.70" fill="#8887BF" stroke="#FFFFFF" stroke-opacity="0.5" stroke-width="0.5"/>
<rect x="567.26" y="598.90" width="8.48" height="11.70" fill="#8A91C5" stroke="#FFFFFF" stroke-opacity="0.5" stroke-width="0.5"/>
<rect x="575.74" y="598.90" width="8.48" height="11.70" fill="#94A5D1" stroke="#FFFFFF" stroke-opacity="0.5" stroke-width="0.5"/>
<rect x="584.22" y="598.90" width="8.48" height="11.70" fill="#9DB5D9" stroke="#FFFFFF" stroke-opacity="0.5" stroke-width="0.5"/>
<rect x="516.40" y="610.60" width="8.48" height="11.70" fill="#6A1E6A" stroke="#FFFFFF" stroke-opacity="0.5" stroke-width="0.5"/>
<rect x="524.88" y="610.60" width="8.48" height="11.70" fill="#8C80BD" stroke="#FFFFFF" stroke-opacity="0.5" stroke-width="0.5"/>
<rect x="533.35" y="610.60" width="8.48" height="11.70" fill="#8A3D98" stroke="#FFFFFF" stroke-opacity="0.5" stroke-width="0.5"/>
<rect x="516.40" y="622.29" width="8.48" height="11.70" fill="#9DB8DA" stroke="#FFFFFF" stroke-opacity="0.5" stroke-width="0.5"/>
<rect x="524.88" y="622.29" width="8.48" height="11.70" fill="#9AB5D8" stroke="#FFFFFF" stroke-opacity="0.5" stroke-width="0.5"/>
<rect x="533.35" y="622.29" width="8.48" height="11.70" fill="#96A8D3" stroke="#FFFFFF" stroke-opacity="0.5" stroke-width="0.5"/>
<rect x="592.69" y="633.99" width="8.48" height="11.70" fill="#6F2070" stroke="#FFFFFF" stroke-opacity="0.5" stroke-width="0.5"/>
<rect x="601.17" y="633.99" width="8.48" height="11.70" fill="#8E5CA9" stroke="#FFFFFF" stroke-opacity="0.5" stroke-width="0.5"/>
<rect x="592.69" y="645.68" width="8.48" height="11.70" fill="#4E1150" stroke="#FFFFFF" stroke-opacity="0.5" stroke-width="0.5"/>
<rect x="592.69" y="657.38" width="8.48" height="11.70" fill="#8E9DCB" stroke="#FFFFFF" stroke-opacity="0.5" stroke-width="0.5"/>
<rect x="592.69" y="669.07" width="8.48" height="11.70" fill="#A8C3E0" stroke="#FFFFFF" stroke-opacity="0.5" stroke-width="0.5"/>
<rect x="601.17" y="680.76" width="8.48" height="11.70" fill="#CADBEB" stroke="#FFFFFF" stroke-opacity="0.5" stroke-width="0.5"/>
<rect x="592.69" y="692.46" width="8.48" height="11.70" fill="#883A96" stroke="#FFFFFF" stroke-opacity="0.5" stroke-width="0.5"/>
<rect x="601.17" y="692.46" width="8.48" height="11.70" fill="#8E56A7" stroke="#FFFFFF" stroke-opacity="0.5" stroke-width="0.5"/>
<rect x="516.40" y="704.15" width="8.48" height="11.70" fill="#883596" stroke="#FFFFFF" stroke-opacity="0.5" stroke-width="0.5"/>
<rect x="516.40" y="715.85" width="8.48" height="11.70" fill="#A1BADB" stroke="#FFFFFF" stroke-opacity="0.5" stroke-width="0.5"/>
<rect x="575.74" y="715.85" width="8.48" height="11.70" fill="#96AAD4" stroke="#FFFFFF" stroke-opacity="0.5" stroke-width="0.5"/>
<rect x="592.69" y="715.85" width="8.48" height="11.70" fill="#C5D7EA" stroke="#FFFFFF" stroke-opacity="0.5" stroke-width="0.5"/>
<rect x="601.17" y="715.85" width="8.48" height="11.70" fill="#C0D4E8" stroke="#FFFFFF" stroke-opacity="0.5" stroke-width="0.5"/>
<rect x="609.65" y="715.85" width="8.48" height="11.70" fill="#DAE6F1" stroke="#FFFFFF" stroke-opacity="0.5" stroke-width="0.5"/>
<rect x="618.12" y="727.54" width="8.48" height="11.70" fill="#87339A" stroke="#FFFFFF" stroke-opacity="0.5" stroke-width="0.5"/>
<rect x="618.12" y="739.24" width="8.48" height="11.70" fill="#8C5CA9" stroke="#FFFFFF" stroke-opacity="0.5" stroke-width="0.5"/>
<rect x="626.60" y="750.93" width="8.48" height="11.70" fill="#CBDCEC" stroke="#FFFFFF" stroke-opacity="0.5" stroke-width="0.5"/>
<rect x="516.40" y="762.63" width="8.48" height="11.70" fill="#D0DFEE" stroke="#FFFFFF" stroke-opacity="0.5" stroke-width="0.5"/>
<rect x="524.88" y="762.63" width="8.48" height="11.70" fill="#E3ECF5" stroke="#FFFFFF" stroke-opacity="0.5" stroke-width="0.5"/>
<rect x="533.35" y="762.63" width="8.48" height="11.70" fill="#E6EEF7" stroke="#FFFFFF" stroke-opacity="0.5" stroke-width="0.5"/>
<rect x="541.83" y="762.63" width="8.48" height="11.70" fill="#E3ECF5" stroke="#FFFFFF" stroke-opacity="0.5" stroke-width="0.5"/>
<rect x="550.31" y="762.63" width="8.48" height="11.70" fill="#D8E5F1" stroke="#FFFFFF" stroke-opacity="0.5" stroke-width="0.5"/>
<rect x="558.78" y="762.63" width="8.48" height="11.70" fill="#C9DAEB" stroke="#FFFFFF" stroke-opacity="0.5" stroke-width="0.5"/>
<rect x="575.74" y="762.63" width="8.48" height="11.70" fill="#C7D9EA" stroke="#FFFFFF" stroke-opacity="0.5" stroke-width="0.5"/>
<rect x="584.22" y="762.63" width="8.48" height="11.70" fill="#E6EEF7" stroke="#FFFFFF" stroke-opacity="0.5" stroke-width="0.5"/>
<rect x="592.69" y="762.63" width="8.48" height="11.70" fill="#B7CEE5" stroke="#FFFFFF" stroke-opacity="0.5" stroke-width="0.5"/>
<rect x="601.17" y="762.63" width="8.48" height="11.70" fill="#F1F6FA" stroke="#FFFFFF" stroke-opacity="0.5" stroke-width="0.5"/>
<rect x="609.65" y="762.63" width="8.48" height="11.70" fill="#F3F7FB" stroke="#FFFFFF" stroke-opacity="0.5" stroke-width="0.5"/>
<rect x="618.12" y="762.63" width="8.48" height="11.70" fill="#87339A" stroke="#FFFFFF" stroke-opacity="0.5" stroke-width="0.5"/>
<rect x="626.60" y="762.63" width="8.48" height="11.70" fill="#D8E5F1" stroke="#FFFFFF" stroke-opacity="0.5" stroke-width="0.5"/>
<rect x="635.08" y="762.63" width="8.48" height="11.70" fill="#CADBEB" stroke="#FFFFFF" stroke-opacity="0.5" stroke-width="0.5"/>
<rect x="643.55" y="762.63" width="8.48" height="11.70" fill="#E6EEF7" stroke="#FFFFFF" stroke-opacity="0.5" stroke-width="0.5"/>
<rect x="652.03" y="762.63" width="8.48" height="11.70" fill="#F1F6FA" stroke="#FFFFFF" stroke-opacity="0.5" stroke-width="0.5"/>
<rect x="660.51" y="762.63" width="8.48" height="11.70" fill="#F1F6FA" stroke="#FFFFFF" stroke-opacity="0.5" stroke-width="0.5"/>
<rect x="516.40" y="774.33" width="8.48" height="11.70" fill="#B5CCE4" stroke="#FFFFFF" stroke-opacity="0.5" stroke-width="0.5"/>
<rect x="524.88" y="774.33" width="8.48" height="11.70" fill="#DCE7F2" stroke="#FFFFFF" stroke-opacity="0.5" stroke-width="0.5"/>
<rect x="533.35" y="774.33" width="8.48" height="11.70" fill="#D8E5F1" stroke="#FFFFFF" stroke-opacity="0.5" stroke-width="0.5"/>
<rect x="541.83" y="774.33" width="8.48" height="11.70" fill="#BBD0E7" stroke="#FFFFFF" stroke-opacity="0.5" stroke-width="0.5"/>
<rect x="550.31" y="774.33" width="8.48" height="11.70" fill="#DCE7F2" stroke="#FFFFFF" stroke-opacity="0.5" stroke-width="0.5"/>
<rect x="558.78" y="774.33" width="8.48" height="11.70" fill="#E6EEF7" stroke="#FFFFFF" stroke-opacity="0.5" stroke-width="0.5"/>
<rect x="567.26" y="774.33" width="8.48" height="11.70" fill="#E6EEF7" stroke="#FFFFFF" stroke-opacity="0.5" stroke-width="0.5"/>
<rect x="575.74" y="774.33" width="8.48" height="11.70" fill="#A7C0DF" stroke="#FFFFFF" stroke-opacity="0.5" stroke-width="0.5"/>
<rect x="584.22" y="774.33" width="8.48" height="11.70" fill="#E6EEF7" stroke="#FFFFFF" stroke-opacity="0.5" stroke-width="0.5"/>
<rect x="592.69" y="774.33" width="8.48" height="11.70" fill="#DCE7F2" stroke="#FFFFFF" stroke-opacity="0.5" stroke-width="0.5"/>
<rect x="601.17" y="774.33" width="8.48" height="11.70" fill="#C9DAEB" stroke="#FFFFFF" stroke-opacity="0.5" stroke-width="0.5"/>
<rect x="609.65" y="774.33" width="8.48" height="11.70" fill="#C5D7EA" stroke="#FFFFFF" stroke-opacity="0.5" stroke-width="0.5"/>
<rect x="626.60" y="774.33" width="8.48" height="11.70" fill="#C5D7EA" stroke="#FFFFFF" stroke-opacity="0.5" stroke-width="0.5"/>
<rect x="643.55" y="774.33" width="8.48" height="11.70" fill="#C9DAEB" stroke="#FFFFFF" stroke-opacity="0.5" stroke-width="0.5"/>
<rect x="660.51" y="774.33" width="8.48" height="11.70" fill="#D0DFEE" stroke="#FFFFFF" stroke-opacity="0.5" stroke-width="0.5"/>
<rect x="516.40" y="786.02" width="8.48" height="11.70" fill="#D8E5F1" stroke="#FFFFFF" stroke-opacity="0.5" stroke-width="0.5"/>
<rect x="533.35" y="786.02" width="8.48" height="11.70" fill="#DCE7F2" stroke="#FFFFFF" stroke-opacity="0.5" stroke-width="0.5"/>
<rect x="541.83" y="786.02" width="8.48" height="11.70" fill="#C6D8EA" stroke="#FFFFFF" stroke-opacity="0.5" stroke-width="0.5"/>
<rect x="558.78" y="786.02" width="8.48" height="11.70" fill="#DCE7F2" stroke="#FFFFFF" stroke-opacity="0.5" stroke-width="0.5"/>
<rect x="584.22" y="786.02" width="8.48" height="11.70" fill="#E3ECF5" stroke="#FFFFFF" stroke-opacity="0.5" stroke-width="0.5"/>
<rect x="601.17" y="786.02" width="8.48" height="11.70" fill="#DCE7F2" stroke="#FFFFFF" stroke-opacity="0.5" stroke-width="0.5"/>
<rect x="626.60" y="786.02" width="8.48" height="11.70" fill="#E3ECF5" stroke="#FFFFFF" stroke-opacity="0.5" stroke-width="0.5"/>
<rect x="516.40" y="797.71" width="8.48" height="11.70" fill="#ECF2F9" stroke="#FFFFFF" stroke-opacity="0.5" stroke-width="0.5"/>
<rect x="592.69" y="809.41" width="8.48" height="11.70" fill="#A9C3E0" stroke="#FFFFFF" stroke-opacity="0.5" stroke-width="0.5"/>
<rect x="601.17" y="809.41" width="8.48" height="11.70" fill="#E6EEF7" stroke="#FFFFFF" stroke-opacity="0.5" stroke-width="0.5"/>
<rect x="609.65" y="809.41" width="8.48" height="11.70" fill="#9AAFD6" stroke="#FFFFFF" stroke-opacity="0.5" stroke-width="0.5"/>
<rect x="626.60" y="809.41" width="8.48" height="11.70" fill="#DCE7F2" stroke="#FFFFFF" stroke-opacity="0.5" stroke-width="0.5"/>
<rect x="660.51" y="809.41" width="8.48" height="11.70" fill="#D8E5F1" stroke="#FFFFFF" stroke-opacity="0.5" stroke-width="0.5"/>
<rect x="541.83" y="821.11" width="8.48" height="11.70" fill="#ABC5E0" stroke="#FFFFFF" stroke-opacity="0.5" stroke-width="0.5"/>
<rect x="550.31" y="821.11" width="8.48" height="11.70" fill="#DCE7F2" stroke="#FFFFFF" stroke-opacity="0.5" stroke-width="0.5"/>
<rect x="524.88" y="832.80" width="8.48" height="11.70" fill="#DCE7F2" stroke="#FFFFFF" stroke-opacity="0.5" stroke-width="0.5"/>
<rect x="601.17" y="844.50" width="8.48" height="11.70" fill="#C5D7EA" stroke="#FFFFFF" stroke-opacity="0.5" stroke-width="0.5"/>
<rect x="541.83" y="856.19" width="8.48" height="11.70" fill="#A6C0DF" stroke="#FFFFFF" stroke-opacity="0.5" stroke-width="0.5"/>
<line x1="508.4" y1="596.9" x2="508.4" y2="868.38" stroke="#222" stroke-width="1.1" stroke-dasharray="3.2 2.65"/>
<text x="397.30" y="607.25" font-size="7.7" text-anchor="end" fill="#231F20" stroke="#231F20" stroke-width="0.06" textLength="26.4" lengthAdjust="spacingAndGlyphs">NAMPT</text>
<text x="397.30" y="618.94" font-size="7.7" text-anchor="end" fill="#231F20" stroke="#231F20" stroke-width="0.06" textLength="19.3" lengthAdjust="spacingAndGlyphs">CSF3</text>
<text x="397.30" y="630.64" font-size="7.7" text-anchor="end" fill="#231F20" stroke="#231F20" stroke-width="0.06" textLength="45.6" lengthAdjust="spacingAndGlyphs">CSF1–CSF1R</text>
<text x="397.30" y="642.33" font-size="7.7" text-anchor="end" fill="#231F20" stroke="#231F20" stroke-width="0.06" textLength="58.1" lengthAdjust="spacingAndGlyphs">CXCL10–ACKR1</text>
<text x="397.30" y="654.03" font-size="7.7" text-anchor="end" fill="#231F20" stroke="#231F20" stroke-width="0.06" textLength="55.5" lengthAdjust="spacingAndGlyphs">CXCL11–ACKR1</text>
<text x="397.30" y="665.72" font-size="7.7" text-anchor="end" fill="#231F20" stroke="#231F20" stroke-width="0.06" textLength="54.5" lengthAdjust="spacingAndGlyphs">CXCL5–ACKR1</text>
<text x="397.30" y="677.42" font-size="7.7" text-anchor="end" fill="#231F20" stroke="#231F20" stroke-width="0.06" textLength="54.5" lengthAdjust="spacingAndGlyphs">CXCL3–ACKR1</text>
<text x="397.30" y="689.11" font-size="7.7" text-anchor="end" fill="#231F20" stroke="#231F20" stroke-width="0.06" textLength="57.5" lengthAdjust="spacingAndGlyphs">CXCL13–ACKR1</text>
<text x="397.30" y="700.81" font-size="7.7" text-anchor="end" fill="#231F20" stroke="#231F20" stroke-width="0.06" textLength="48.6" lengthAdjust="spacingAndGlyphs">CCL2–ACKR1</text>
<text x="397.30" y="712.50" font-size="7.7" text-anchor="end" fill="#231F20" stroke="#231F20" stroke-width="0.06" textLength="45.2" lengthAdjust="spacingAndGlyphs">CCL2–CCR2</text>
<text x="397.30" y="724.20" font-size="7.7" text-anchor="end" fill="#231F20" stroke="#231F20" stroke-width="0.06" textLength="45.9" lengthAdjust="spacingAndGlyphs">VEGFA–FLT1</text>
<text x="397.30" y="735.89" font-size="7.7" text-anchor="end" fill="#231F20" stroke="#231F20" stroke-width="0.06" textLength="45.2" lengthAdjust="spacingAndGlyphs">VEGFA–KDR</text>
<text x="397.30" y="747.59" font-size="7.7" text-anchor="end" fill="#231F20" stroke="#231F20" stroke-width="0.06" textLength="47.4" lengthAdjust="spacingAndGlyphs">FGF7–FGFR2</text>
<text x="397.30" y="759.28" font-size="7.7" text-anchor="end" fill="#231F20" stroke="#231F20" stroke-width="0.06" textLength="45.6" lengthAdjust="spacingAndGlyphs">FGF7–FGFR1</text>
<text x="397.30" y="770.98" font-size="7.7" text-anchor="end" fill="#231F20" stroke="#231F20" stroke-width="0.06" textLength="55.9" lengthAdjust="spacingAndGlyphs">TGFB1–TGFBR2</text>
<text x="397.30" y="782.67" font-size="7.7" text-anchor="end" fill="#231F20" stroke="#231F20" stroke-width="0.06" textLength="57.8" lengthAdjust="spacingAndGlyphs">TGFB3–TGFBR2</text>
<text x="397.30" y="794.37" font-size="7.7" text-anchor="end" fill="#231F20" stroke="#231F20" stroke-width="0.06" textLength="36.8" lengthAdjust="spacingAndGlyphs">IL1B–IL1R1</text>
<text x="397.30" y="806.06" font-size="7.7" text-anchor="end" fill="#231F20" stroke="#231F20" stroke-width="0.06" textLength="36.8" lengthAdjust="spacingAndGlyphs">IL1A–IL1R1</text>
<text x="397.30" y="817.76" font-size="7.7" text-anchor="end" fill="#231F20" stroke="#231F20" stroke-width="0.06" textLength="43.2" lengthAdjust="spacingAndGlyphs">IL15–IL15RA</text>
<text x="397.30" y="829.45" font-size="7.7" text-anchor="end" fill="#231F20" stroke="#231F20" stroke-width="0.06" textLength="39.4" lengthAdjust="spacingAndGlyphs">IL15–IL2RB</text>
<text x="397.30" y="841.15" font-size="7.7" text-anchor="end" fill="#231F20" stroke="#231F20" stroke-width="0.06" textLength="44.6" lengthAdjust="spacingAndGlyphs">IL33–IL1RAP</text>
<text x="397.30" y="852.84" font-size="7.7" text-anchor="end" fill="#231F20" stroke="#231F20" stroke-width="0.06" textLength="41.8" lengthAdjust="spacingAndGlyphs">IL33–IL1RL1</text>
<text x="397.30" y="864.54" font-size="7.7" text-anchor="end" fill="#231F20" stroke="#231F20" stroke-width="0.06" textLength="32.6" lengthAdjust="spacingAndGlyphs">SEMA3C</text>
<text transform="translate(408.07,877.80) rotate(-45)" font-size="6.7" text-anchor="end" fill="#231F20" stroke="#231F20" stroke-width="0.06">AT1<tspan font-size="4.2" dy="1.3">L</tspan></text>
<text transform="translate(419.01,877.80) rotate(-45)" font-size="6.7" text-anchor="end" fill="#231F20" stroke="#231F20" stroke-width="0.06">gCap<tspan font-size="4.2" dy="1.3">L</tspan></text>
<text transform="translate(429.95,877.80) rotate(-45)" font-size="6.7" text-anchor="end" fill="#231F20" stroke="#231F20" stroke-width="0.06">Aerocyte<tspan font-size="4.2" dy="1.3">L</tspan></text>
<text transform="translate(440.89,877.80) rotate(-45)" font-size="6.7" text-anchor="end" fill="#231F20" stroke="#231F20" stroke-width="0.06">AT2<tspan font-size="4.2" dy="1.3">L</tspan></text>
<text transform="translate(451.83,877.80) rotate(-45)" font-size="6.7" text-anchor="end" fill="#231F20" stroke="#231F20" stroke-width="0.06">AM<tspan font-size="4.2" dy="1.3">L</tspan></text>
<text transform="translate(462.77,877.80) rotate(-45)" font-size="6.7" text-anchor="end" fill="#231F20" stroke="#231F20" stroke-width="0.06">Artery<tspan font-size="4.2" dy="1.3">L</tspan></text>
<text transform="translate(473.71,877.80) rotate(-45)" font-size="6.7" text-anchor="end" fill="#231F20" stroke="#231F20" stroke-width="0.06">Fibroblast<tspan font-size="4.2" dy="1.3">L</tspan></text>
<text transform="translate(484.65,877.80) rotate(-45)" font-size="6.7" text-anchor="end" fill="#231F20" stroke="#231F20" stroke-width="0.06">Fibroblast<tspan font-size="4.2" dy="1.3">CTHRC1</tspan></text>
<text transform="translate(495.59,877.80) rotate(-45)" font-size="6.7" text-anchor="end" fill="#231F20" stroke="#231F20" stroke-width="0.06">IM<tspan font-size="4.2" dy="1.3">CHIT</tspan></text>
<text transform="translate(520.04,878.00) rotate(-45)" font-size="6.7" text-anchor="end" fill="#231F20" stroke="#231F20" stroke-width="0.06">Monocyte</text>
<text transform="translate(528.52,878.00) rotate(-45)" font-size="6.7" text-anchor="end" fill="#231F20" stroke="#231F20" stroke-width="0.06">AM</text>
<text transform="translate(536.99,878.00) rotate(-45)" font-size="6.7" text-anchor="end" fill="#231F20" stroke="#231F20" stroke-width="0.06">IM</text>
<text transform="translate(545.47,878.00) rotate(-45)" font-size="6.7" text-anchor="end" fill="#231F20" stroke="#231F20" stroke-width="0.06">Treg</text>
<text transform="translate(553.95,878.00) rotate(-45)" font-size="6.7" text-anchor="end" fill="#231F20" stroke="#231F20" stroke-width="0.06">CD4</text>
<text transform="translate(562.42,878.00) rotate(-45)" font-size="6.7" text-anchor="end" fill="#231F20" stroke="#231F20" stroke-width="0.06">CD8</text>
<text transform="translate(570.90,878.00) rotate(-45)" font-size="6.7" text-anchor="end" fill="#231F20" stroke="#231F20" stroke-width="0.06">Mast</text>
<text transform="translate(579.38,878.00) rotate(-45)" font-size="6.7" text-anchor="end" fill="#231F20" stroke="#231F20" stroke-width="0.06">NK</text>
<text transform="translate(587.85,878.00) rotate(-45)" font-size="6.7" text-anchor="end" fill="#231F20" stroke="#231F20" stroke-width="0.06">B/plasma</text>
<text transform="translate(596.33,878.00) rotate(-45)" font-size="6.7" text-anchor="end" fill="#231F20" stroke="#231F20" stroke-width="0.06">Vein</text>
<text transform="translate(604.81,878.00) rotate(-45)" font-size="6.7" text-anchor="end" fill="#231F20" stroke="#231F20" stroke-width="0.06">gCap</text>
<text transform="translate(613.29,878.00) rotate(-45)" font-size="6.7" text-anchor="end" fill="#231F20" stroke="#231F20" stroke-width="0.06">Aerocyte</text>
<text transform="translate(621.76,878.00) rotate(-45)" font-size="6.7" text-anchor="end" fill="#231F20" stroke="#231F20" stroke-width="0.06">ABC</text>
<text transform="translate(630.24,878.00) rotate(-45)" font-size="6.7" text-anchor="end" fill="#231F20" stroke="#231F20" stroke-width="0.06">Fibroblast</text>
<text transform="translate(638.72,878.00) rotate(-45)" font-size="6.7" text-anchor="end" fill="#231F20" stroke="#231F20" stroke-width="0.06">Basal</text>
<text transform="translate(647.19,878.00) rotate(-45)" font-size="6.7" text-anchor="end" fill="#231F20" stroke="#231F20" stroke-width="0.06">AT2</text>
<text transform="translate(655.67,878.00) rotate(-45)" font-size="6.7" text-anchor="end" fill="#231F20" stroke="#231F20" stroke-width="0.06">Artery</text>
<text transform="translate(664.15,878.00) rotate(-45)" font-size="6.7" text-anchor="end" fill="#231F20" stroke="#231F20" stroke-width="0.06">AT1</text>
<text x="433.30" y="921.60" font-size="8.6" text-anchor="end" fill="#231F20" stroke="#231F20" stroke-width="0.06" >log<tspan font-size="5.6" dy="1.8">2</tspan><tspan dy="-1.8">(FC)</tspan></text>
<rect x="437.4" y="914.7" width="36.40" height="9.10" fill="url(#gYlOrRdF)"/>
<line x1="443.3" y1="922.1999999999999" x2="443.3" y2="923.8" stroke="#fff" stroke-width="0.6"/>
<line x1="450.4" y1="922.1999999999999" x2="450.4" y2="923.8" stroke="#fff" stroke-width="0.6"/>
<line x1="457.1" y1="922.1999999999999" x2="457.1" y2="923.8" stroke="#fff" stroke-width="0.6"/>
<line x1="463.7" y1="922.1999999999999" x2="463.7" y2="923.8" stroke="#fff" stroke-width="0.6"/>
<line x1="470.5" y1="922.1999999999999" x2="470.5" y2="923.8" stroke="#fff" stroke-width="0.6"/>
<text transform="translate(445.68,928.20) rotate(-90)" font-size="7.2" text-anchor="end" fill="#231F20" stroke="#231F20" stroke-width="0.06">1</text>
<text transform="translate(452.78,928.20) rotate(-90)" font-size="7.2" text-anchor="end" fill="#231F20" stroke="#231F20" stroke-width="0.06">2</text>
<text transform="translate(459.48,928.20) rotate(-90)" font-size="7.2" text-anchor="end" fill="#231F20" stroke="#231F20" stroke-width="0.06">3</text>
<text transform="translate(466.08,928.20) rotate(-90)" font-size="7.2" text-anchor="end" fill="#231F20" stroke="#231F20" stroke-width="0.06">4</text>
<text transform="translate(472.88,928.20) rotate(-90)" font-size="7.2" text-anchor="end" fill="#231F20" stroke="#231F20" stroke-width="0.06">5</text>
<text x="588.30" y="921.30" font-size="8.5" text-anchor="end" fill="#231F20" stroke="#231F20" stroke-width="0.06" >Normalized ratio</text>
<rect x="591.9" y="913.8" width="50.90" height="10.00" fill="url(#gBuPuF)"/>
<line x1="603.5" y1="913.8" x2="603.5" y2="915.4" stroke="#fff" stroke-width="0.6"/>
<line x1="603.5" y1="922.1999999999999" x2="603.5" y2="923.8" stroke="#fff" stroke-width="0.6"/>
<line x1="618.4" y1="913.8" x2="618.4" y2="915.4" stroke="#fff" stroke-width="0.6"/>
<line x1="618.4" y1="922.1999999999999" x2="618.4" y2="923.8" stroke="#fff" stroke-width="0.6"/>
<line x1="633.5" y1="913.8" x2="633.5" y2="915.4" stroke="#fff" stroke-width="0.6"/>
<line x1="633.5" y1="922.1999999999999" x2="633.5" y2="923.8" stroke="#fff" stroke-width="0.6"/>
<text transform="translate(606.21,928.20) rotate(-90)" font-size="8.2" text-anchor="end" fill="#231F20" stroke="#231F20" stroke-width="0.06">0.25</text>
<text transform="translate(621.11,928.20) rotate(-90)" font-size="8.2" text-anchor="end" fill="#231F20" stroke="#231F20" stroke-width="0.06">0.50</text>
<text transform="translate(636.21,928.20) rotate(-90)" font-size="8.2" text-anchor="end" fill="#231F20" stroke="#231F20" stroke-width="0.06">0.75</text>
</svg></body></html>
